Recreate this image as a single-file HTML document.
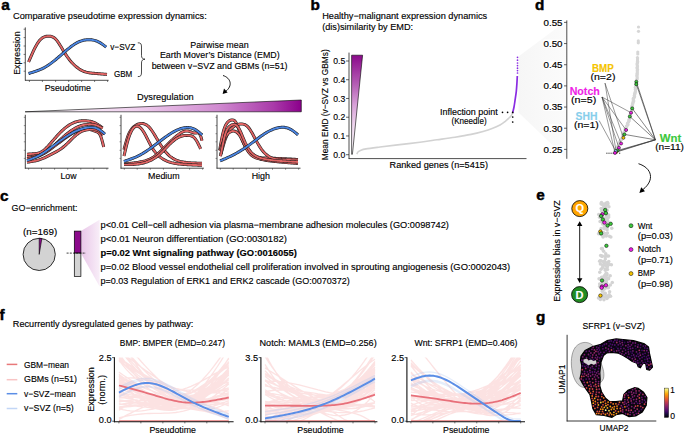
<!DOCTYPE html>
<html><head><meta charset="utf-8"><style>
html,body{margin:0;padding:0;background:#fff;}
svg{display:block;}
text{font-family:"Liberation Sans",sans-serif;font-size:9px;stroke:#000;stroke-width:0.14px;}
</style></head><body>
<svg width="685" height="433" viewBox="0 0 685 433">
<text x="1.2" y="9.8" style="font-size:15.3px;font-weight:bold;stroke:#000;stroke-width:0.45px">a</text>
<text x="13.00" y="19.40" textLength="193.70" lengthAdjust="spacingAndGlyphs" >Comparative pseudotime expression dynamics:</text>
<line x1="25.30" y1="27.40" x2="25.30" y2="80.60" stroke="#222" stroke-width="0.8" />
<line x1="25.00" y1="80.30" x2="108.60" y2="80.30" stroke="#222" stroke-width="0.8" />
<line x1="23.60" y1="29.20" x2="25.30" y2="29.20" stroke="#222" stroke-width="0.6" />
<line x1="23.60" y1="37.60" x2="25.30" y2="37.60" stroke="#222" stroke-width="0.6" />
<line x1="23.60" y1="46.00" x2="25.30" y2="46.00" stroke="#222" stroke-width="0.6" />
<line x1="23.60" y1="54.40" x2="25.30" y2="54.40" stroke="#222" stroke-width="0.6" />
<line x1="23.60" y1="62.80" x2="25.30" y2="62.80" stroke="#222" stroke-width="0.6" />
<line x1="23.60" y1="71.20" x2="25.30" y2="71.20" stroke="#222" stroke-width="0.6" />
<line x1="29.40" y1="80.30" x2="29.40" y2="82.00" stroke="#222" stroke-width="0.6" />
<line x1="42.40" y1="80.30" x2="42.40" y2="82.00" stroke="#222" stroke-width="0.6" />
<line x1="55.60" y1="80.30" x2="55.60" y2="82.00" stroke="#222" stroke-width="0.6" />
<line x1="68.70" y1="80.30" x2="68.70" y2="82.00" stroke="#222" stroke-width="0.6" />
<line x1="81.60" y1="80.30" x2="81.60" y2="82.00" stroke="#222" stroke-width="0.6" />
<line x1="94.60" y1="80.30" x2="94.60" y2="82.00" stroke="#222" stroke-width="0.6" />
<line x1="107.60" y1="80.30" x2="107.60" y2="82.00" stroke="#222" stroke-width="0.6" />
<text x="0" y="0" text-anchor="middle" textLength="43.40" lengthAdjust="spacingAndGlyphs" transform="translate(20.10,53.10) rotate(-90)">Expression</text>
<text x="44.70" y="90.80" textLength="46.30" lengthAdjust="spacingAndGlyphs" >Pseudotime</text>
<path d="M28.60,62.00 L29.59,59.69 L30.58,57.39 L31.58,55.12 L32.57,52.90 L33.56,50.74 L34.55,48.67 L35.55,46.72 L36.54,44.92 L37.53,43.28 L38.52,41.83 L39.52,40.56 L40.51,39.46 L41.50,38.55 L42.49,37.80 L43.49,37.23 L44.48,36.81 L45.47,36.52 L46.46,36.34 L47.46,36.23 L48.45,36.19 L49.44,36.20 L50.43,36.29 L51.43,36.48 L52.42,36.81 L53.41,37.29 L54.40,37.94 L55.39,38.80 L56.39,39.86 L57.38,41.12 L58.37,42.54 L59.36,44.07 L60.36,45.69 L61.35,47.35 L62.34,49.03 L63.33,50.69 L64.33,52.30 L65.32,53.87 L66.31,55.39 L67.30,56.84 L68.30,58.22 L69.29,59.54 L70.28,60.77 L71.27,61.94 L72.27,63.03 L73.26,64.06 L74.25,65.03 L75.24,65.94 L76.24,66.78 L77.23,67.57 L78.22,68.30 L79.21,68.97 L80.21,69.58 L81.20,70.13 L82.19,70.63 L83.18,71.08 L84.17,71.47 L85.17,71.81 L86.16,72.10 L87.15,72.36 L88.14,72.58 L89.14,72.76 L90.13,72.92 L91.12,73.05 L92.11,73.17 L93.11,73.26 L94.10,73.35 L95.09,73.43 L96.08,73.51 L97.08,73.58 L98.07,73.66 L99.06,73.74 L100.05,73.82 L101.05,73.90 L102.04,73.99 L103.03,74.07 L104.02,74.15 L105.02,74.23 L106.01,74.32 L107.00,74.40" fill="none" stroke="#1a1a1a" stroke-width="3.0" stroke-linecap="butt"/>
<path d="M28.60,62.00 L29.59,59.69 L30.58,57.39 L31.58,55.12 L32.57,52.90 L33.56,50.74 L34.55,48.67 L35.55,46.72 L36.54,44.92 L37.53,43.28 L38.52,41.83 L39.52,40.56 L40.51,39.46 L41.50,38.55 L42.49,37.80 L43.49,37.23 L44.48,36.81 L45.47,36.52 L46.46,36.34 L47.46,36.23 L48.45,36.19 L49.44,36.20 L50.43,36.29 L51.43,36.48 L52.42,36.81 L53.41,37.29 L54.40,37.94 L55.39,38.80 L56.39,39.86 L57.38,41.12 L58.37,42.54 L59.36,44.07 L60.36,45.69 L61.35,47.35 L62.34,49.03 L63.33,50.69 L64.33,52.30 L65.32,53.87 L66.31,55.39 L67.30,56.84 L68.30,58.22 L69.29,59.54 L70.28,60.77 L71.27,61.94 L72.27,63.03 L73.26,64.06 L74.25,65.03 L75.24,65.94 L76.24,66.78 L77.23,67.57 L78.22,68.30 L79.21,68.97 L80.21,69.58 L81.20,70.13 L82.19,70.63 L83.18,71.08 L84.17,71.47 L85.17,71.81 L86.16,72.10 L87.15,72.36 L88.14,72.58 L89.14,72.76 L90.13,72.92 L91.12,73.05 L92.11,73.17 L93.11,73.26 L94.10,73.35 L95.09,73.43 L96.08,73.51 L97.08,73.58 L98.07,73.66 L99.06,73.74 L100.05,73.82 L101.05,73.90 L102.04,73.99 L103.03,74.07 L104.02,74.15 L105.02,74.23 L106.01,74.32 L107.00,74.40" fill="none" stroke="#e06464" stroke-width="1.9" stroke-linecap="butt"/>
<path d="M28.60,73.50 L29.58,73.21 L30.56,72.91 L31.55,72.61 L32.53,72.31 L33.51,72.00 L34.49,71.68 L35.48,71.35 L36.46,71.00 L37.44,70.64 L38.42,70.27 L39.41,69.87 L40.39,69.46 L41.37,69.02 L42.35,68.56 L43.33,68.08 L44.32,67.57 L45.30,67.02 L46.28,66.45 L47.26,65.85 L48.25,65.21 L49.23,64.55 L50.21,63.85 L51.19,63.14 L52.17,62.40 L53.16,61.64 L54.14,60.86 L55.12,60.07 L56.10,59.26 L57.09,58.43 L58.07,57.60 L59.05,56.76 L60.03,55.91 L61.02,55.06 L62.00,54.20 L62.98,53.34 L63.96,52.49 L64.94,51.64 L65.93,50.79 L66.91,49.96 L67.89,49.14 L68.87,48.34 L69.86,47.56 L70.84,46.80 L71.82,46.07 L72.80,45.36 L73.78,44.69 L74.77,44.06 L75.75,43.46 L76.73,42.90 L77.71,42.39 L78.70,41.93 L79.68,41.51 L80.66,41.14 L81.64,40.81 L82.63,40.53 L83.61,40.29 L84.59,40.09 L85.57,39.93 L86.55,39.81 L87.54,39.74 L88.52,39.70 L89.50,39.70 L90.48,39.74 L91.47,39.83 L92.45,39.96 L93.43,40.13 L94.41,40.36 L95.39,40.63 L96.38,40.96 L97.36,41.35 L98.34,41.79 L99.32,42.29 L100.31,42.86 L101.29,43.48 L102.27,44.14 L103.25,44.85 L104.24,45.58 L105.22,46.34 L106.20,47.10" fill="none" stroke="#1a1a1a" stroke-width="3.0" stroke-linecap="butt"/>
<path d="M28.60,73.50 L29.58,73.21 L30.56,72.91 L31.55,72.61 L32.53,72.31 L33.51,72.00 L34.49,71.68 L35.48,71.35 L36.46,71.00 L37.44,70.64 L38.42,70.27 L39.41,69.87 L40.39,69.46 L41.37,69.02 L42.35,68.56 L43.33,68.08 L44.32,67.57 L45.30,67.02 L46.28,66.45 L47.26,65.85 L48.25,65.21 L49.23,64.55 L50.21,63.85 L51.19,63.14 L52.17,62.40 L53.16,61.64 L54.14,60.86 L55.12,60.07 L56.10,59.26 L57.09,58.43 L58.07,57.60 L59.05,56.76 L60.03,55.91 L61.02,55.06 L62.00,54.20 L62.98,53.34 L63.96,52.49 L64.94,51.64 L65.93,50.79 L66.91,49.96 L67.89,49.14 L68.87,48.34 L69.86,47.56 L70.84,46.80 L71.82,46.07 L72.80,45.36 L73.78,44.69 L74.77,44.06 L75.75,43.46 L76.73,42.90 L77.71,42.39 L78.70,41.93 L79.68,41.51 L80.66,41.14 L81.64,40.81 L82.63,40.53 L83.61,40.29 L84.59,40.09 L85.57,39.93 L86.55,39.81 L87.54,39.74 L88.52,39.70 L89.50,39.70 L90.48,39.74 L91.47,39.83 L92.45,39.96 L93.43,40.13 L94.41,40.36 L95.39,40.63 L96.38,40.96 L97.36,41.35 L98.34,41.79 L99.32,42.29 L100.31,42.86 L101.29,43.48 L102.27,44.14 L103.25,44.85 L104.24,45.58 L105.22,46.34 L106.20,47.10" fill="none" stroke="#4a84e0" stroke-width="1.9" stroke-linecap="butt"/>
<text x="110.20" y="49.60" textLength="25.00" lengthAdjust="spacingAndGlyphs" >v−SVZ</text>
<text x="113.90" y="77.20" textLength="18.40" lengthAdjust="spacingAndGlyphs" >GBM</text>
<path d="M137.8,42.8 C141,42.8 141.5,44 141.5,47 L141.5,55.5 C141.5,58 142.5,59 145,59.2 C142.5,59.4 141.5,60.4 141.5,63 L141.5,72 C141.5,75.5 141,76.6 137.8,76.6" fill="none" stroke="#000" stroke-width="0.7"/>
<text x="219.40" y="47.50" text-anchor="middle" textLength="58.40" lengthAdjust="spacingAndGlyphs" >Pairwise mean</text>
<text x="219.80" y="57.60" text-anchor="middle" textLength="119.80" lengthAdjust="spacingAndGlyphs" >Earth Mover’s Distance (EMD)</text>
<text x="219.60" y="68.50" text-anchor="middle" textLength="135.90" lengthAdjust="spacingAndGlyphs" >between v−SVZ and GBMs (n=51)</text>
<path d="M223,75.5 C231,78 233,86 225.5,91.5" fill="none" stroke="#000" stroke-width="0.9"/>
<path d="M222.6,94 L224,88.6 L227.6,92.4 Z" fill="#000"/>
<text x="137.00" y="99.60" textLength="56.70" lengthAdjust="spacingAndGlyphs" >Dysregulation</text>
<defs><linearGradient id="gw" x1="0" x2="1" y1="0" y2="0"><stop offset="0" stop-color="#ffffff"/><stop offset="0.4" stop-color="#efd0ee"/><stop offset="0.7" stop-color="#d08ad0"/><stop offset="0.9" stop-color="#a93aa9"/><stop offset="1" stop-color="#8b008b"/></linearGradient><linearGradient id="gb" x1="0" x2="0" y1="0" y2="1"><stop offset="0" stop-color="#8b0a8b"/><stop offset="0.3" stop-color="#b55fb5"/><stop offset="0.5" stop-color="#d7a0d7"/><stop offset="0.72" stop-color="#f0d9f0"/><stop offset="1" stop-color="#ffffff"/></linearGradient><linearGradient id="gcone" x1="0" x2="1" y1="0" y2="0"><stop offset="0" stop-color="#f6f6f6"/><stop offset="1" stop-color="#fbfbfb"/></linearGradient><linearGradient id="gpink" x1="0" x2="1" y1="0" y2="0"><stop offset="0" stop-color="#e9c6e8"/><stop offset="1" stop-color="#f8eef8"/></linearGradient></defs>
<path d="M25.1,111.8 L301.3,100 L301.3,111.8 Z" fill="url(#gw)" stroke="#000" stroke-width="0.6"/>
<line x1="25.30" y1="114.80" x2="25.30" y2="168.60" stroke="#333" stroke-width="0.9" />
<line x1="24.90" y1="168.20" x2="108.50" y2="168.20" stroke="#333" stroke-width="0.9" />
<line x1="23.80" y1="117.30" x2="25.30" y2="117.30" stroke="#333" stroke-width="0.5" />
<line x1="23.80" y1="125.60" x2="25.30" y2="125.60" stroke="#333" stroke-width="0.5" />
<line x1="23.80" y1="133.70" x2="25.30" y2="133.70" stroke="#333" stroke-width="0.5" />
<line x1="23.80" y1="141.80" x2="25.30" y2="141.80" stroke="#333" stroke-width="0.5" />
<line x1="23.80" y1="150.30" x2="25.30" y2="150.30" stroke="#333" stroke-width="0.5" />
<line x1="23.80" y1="158.40" x2="25.30" y2="158.40" stroke="#333" stroke-width="0.5" />
<line x1="28.60" y1="168.20" x2="28.60" y2="169.70" stroke="#333" stroke-width="0.6" />
<line x1="41.50" y1="168.20" x2="41.50" y2="169.70" stroke="#333" stroke-width="0.6" />
<line x1="54.60" y1="168.20" x2="54.60" y2="169.70" stroke="#333" stroke-width="0.6" />
<line x1="67.70" y1="168.20" x2="67.70" y2="169.70" stroke="#333" stroke-width="0.6" />
<line x1="80.80" y1="168.20" x2="80.80" y2="169.70" stroke="#333" stroke-width="0.6" />
<line x1="93.90" y1="168.20" x2="93.90" y2="169.70" stroke="#333" stroke-width="0.6" />
<line x1="106.90" y1="168.20" x2="106.90" y2="169.70" stroke="#333" stroke-width="0.6" />
<line x1="121.00" y1="114.80" x2="121.00" y2="168.60" stroke="#333" stroke-width="0.9" />
<line x1="120.60" y1="168.20" x2="203.90" y2="168.20" stroke="#333" stroke-width="0.9" />
<line x1="119.50" y1="117.30" x2="121.00" y2="117.30" stroke="#333" stroke-width="0.5" />
<line x1="119.50" y1="125.60" x2="121.00" y2="125.60" stroke="#333" stroke-width="0.5" />
<line x1="119.50" y1="133.70" x2="121.00" y2="133.70" stroke="#333" stroke-width="0.5" />
<line x1="119.50" y1="141.80" x2="121.00" y2="141.80" stroke="#333" stroke-width="0.5" />
<line x1="119.50" y1="150.30" x2="121.00" y2="150.30" stroke="#333" stroke-width="0.5" />
<line x1="119.50" y1="158.40" x2="121.00" y2="158.40" stroke="#333" stroke-width="0.5" />
<line x1="124.30" y1="168.20" x2="124.30" y2="169.70" stroke="#333" stroke-width="0.6" />
<line x1="137.20" y1="168.20" x2="137.20" y2="169.70" stroke="#333" stroke-width="0.6" />
<line x1="150.30" y1="168.20" x2="150.30" y2="169.70" stroke="#333" stroke-width="0.6" />
<line x1="163.40" y1="168.20" x2="163.40" y2="169.70" stroke="#333" stroke-width="0.6" />
<line x1="176.50" y1="168.20" x2="176.50" y2="169.70" stroke="#333" stroke-width="0.6" />
<line x1="189.60" y1="168.20" x2="189.60" y2="169.70" stroke="#333" stroke-width="0.6" />
<line x1="202.60" y1="168.20" x2="202.60" y2="169.70" stroke="#333" stroke-width="0.6" />
<line x1="217.00" y1="114.80" x2="217.00" y2="168.60" stroke="#333" stroke-width="0.9" />
<line x1="216.60" y1="168.20" x2="300.50" y2="168.20" stroke="#333" stroke-width="0.9" />
<line x1="215.50" y1="117.30" x2="217.00" y2="117.30" stroke="#333" stroke-width="0.5" />
<line x1="215.50" y1="125.60" x2="217.00" y2="125.60" stroke="#333" stroke-width="0.5" />
<line x1="215.50" y1="133.70" x2="217.00" y2="133.70" stroke="#333" stroke-width="0.5" />
<line x1="215.50" y1="141.80" x2="217.00" y2="141.80" stroke="#333" stroke-width="0.5" />
<line x1="215.50" y1="150.30" x2="217.00" y2="150.30" stroke="#333" stroke-width="0.5" />
<line x1="215.50" y1="158.40" x2="217.00" y2="158.40" stroke="#333" stroke-width="0.5" />
<line x1="220.30" y1="168.20" x2="220.30" y2="169.70" stroke="#333" stroke-width="0.6" />
<line x1="233.20" y1="168.20" x2="233.20" y2="169.70" stroke="#333" stroke-width="0.6" />
<line x1="246.30" y1="168.20" x2="246.30" y2="169.70" stroke="#333" stroke-width="0.6" />
<line x1="259.40" y1="168.20" x2="259.40" y2="169.70" stroke="#333" stroke-width="0.6" />
<line x1="272.50" y1="168.20" x2="272.50" y2="169.70" stroke="#333" stroke-width="0.6" />
<line x1="285.60" y1="168.20" x2="285.60" y2="169.70" stroke="#333" stroke-width="0.6" />
<line x1="298.60" y1="168.20" x2="298.60" y2="169.70" stroke="#333" stroke-width="0.6" />
<path d="M27.00,154.20 L27.96,154.15 L28.91,154.10 L29.87,154.04 L30.83,153.98 L31.78,153.91 L32.74,153.83 L33.70,153.74 L34.66,153.64 L35.61,153.52 L36.57,153.38 L37.53,153.20 L38.48,152.97 L39.44,152.68 L40.40,152.32 L41.35,151.86 L42.31,151.31 L43.27,150.65 L44.23,149.89 L45.18,149.06 L46.14,148.15 L47.10,147.18 L48.05,146.17 L49.01,145.12 L49.97,144.04 L50.92,142.94 L51.88,141.84 L52.84,140.74 L53.79,139.63 L54.75,138.53 L55.71,137.44 L56.67,136.37 L57.62,135.32 L58.58,134.28 L59.54,133.28 L60.49,132.30 L61.45,131.35 L62.41,130.44 L63.36,129.56 L64.32,128.72 L65.28,127.92 L66.24,127.17 L67.19,126.45 L68.15,125.77 L69.11,125.14 L70.06,124.56 L71.02,124.01 L71.98,123.51 L72.93,123.06 L73.89,122.65 L74.85,122.28 L75.81,121.95 L76.76,121.67 L77.72,121.42 L78.68,121.22 L79.63,121.05 L80.59,120.92 L81.55,120.83 L82.50,120.77 L83.46,120.74 L84.42,120.74 L85.37,120.77 L86.33,120.82 L87.29,120.90 L88.25,121.00 L89.20,121.14 L90.16,121.31 L91.12,121.53 L92.07,121.80 L93.03,122.12 L93.99,122.49 L94.94,122.93 L95.90,123.42 L96.86,123.96 L97.82,124.53 L98.77,125.15 L99.73,125.79 L100.69,126.45 L101.64,127.12 L102.60,127.80" fill="none" stroke="#1a1a1a" stroke-width="3.0" stroke-linecap="butt"/>
<path d="M27.00,154.20 L27.96,154.15 L28.91,154.10 L29.87,154.04 L30.83,153.98 L31.78,153.91 L32.74,153.83 L33.70,153.74 L34.66,153.64 L35.61,153.52 L36.57,153.38 L37.53,153.20 L38.48,152.97 L39.44,152.68 L40.40,152.32 L41.35,151.86 L42.31,151.31 L43.27,150.65 L44.23,149.89 L45.18,149.06 L46.14,148.15 L47.10,147.18 L48.05,146.17 L49.01,145.12 L49.97,144.04 L50.92,142.94 L51.88,141.84 L52.84,140.74 L53.79,139.63 L54.75,138.53 L55.71,137.44 L56.67,136.37 L57.62,135.32 L58.58,134.28 L59.54,133.28 L60.49,132.30 L61.45,131.35 L62.41,130.44 L63.36,129.56 L64.32,128.72 L65.28,127.92 L66.24,127.17 L67.19,126.45 L68.15,125.77 L69.11,125.14 L70.06,124.56 L71.02,124.01 L71.98,123.51 L72.93,123.06 L73.89,122.65 L74.85,122.28 L75.81,121.95 L76.76,121.67 L77.72,121.42 L78.68,121.22 L79.63,121.05 L80.59,120.92 L81.55,120.83 L82.50,120.77 L83.46,120.74 L84.42,120.74 L85.37,120.77 L86.33,120.82 L87.29,120.90 L88.25,121.00 L89.20,121.14 L90.16,121.31 L91.12,121.53 L92.07,121.80 L93.03,122.12 L93.99,122.49 L94.94,122.93 L95.90,123.42 L96.86,123.96 L97.82,124.53 L98.77,125.15 L99.73,125.79 L100.69,126.45 L101.64,127.12 L102.60,127.80" fill="none" stroke="#e06464" stroke-width="1.9" stroke-linecap="butt"/>
<path d="M27.00,156.80 L27.96,156.78 L28.91,156.75 L29.87,156.72 L30.83,156.67 L31.78,156.61 L32.74,156.53 L33.70,156.44 L34.66,156.31 L35.61,156.16 L36.57,155.98 L37.53,155.76 L38.48,155.50 L39.44,155.20 L40.40,154.85 L41.35,154.45 L42.31,154.01 L43.27,153.53 L44.23,153.00 L45.18,152.43 L46.14,151.82 L47.10,151.17 L48.05,150.49 L49.01,149.78 L49.97,149.03 L50.92,148.25 L51.88,147.44 L52.84,146.61 L53.79,145.76 L54.75,144.89 L55.71,144.01 L56.67,143.12 L57.62,142.22 L58.58,141.33 L59.54,140.43 L60.49,139.54 L61.45,138.66 L62.41,137.79 L63.36,136.93 L64.32,136.08 L65.28,135.26 L66.24,134.45 L67.19,133.66 L68.15,132.90 L69.11,132.16 L70.06,131.45 L71.02,130.78 L71.98,130.13 L72.93,129.51 L73.89,128.93 L74.85,128.38 L75.81,127.86 L76.76,127.38 L77.72,126.93 L78.68,126.51 L79.63,126.14 L80.59,125.79 L81.55,125.49 L82.50,125.22 L83.46,124.99 L84.42,124.79 L85.37,124.62 L86.33,124.49 L87.29,124.40 L88.25,124.33 L89.20,124.30 L90.16,124.30 L91.12,124.34 L92.07,124.40 L93.03,124.51 L93.99,124.67 L94.94,124.87 L95.90,125.13 L96.86,125.45 L97.82,125.82 L98.77,126.26 L99.73,126.73 L100.69,127.23 L101.64,127.76 L102.60,128.30" fill="none" stroke="#1a1a1a" stroke-width="3.0" stroke-linecap="butt"/>
<path d="M27.00,156.80 L27.96,156.78 L28.91,156.75 L29.87,156.72 L30.83,156.67 L31.78,156.61 L32.74,156.53 L33.70,156.44 L34.66,156.31 L35.61,156.16 L36.57,155.98 L37.53,155.76 L38.48,155.50 L39.44,155.20 L40.40,154.85 L41.35,154.45 L42.31,154.01 L43.27,153.53 L44.23,153.00 L45.18,152.43 L46.14,151.82 L47.10,151.17 L48.05,150.49 L49.01,149.78 L49.97,149.03 L50.92,148.25 L51.88,147.44 L52.84,146.61 L53.79,145.76 L54.75,144.89 L55.71,144.01 L56.67,143.12 L57.62,142.22 L58.58,141.33 L59.54,140.43 L60.49,139.54 L61.45,138.66 L62.41,137.79 L63.36,136.93 L64.32,136.08 L65.28,135.26 L66.24,134.45 L67.19,133.66 L68.15,132.90 L69.11,132.16 L70.06,131.45 L71.02,130.78 L71.98,130.13 L72.93,129.51 L73.89,128.93 L74.85,128.38 L75.81,127.86 L76.76,127.38 L77.72,126.93 L78.68,126.51 L79.63,126.14 L80.59,125.79 L81.55,125.49 L82.50,125.22 L83.46,124.99 L84.42,124.79 L85.37,124.62 L86.33,124.49 L87.29,124.40 L88.25,124.33 L89.20,124.30 L90.16,124.30 L91.12,124.34 L92.07,124.40 L93.03,124.51 L93.99,124.67 L94.94,124.87 L95.90,125.13 L96.86,125.45 L97.82,125.82 L98.77,126.26 L99.73,126.73 L100.69,127.23 L101.64,127.76 L102.60,128.30" fill="none" stroke="#e06464" stroke-width="1.9" stroke-linecap="butt"/>
<path d="M27.00,158.60 L27.97,158.46 L28.94,158.32 L29.91,158.17 L30.88,158.02 L31.85,157.85 L32.83,157.66 L33.80,157.46 L34.77,157.23 L35.74,156.98 L36.71,156.70 L37.68,156.39 L38.65,156.04 L39.62,155.66 L40.59,155.24 L41.56,154.77 L42.53,154.27 L43.51,153.73 L44.48,153.16 L45.45,152.56 L46.42,151.94 L47.39,151.29 L48.36,150.63 L49.33,149.94 L50.30,149.25 L51.27,148.54 L52.24,147.82 L53.21,147.10 L54.18,146.37 L55.16,145.64 L56.13,144.90 L57.10,144.17 L58.07,143.43 L59.04,142.70 L60.01,141.97 L60.98,141.24 L61.95,140.51 L62.92,139.79 L63.89,139.08 L64.86,138.37 L65.84,137.67 L66.81,136.99 L67.78,136.32 L68.75,135.66 L69.72,135.03 L70.69,134.41 L71.66,133.82 L72.63,133.26 L73.60,132.72 L74.57,132.21 L75.54,131.74 L76.52,131.30 L77.49,130.90 L78.46,130.53 L79.43,130.20 L80.40,129.91 L81.37,129.66 L82.34,129.45 L83.31,129.29 L84.28,129.17 L85.25,129.09 L86.22,129.07 L87.19,129.10 L88.17,129.18 L89.14,129.32 L90.11,129.53 L91.08,129.79 L92.05,130.11 L93.02,130.45 L93.99,130.80 L94.96,131.15 L95.93,131.48 L96.90,131.79 L97.87,132.25 L98.85,133.04 L99.82,134.37 L100.79,136.43 L101.76,139.37 L102.73,143.01 L103.70,147.00" fill="none" stroke="#1a1a1a" stroke-width="3.0" stroke-linecap="butt"/>
<path d="M27.00,158.60 L27.97,158.46 L28.94,158.32 L29.91,158.17 L30.88,158.02 L31.85,157.85 L32.83,157.66 L33.80,157.46 L34.77,157.23 L35.74,156.98 L36.71,156.70 L37.68,156.39 L38.65,156.04 L39.62,155.66 L40.59,155.24 L41.56,154.77 L42.53,154.27 L43.51,153.73 L44.48,153.16 L45.45,152.56 L46.42,151.94 L47.39,151.29 L48.36,150.63 L49.33,149.94 L50.30,149.25 L51.27,148.54 L52.24,147.82 L53.21,147.10 L54.18,146.37 L55.16,145.64 L56.13,144.90 L57.10,144.17 L58.07,143.43 L59.04,142.70 L60.01,141.97 L60.98,141.24 L61.95,140.51 L62.92,139.79 L63.89,139.08 L64.86,138.37 L65.84,137.67 L66.81,136.99 L67.78,136.32 L68.75,135.66 L69.72,135.03 L70.69,134.41 L71.66,133.82 L72.63,133.26 L73.60,132.72 L74.57,132.21 L75.54,131.74 L76.52,131.30 L77.49,130.90 L78.46,130.53 L79.43,130.20 L80.40,129.91 L81.37,129.66 L82.34,129.45 L83.31,129.29 L84.28,129.17 L85.25,129.09 L86.22,129.07 L87.19,129.10 L88.17,129.18 L89.14,129.32 L90.11,129.53 L91.08,129.79 L92.05,130.11 L93.02,130.45 L93.99,130.80 L94.96,131.15 L95.93,131.48 L96.90,131.79 L97.87,132.25 L98.85,133.04 L99.82,134.37 L100.79,136.43 L101.76,139.37 L102.73,143.01 L103.70,147.00" fill="none" stroke="#e06464" stroke-width="1.9" stroke-linecap="butt"/>
<path d="M27.00,162.20 L27.97,162.06 L28.93,161.92 L29.90,161.78 L30.86,161.63 L31.83,161.47 L32.79,161.30 L33.76,161.11 L34.73,160.92 L35.69,160.71 L36.66,160.47 L37.62,160.22 L38.59,159.95 L39.56,159.65 L40.52,159.32 L41.49,158.97 L42.45,158.59 L43.42,158.19 L44.38,157.77 L45.35,157.33 L46.32,156.88 L47.28,156.41 L48.25,155.93 L49.21,155.44 L50.18,154.95 L51.15,154.45 L52.11,153.94 L53.08,153.44 L54.04,152.93 L55.01,152.41 L55.97,151.88 L56.94,151.33 L57.91,150.76 L58.87,150.18 L59.84,149.56 L60.80,148.91 L61.77,148.24 L62.74,147.52 L63.70,146.76 L64.67,145.96 L65.63,145.11 L66.60,144.22 L67.56,143.29 L68.53,142.33 L69.50,141.36 L70.46,140.38 L71.43,139.41 L72.39,138.45 L73.36,137.51 L74.33,136.61 L75.29,135.75 L76.26,134.93 L77.22,134.17 L78.19,133.47 L79.15,132.82 L80.12,132.23 L81.09,131.69 L82.05,131.22 L83.02,130.82 L83.98,130.47 L84.95,130.20 L85.92,129.98 L86.88,129.81 L87.85,129.69 L88.81,129.60 L89.78,129.55 L90.74,129.52 L91.71,129.50 L92.68,129.50 L93.64,129.52 L94.61,129.58 L95.57,129.70 L96.54,129.92 L97.51,130.24 L98.47,130.69 L99.44,131.29 L100.40,132.04 L101.37,132.90 L102.33,133.83 L103.30,134.80" fill="none" stroke="#1a1a1a" stroke-width="3.0" stroke-linecap="butt"/>
<path d="M27.00,162.20 L27.97,162.06 L28.93,161.92 L29.90,161.78 L30.86,161.63 L31.83,161.47 L32.79,161.30 L33.76,161.11 L34.73,160.92 L35.69,160.71 L36.66,160.47 L37.62,160.22 L38.59,159.95 L39.56,159.65 L40.52,159.32 L41.49,158.97 L42.45,158.59 L43.42,158.19 L44.38,157.77 L45.35,157.33 L46.32,156.88 L47.28,156.41 L48.25,155.93 L49.21,155.44 L50.18,154.95 L51.15,154.45 L52.11,153.94 L53.08,153.44 L54.04,152.93 L55.01,152.41 L55.97,151.88 L56.94,151.33 L57.91,150.76 L58.87,150.18 L59.84,149.56 L60.80,148.91 L61.77,148.24 L62.74,147.52 L63.70,146.76 L64.67,145.96 L65.63,145.11 L66.60,144.22 L67.56,143.29 L68.53,142.33 L69.50,141.36 L70.46,140.38 L71.43,139.41 L72.39,138.45 L73.36,137.51 L74.33,136.61 L75.29,135.75 L76.26,134.93 L77.22,134.17 L78.19,133.47 L79.15,132.82 L80.12,132.23 L81.09,131.69 L82.05,131.22 L83.02,130.82 L83.98,130.47 L84.95,130.20 L85.92,129.98 L86.88,129.81 L87.85,129.69 L88.81,129.60 L89.78,129.55 L90.74,129.52 L91.71,129.50 L92.68,129.50 L93.64,129.52 L94.61,129.58 L95.57,129.70 L96.54,129.92 L97.51,130.24 L98.47,130.69 L99.44,131.29 L100.40,132.04 L101.37,132.90 L102.33,133.83 L103.30,134.80" fill="none" stroke="#e06464" stroke-width="1.9" stroke-linecap="butt"/>
<path d="M27.00,160.50 L27.99,160.15 L28.97,159.79 L29.96,159.43 L30.95,159.07 L31.94,158.69 L32.92,158.31 L33.91,157.91 L34.90,157.49 L35.89,157.06 L36.87,156.60 L37.86,156.12 L38.85,155.62 L39.84,155.09 L40.82,154.53 L41.81,153.94 L42.80,153.33 L43.78,152.70 L44.77,152.04 L45.76,151.37 L46.75,150.68 L47.73,149.97 L48.72,149.26 L49.71,148.54 L50.70,147.81 L51.68,147.09 L52.67,146.36 L53.66,145.63 L54.65,144.90 L55.63,144.18 L56.62,143.45 L57.61,142.73 L58.59,142.01 L59.58,141.30 L60.57,140.59 L61.56,139.89 L62.54,139.19 L63.53,138.50 L64.52,137.83 L65.51,137.16 L66.49,136.51 L67.48,135.87 L68.47,135.25 L69.46,134.65 L70.44,134.06 L71.43,133.50 L72.42,132.95 L73.41,132.43 L74.39,131.93 L75.38,131.45 L76.37,130.99 L77.35,130.55 L78.34,130.14 L79.33,129.75 L80.32,129.39 L81.30,129.05 L82.29,128.73 L83.28,128.45 L84.27,128.19 L85.25,127.97 L86.24,127.78 L87.23,127.62 L88.22,127.49 L89.20,127.41 L90.19,127.36 L91.18,127.35 L92.16,127.40 L93.15,127.50 L94.14,127.66 L95.13,127.89 L96.11,128.19 L97.10,128.58 L98.09,129.05 L99.08,129.60 L100.06,130.23 L101.05,130.93 L102.04,131.68 L103.03,132.46 L104.01,133.28 L105.00,134.10" fill="none" stroke="#1a1a1a" stroke-width="3.0" stroke-linecap="butt"/>
<path d="M27.00,160.50 L27.99,160.15 L28.97,159.79 L29.96,159.43 L30.95,159.07 L31.94,158.69 L32.92,158.31 L33.91,157.91 L34.90,157.49 L35.89,157.06 L36.87,156.60 L37.86,156.12 L38.85,155.62 L39.84,155.09 L40.82,154.53 L41.81,153.94 L42.80,153.33 L43.78,152.70 L44.77,152.04 L45.76,151.37 L46.75,150.68 L47.73,149.97 L48.72,149.26 L49.71,148.54 L50.70,147.81 L51.68,147.09 L52.67,146.36 L53.66,145.63 L54.65,144.90 L55.63,144.18 L56.62,143.45 L57.61,142.73 L58.59,142.01 L59.58,141.30 L60.57,140.59 L61.56,139.89 L62.54,139.19 L63.53,138.50 L64.52,137.83 L65.51,137.16 L66.49,136.51 L67.48,135.87 L68.47,135.25 L69.46,134.65 L70.44,134.06 L71.43,133.50 L72.42,132.95 L73.41,132.43 L74.39,131.93 L75.38,131.45 L76.37,130.99 L77.35,130.55 L78.34,130.14 L79.33,129.75 L80.32,129.39 L81.30,129.05 L82.29,128.73 L83.28,128.45 L84.27,128.19 L85.25,127.97 L86.24,127.78 L87.23,127.62 L88.22,127.49 L89.20,127.41 L90.19,127.36 L91.18,127.35 L92.16,127.40 L93.15,127.50 L94.14,127.66 L95.13,127.89 L96.11,128.19 L97.10,128.58 L98.09,129.05 L99.08,129.60 L100.06,130.23 L101.05,130.93 L102.04,131.68 L103.03,132.46 L104.01,133.28 L105.00,134.10" fill="none" stroke="#4a84e0" stroke-width="1.9" stroke-linecap="butt"/>
<path d="M124.00,149.60 L124.99,145.92 L125.97,142.37 L126.96,139.06 L127.95,136.14 L128.94,133.69 L129.92,131.68 L130.91,130.05 L131.90,128.72 L132.89,127.62 L133.87,126.68 L134.86,125.89 L135.85,125.23 L136.84,124.70 L137.82,124.27 L138.81,123.93 L139.80,123.70 L140.78,123.57 L141.77,123.54 L142.76,123.61 L143.75,123.80 L144.73,124.10 L145.72,124.53 L146.71,125.10 L147.70,125.81 L148.68,126.68 L149.67,127.73 L150.66,128.93 L151.65,130.26 L152.63,131.71 L153.62,133.25 L154.61,134.85 L155.59,136.50 L156.58,138.17 L157.57,139.85 L158.56,141.52 L159.54,143.16 L160.53,144.76 L161.52,146.30 L162.51,147.77 L163.49,149.16 L164.48,150.48 L165.47,151.72 L166.46,152.87 L167.44,153.94 L168.43,154.92 L169.42,155.81 L170.41,156.61 L171.39,157.34 L172.38,158.00 L173.37,158.59 L174.35,159.13 L175.34,159.60 L176.33,160.03 L177.32,160.42 L178.30,160.77 L179.29,161.08 L180.28,161.36 L181.27,161.60 L182.25,161.82 L183.24,162.01 L184.23,162.18 L185.22,162.32 L186.20,162.45 L187.19,162.56 L188.18,162.65 L189.16,162.74 L190.15,162.81 L191.14,162.88 L192.13,162.94 L193.11,162.99 L194.10,163.04 L195.09,163.08 L196.08,163.12 L197.06,163.16 L198.05,163.19 L199.04,163.22 L200.03,163.25 L201.01,163.27 L202.00,163.30" fill="none" stroke="#1a1a1a" stroke-width="3.0" stroke-linecap="butt"/>
<path d="M124.00,149.60 L124.99,145.92 L125.97,142.37 L126.96,139.06 L127.95,136.14 L128.94,133.69 L129.92,131.68 L130.91,130.05 L131.90,128.72 L132.89,127.62 L133.87,126.68 L134.86,125.89 L135.85,125.23 L136.84,124.70 L137.82,124.27 L138.81,123.93 L139.80,123.70 L140.78,123.57 L141.77,123.54 L142.76,123.61 L143.75,123.80 L144.73,124.10 L145.72,124.53 L146.71,125.10 L147.70,125.81 L148.68,126.68 L149.67,127.73 L150.66,128.93 L151.65,130.26 L152.63,131.71 L153.62,133.25 L154.61,134.85 L155.59,136.50 L156.58,138.17 L157.57,139.85 L158.56,141.52 L159.54,143.16 L160.53,144.76 L161.52,146.30 L162.51,147.77 L163.49,149.16 L164.48,150.48 L165.47,151.72 L166.46,152.87 L167.44,153.94 L168.43,154.92 L169.42,155.81 L170.41,156.61 L171.39,157.34 L172.38,158.00 L173.37,158.59 L174.35,159.13 L175.34,159.60 L176.33,160.03 L177.32,160.42 L178.30,160.77 L179.29,161.08 L180.28,161.36 L181.27,161.60 L182.25,161.82 L183.24,162.01 L184.23,162.18 L185.22,162.32 L186.20,162.45 L187.19,162.56 L188.18,162.65 L189.16,162.74 L190.15,162.81 L191.14,162.88 L192.13,162.94 L193.11,162.99 L194.10,163.04 L195.09,163.08 L196.08,163.12 L197.06,163.16 L198.05,163.19 L199.04,163.22 L200.03,163.25 L201.01,163.27 L202.00,163.30" fill="none" stroke="#e06464" stroke-width="1.9" stroke-linecap="butt"/>
<path d="M124.00,156.00 L124.99,151.76 L125.97,147.64 L126.96,143.74 L127.95,140.17 L128.94,137.03 L129.92,134.33 L130.91,132.05 L131.90,130.17 L132.89,128.68 L133.87,127.55 L134.86,126.76 L135.85,126.30 L136.84,126.14 L137.82,126.25 L138.81,126.62 L139.80,127.25 L140.78,128.11 L141.77,129.21 L142.76,130.54 L143.75,132.06 L144.73,133.74 L145.72,135.54 L146.71,137.43 L147.70,139.37 L148.68,141.32 L149.67,143.25 L150.66,145.12 L151.65,146.89 L152.63,148.54 L153.62,150.04 L154.61,151.41 L155.59,152.66 L156.58,153.79 L157.57,154.83 L158.56,155.77 L159.54,156.63 L160.53,157.41 L161.52,158.13 L162.51,158.79 L163.49,159.38 L164.48,159.93 L165.47,160.42 L166.46,160.87 L167.44,161.28 L168.43,161.66 L169.42,162.00 L170.41,162.31 L171.39,162.60 L172.38,162.85 L173.37,163.08 L174.35,163.29 L175.34,163.47 L176.33,163.64 L177.32,163.79 L178.30,163.92 L179.29,164.03 L180.28,164.13 L181.27,164.23 L182.25,164.31 L183.24,164.38 L184.23,164.45 L185.22,164.51 L186.20,164.57 L187.19,164.63 L188.18,164.69 L189.16,164.74 L190.15,164.79 L191.14,164.84 L192.13,164.89 L193.11,164.94 L194.10,164.98 L195.09,165.02 L196.08,165.06 L197.06,165.11 L198.05,165.15 L199.04,165.18 L200.03,165.22 L201.01,165.26 L202.00,165.30" fill="none" stroke="#1a1a1a" stroke-width="3.0" stroke-linecap="butt"/>
<path d="M124.00,156.00 L124.99,151.76 L125.97,147.64 L126.96,143.74 L127.95,140.17 L128.94,137.03 L129.92,134.33 L130.91,132.05 L131.90,130.17 L132.89,128.68 L133.87,127.55 L134.86,126.76 L135.85,126.30 L136.84,126.14 L137.82,126.25 L138.81,126.62 L139.80,127.25 L140.78,128.11 L141.77,129.21 L142.76,130.54 L143.75,132.06 L144.73,133.74 L145.72,135.54 L146.71,137.43 L147.70,139.37 L148.68,141.32 L149.67,143.25 L150.66,145.12 L151.65,146.89 L152.63,148.54 L153.62,150.04 L154.61,151.41 L155.59,152.66 L156.58,153.79 L157.57,154.83 L158.56,155.77 L159.54,156.63 L160.53,157.41 L161.52,158.13 L162.51,158.79 L163.49,159.38 L164.48,159.93 L165.47,160.42 L166.46,160.87 L167.44,161.28 L168.43,161.66 L169.42,162.00 L170.41,162.31 L171.39,162.60 L172.38,162.85 L173.37,163.08 L174.35,163.29 L175.34,163.47 L176.33,163.64 L177.32,163.79 L178.30,163.92 L179.29,164.03 L180.28,164.13 L181.27,164.23 L182.25,164.31 L183.24,164.38 L184.23,164.45 L185.22,164.51 L186.20,164.57 L187.19,164.63 L188.18,164.69 L189.16,164.74 L190.15,164.79 L191.14,164.84 L192.13,164.89 L193.11,164.94 L194.10,164.98 L195.09,165.02 L196.08,165.06 L197.06,165.11 L198.05,165.15 L199.04,165.18 L200.03,165.22 L201.01,165.26 L202.00,165.30" fill="none" stroke="#e06464" stroke-width="1.9" stroke-linecap="butt"/>
<path d="M124.00,164.00 L124.99,163.91 L125.97,163.82 L126.96,163.73 L127.95,163.64 L128.94,163.54 L129.92,163.44 L130.91,163.33 L131.90,163.22 L132.89,163.11 L133.87,162.98 L134.86,162.85 L135.85,162.71 L136.84,162.56 L137.82,162.40 L138.81,162.22 L139.80,162.04 L140.78,161.84 L141.77,161.63 L142.76,161.40 L143.75,161.15 L144.73,160.88 L145.72,160.58 L146.71,160.25 L147.70,159.89 L148.68,159.50 L149.67,159.07 L150.66,158.60 L151.65,158.09 L152.63,157.53 L153.62,156.93 L154.61,156.27 L155.59,155.57 L156.58,154.81 L157.57,154.01 L158.56,153.16 L159.54,152.28 L160.53,151.37 L161.52,150.44 L162.51,149.48 L163.49,148.51 L164.48,147.52 L165.47,146.53 L166.46,145.54 L167.44,144.56 L168.43,143.57 L169.42,142.60 L170.41,141.64 L171.39,140.69 L172.38,139.75 L173.37,138.84 L174.35,137.94 L175.34,137.07 L176.33,136.22 L177.32,135.40 L178.30,134.63 L179.29,133.90 L180.28,133.23 L181.27,132.62 L182.25,132.10 L183.24,131.66 L184.23,131.31 L185.22,131.07 L186.20,130.95 L187.19,130.95 L188.18,131.08 L189.16,131.33 L190.15,131.65 L191.14,132.02 L192.13,132.38 L193.11,132.70 L194.10,132.93 L195.09,133.04 L196.08,132.99 L197.06,132.81 L198.05,132.79 L199.04,133.26 L200.03,134.57 L201.01,137.04 L202.00,140.70" fill="none" stroke="#1a1a1a" stroke-width="3.0" stroke-linecap="butt"/>
<path d="M124.00,164.00 L124.99,163.91 L125.97,163.82 L126.96,163.73 L127.95,163.64 L128.94,163.54 L129.92,163.44 L130.91,163.33 L131.90,163.22 L132.89,163.11 L133.87,162.98 L134.86,162.85 L135.85,162.71 L136.84,162.56 L137.82,162.40 L138.81,162.22 L139.80,162.04 L140.78,161.84 L141.77,161.63 L142.76,161.40 L143.75,161.15 L144.73,160.88 L145.72,160.58 L146.71,160.25 L147.70,159.89 L148.68,159.50 L149.67,159.07 L150.66,158.60 L151.65,158.09 L152.63,157.53 L153.62,156.93 L154.61,156.27 L155.59,155.57 L156.58,154.81 L157.57,154.01 L158.56,153.16 L159.54,152.28 L160.53,151.37 L161.52,150.44 L162.51,149.48 L163.49,148.51 L164.48,147.52 L165.47,146.53 L166.46,145.54 L167.44,144.56 L168.43,143.57 L169.42,142.60 L170.41,141.64 L171.39,140.69 L172.38,139.75 L173.37,138.84 L174.35,137.94 L175.34,137.07 L176.33,136.22 L177.32,135.40 L178.30,134.63 L179.29,133.90 L180.28,133.23 L181.27,132.62 L182.25,132.10 L183.24,131.66 L184.23,131.31 L185.22,131.07 L186.20,130.95 L187.19,130.95 L188.18,131.08 L189.16,131.33 L190.15,131.65 L191.14,132.02 L192.13,132.38 L193.11,132.70 L194.10,132.93 L195.09,133.04 L196.08,132.99 L197.06,132.81 L198.05,132.79 L199.04,133.26 L200.03,134.57 L201.01,137.04 L202.00,140.70" fill="none" stroke="#e06464" stroke-width="1.9" stroke-linecap="butt"/>
<path d="M124.00,164.60 L124.97,164.60 L125.94,164.59 L126.91,164.59 L127.88,164.58 L128.85,164.57 L129.82,164.55 L130.79,164.52 L131.76,164.48 L132.73,164.44 L133.70,164.38 L134.67,164.31 L135.64,164.23 L136.61,164.13 L137.57,164.02 L138.54,163.89 L139.51,163.74 L140.48,163.57 L141.45,163.38 L142.42,163.17 L143.39,162.94 L144.36,162.68 L145.33,162.40 L146.30,162.09 L147.27,161.75 L148.24,161.38 L149.21,160.98 L150.18,160.55 L151.15,160.09 L152.12,159.58 L153.09,159.04 L154.06,158.47 L155.03,157.85 L156.00,157.19 L156.97,156.49 L157.94,155.74 L158.91,154.95 L159.88,154.11 L160.85,153.22 L161.82,152.29 L162.78,151.33 L163.75,150.34 L164.72,149.33 L165.69,148.32 L166.66,147.30 L167.63,146.28 L168.60,145.28 L169.57,144.30 L170.54,143.35 L171.51,142.44 L172.48,141.58 L173.45,140.76 L174.42,140.00 L175.39,139.29 L176.36,138.63 L177.33,138.03 L178.30,137.49 L179.27,137.01 L180.24,136.60 L181.21,136.24 L182.18,135.95 L183.15,135.73 L184.12,135.56 L185.09,135.46 L186.06,135.40 L187.03,135.39 L187.99,135.43 L188.96,135.50 L189.93,135.61 L190.90,135.80 L191.87,136.11 L192.84,136.59 L193.81,137.29 L194.78,138.24 L195.75,139.50 L196.72,141.03 L197.69,142.78 L198.66,144.70 L199.63,146.72 L200.60,148.80" fill="none" stroke="#1a1a1a" stroke-width="3.0" stroke-linecap="butt"/>
<path d="M124.00,164.60 L124.97,164.60 L125.94,164.59 L126.91,164.59 L127.88,164.58 L128.85,164.57 L129.82,164.55 L130.79,164.52 L131.76,164.48 L132.73,164.44 L133.70,164.38 L134.67,164.31 L135.64,164.23 L136.61,164.13 L137.57,164.02 L138.54,163.89 L139.51,163.74 L140.48,163.57 L141.45,163.38 L142.42,163.17 L143.39,162.94 L144.36,162.68 L145.33,162.40 L146.30,162.09 L147.27,161.75 L148.24,161.38 L149.21,160.98 L150.18,160.55 L151.15,160.09 L152.12,159.58 L153.09,159.04 L154.06,158.47 L155.03,157.85 L156.00,157.19 L156.97,156.49 L157.94,155.74 L158.91,154.95 L159.88,154.11 L160.85,153.22 L161.82,152.29 L162.78,151.33 L163.75,150.34 L164.72,149.33 L165.69,148.32 L166.66,147.30 L167.63,146.28 L168.60,145.28 L169.57,144.30 L170.54,143.35 L171.51,142.44 L172.48,141.58 L173.45,140.76 L174.42,140.00 L175.39,139.29 L176.36,138.63 L177.33,138.03 L178.30,137.49 L179.27,137.01 L180.24,136.60 L181.21,136.24 L182.18,135.95 L183.15,135.73 L184.12,135.56 L185.09,135.46 L186.06,135.40 L187.03,135.39 L187.99,135.43 L188.96,135.50 L189.93,135.61 L190.90,135.80 L191.87,136.11 L192.84,136.59 L193.81,137.29 L194.78,138.24 L195.75,139.50 L196.72,141.03 L197.69,142.78 L198.66,144.70 L199.63,146.72 L200.60,148.80" fill="none" stroke="#e06464" stroke-width="1.9" stroke-linecap="butt"/>
<path d="M123.90,161.40 L124.89,161.07 L125.88,160.74 L126.87,160.41 L127.86,160.07 L128.86,159.73 L129.85,159.37 L130.84,159.01 L131.83,158.64 L132.82,158.26 L133.81,157.87 L134.80,157.45 L135.79,157.03 L136.78,156.58 L137.78,156.12 L138.77,155.63 L139.76,155.13 L140.75,154.60 L141.74,154.04 L142.73,153.47 L143.72,152.87 L144.71,152.25 L145.71,151.62 L146.70,150.97 L147.69,150.30 L148.68,149.62 L149.67,148.92 L150.66,148.21 L151.65,147.49 L152.64,146.77 L153.63,146.03 L154.63,145.28 L155.62,144.53 L156.61,143.78 L157.60,143.02 L158.59,142.26 L159.58,141.50 L160.57,140.74 L161.56,139.99 L162.55,139.24 L163.55,138.50 L164.54,137.77 L165.53,137.06 L166.52,136.35 L167.51,135.66 L168.50,134.98 L169.49,134.33 L170.48,133.69 L171.47,133.08 L172.47,132.49 L173.46,131.92 L174.45,131.38 L175.44,130.87 L176.43,130.39 L177.42,129.94 L178.41,129.52 L179.40,129.14 L180.39,128.80 L181.39,128.49 L182.38,128.23 L183.37,128.00 L184.36,127.82 L185.35,127.69 L186.34,127.60 L187.33,127.56 L188.32,127.59 L189.32,127.67 L190.31,127.81 L191.30,128.03 L192.29,128.32 L193.28,128.68 L194.27,129.12 L195.26,129.65 L196.25,130.26 L197.24,130.94 L198.24,131.68 L199.23,132.47 L200.22,133.29 L201.21,134.14 L202.20,135.00" fill="none" stroke="#1a1a1a" stroke-width="3.0" stroke-linecap="butt"/>
<path d="M123.90,161.40 L124.89,161.07 L125.88,160.74 L126.87,160.41 L127.86,160.07 L128.86,159.73 L129.85,159.37 L130.84,159.01 L131.83,158.64 L132.82,158.26 L133.81,157.87 L134.80,157.45 L135.79,157.03 L136.78,156.58 L137.78,156.12 L138.77,155.63 L139.76,155.13 L140.75,154.60 L141.74,154.04 L142.73,153.47 L143.72,152.87 L144.71,152.25 L145.71,151.62 L146.70,150.97 L147.69,150.30 L148.68,149.62 L149.67,148.92 L150.66,148.21 L151.65,147.49 L152.64,146.77 L153.63,146.03 L154.63,145.28 L155.62,144.53 L156.61,143.78 L157.60,143.02 L158.59,142.26 L159.58,141.50 L160.57,140.74 L161.56,139.99 L162.55,139.24 L163.55,138.50 L164.54,137.77 L165.53,137.06 L166.52,136.35 L167.51,135.66 L168.50,134.98 L169.49,134.33 L170.48,133.69 L171.47,133.08 L172.47,132.49 L173.46,131.92 L174.45,131.38 L175.44,130.87 L176.43,130.39 L177.42,129.94 L178.41,129.52 L179.40,129.14 L180.39,128.80 L181.39,128.49 L182.38,128.23 L183.37,128.00 L184.36,127.82 L185.35,127.69 L186.34,127.60 L187.33,127.56 L188.32,127.59 L189.32,127.67 L190.31,127.81 L191.30,128.03 L192.29,128.32 L193.28,128.68 L194.27,129.12 L195.26,129.65 L196.25,130.26 L197.24,130.94 L198.24,131.68 L199.23,132.47 L200.22,133.29 L201.21,134.14 L202.20,135.00" fill="none" stroke="#4a84e0" stroke-width="1.9" stroke-linecap="butt"/>
<path d="M219.70,150.20 L220.69,144.53 L221.68,139.16 L222.67,134.39 L223.66,130.49 L224.66,127.48 L225.65,125.20 L226.64,123.51 L227.63,122.24 L228.62,121.31 L229.61,120.66 L230.60,120.25 L231.59,120.02 L232.58,119.94 L233.58,120.12 L234.57,120.69 L235.56,121.80 L236.55,123.57 L237.54,125.96 L238.53,128.79 L239.52,131.86 L240.51,134.99 L241.51,137.97 L242.50,140.63 L243.49,142.94 L244.48,144.94 L245.47,146.69 L246.46,148.23 L247.45,149.62 L248.44,150.88 L249.43,152.02 L250.43,153.04 L251.42,153.94 L252.41,154.73 L253.40,155.41 L254.39,155.98 L255.38,156.46 L256.37,156.85 L257.36,157.17 L258.35,157.42 L259.35,157.60 L260.34,157.74 L261.33,157.84 L262.32,157.91 L263.31,157.95 L264.30,157.98 L265.29,158.01 L266.28,158.03 L267.27,158.06 L268.27,158.09 L269.26,158.12 L270.25,158.16 L271.24,158.19 L272.23,158.23 L273.22,158.27 L274.21,158.31 L275.20,158.35 L276.19,158.39 L277.19,158.43 L278.18,158.47 L279.17,158.52 L280.16,158.56 L281.15,158.61 L282.14,158.66 L283.13,158.71 L284.12,158.76 L285.12,158.81 L286.11,158.86 L287.10,158.91 L288.09,158.96 L289.08,159.01 L290.07,159.07 L291.06,159.12 L292.05,159.17 L293.04,159.23 L294.04,159.28 L295.03,159.34 L296.02,159.39 L297.01,159.45 L298.00,159.50" fill="none" stroke="#1a1a1a" stroke-width="3.0" stroke-linecap="butt"/>
<path d="M219.70,150.20 L220.69,144.53 L221.68,139.16 L222.67,134.39 L223.66,130.49 L224.66,127.48 L225.65,125.20 L226.64,123.51 L227.63,122.24 L228.62,121.31 L229.61,120.66 L230.60,120.25 L231.59,120.02 L232.58,119.94 L233.58,120.12 L234.57,120.69 L235.56,121.80 L236.55,123.57 L237.54,125.96 L238.53,128.79 L239.52,131.86 L240.51,134.99 L241.51,137.97 L242.50,140.63 L243.49,142.94 L244.48,144.94 L245.47,146.69 L246.46,148.23 L247.45,149.62 L248.44,150.88 L249.43,152.02 L250.43,153.04 L251.42,153.94 L252.41,154.73 L253.40,155.41 L254.39,155.98 L255.38,156.46 L256.37,156.85 L257.36,157.17 L258.35,157.42 L259.35,157.60 L260.34,157.74 L261.33,157.84 L262.32,157.91 L263.31,157.95 L264.30,157.98 L265.29,158.01 L266.28,158.03 L267.27,158.06 L268.27,158.09 L269.26,158.12 L270.25,158.16 L271.24,158.19 L272.23,158.23 L273.22,158.27 L274.21,158.31 L275.20,158.35 L276.19,158.39 L277.19,158.43 L278.18,158.47 L279.17,158.52 L280.16,158.56 L281.15,158.61 L282.14,158.66 L283.13,158.71 L284.12,158.76 L285.12,158.81 L286.11,158.86 L287.10,158.91 L288.09,158.96 L289.08,159.01 L290.07,159.07 L291.06,159.12 L292.05,159.17 L293.04,159.23 L294.04,159.28 L295.03,159.34 L296.02,159.39 L297.01,159.45 L298.00,159.50" fill="none" stroke="#e06464" stroke-width="1.9" stroke-linecap="butt"/>
<path d="M220.40,156.20 L221.38,152.43 L222.36,148.75 L223.35,145.25 L224.33,142.01 L225.31,139.13 L226.29,136.64 L227.28,134.52 L228.26,132.71 L229.24,131.18 L230.22,129.88 L231.21,128.78 L232.19,127.83 L233.17,127.00 L234.15,126.28 L235.13,125.67 L236.12,125.16 L237.10,124.76 L238.08,124.44 L239.06,124.21 L240.05,124.07 L241.03,124.00 L242.01,124.01 L242.99,124.12 L243.97,124.35 L244.96,124.71 L245.94,125.25 L246.92,125.97 L247.90,126.90 L248.89,128.05 L249.87,129.42 L250.85,130.95 L251.83,132.61 L252.82,134.36 L253.80,136.18 L254.78,138.02 L255.76,139.84 L256.74,141.63 L257.73,143.37 L258.71,145.04 L259.69,146.63 L260.67,148.14 L261.66,149.54 L262.64,150.82 L263.62,151.98 L264.60,153.03 L265.58,153.97 L266.57,154.81 L267.55,155.56 L268.53,156.22 L269.51,156.80 L270.50,157.30 L271.48,157.73 L272.46,158.10 L273.44,158.41 L274.43,158.67 L275.41,158.89 L276.39,159.07 L277.37,159.21 L278.35,159.33 L279.34,159.44 L280.32,159.53 L281.30,159.61 L282.28,159.69 L283.27,159.75 L284.25,159.81 L285.23,159.87 L286.21,159.92 L287.19,159.96 L288.18,160.00 L289.16,160.03 L290.14,160.06 L291.12,160.08 L292.11,160.11 L293.09,160.13 L294.07,160.14 L295.05,160.16 L296.04,160.17 L297.02,160.19 L298.00,160.20" fill="none" stroke="#1a1a1a" stroke-width="3.0" stroke-linecap="butt"/>
<path d="M220.40,156.20 L221.38,152.43 L222.36,148.75 L223.35,145.25 L224.33,142.01 L225.31,139.13 L226.29,136.64 L227.28,134.52 L228.26,132.71 L229.24,131.18 L230.22,129.88 L231.21,128.78 L232.19,127.83 L233.17,127.00 L234.15,126.28 L235.13,125.67 L236.12,125.16 L237.10,124.76 L238.08,124.44 L239.06,124.21 L240.05,124.07 L241.03,124.00 L242.01,124.01 L242.99,124.12 L243.97,124.35 L244.96,124.71 L245.94,125.25 L246.92,125.97 L247.90,126.90 L248.89,128.05 L249.87,129.42 L250.85,130.95 L251.83,132.61 L252.82,134.36 L253.80,136.18 L254.78,138.02 L255.76,139.84 L256.74,141.63 L257.73,143.37 L258.71,145.04 L259.69,146.63 L260.67,148.14 L261.66,149.54 L262.64,150.82 L263.62,151.98 L264.60,153.03 L265.58,153.97 L266.57,154.81 L267.55,155.56 L268.53,156.22 L269.51,156.80 L270.50,157.30 L271.48,157.73 L272.46,158.10 L273.44,158.41 L274.43,158.67 L275.41,158.89 L276.39,159.07 L277.37,159.21 L278.35,159.33 L279.34,159.44 L280.32,159.53 L281.30,159.61 L282.28,159.69 L283.27,159.75 L284.25,159.81 L285.23,159.87 L286.21,159.92 L287.19,159.96 L288.18,160.00 L289.16,160.03 L290.14,160.06 L291.12,160.08 L292.11,160.11 L293.09,160.13 L294.07,160.14 L295.05,160.16 L296.04,160.17 L297.02,160.19 L298.00,160.20" fill="none" stroke="#e06464" stroke-width="1.9" stroke-linecap="butt"/>
<path d="M220.00,150.80 L220.99,147.99 L221.97,145.24 L222.96,142.64 L223.95,140.24 L224.94,138.12 L225.92,136.34 L226.91,134.88 L227.90,133.71 L228.89,132.78 L229.87,132.08 L230.86,131.56 L231.85,131.22 L232.84,131.06 L233.82,131.09 L234.81,131.30 L235.80,131.70 L236.78,132.31 L237.77,133.14 L238.76,134.23 L239.75,135.60 L240.73,137.26 L241.72,139.16 L242.71,141.21 L243.70,143.31 L244.68,145.37 L245.67,147.29 L246.66,149.05 L247.65,150.64 L248.63,152.05 L249.62,153.29 L250.61,154.36 L251.59,155.26 L252.58,156.03 L253.57,156.66 L254.56,157.20 L255.54,157.64 L256.53,158.02 L257.52,158.35 L258.51,158.65 L259.49,158.93 L260.48,159.19 L261.47,159.43 L262.46,159.66 L263.44,159.87 L264.43,160.06 L265.42,160.24 L266.41,160.41 L267.39,160.56 L268.38,160.71 L269.37,160.85 L270.35,160.98 L271.34,161.10 L272.33,161.21 L273.32,161.32 L274.30,161.43 L275.29,161.53 L276.28,161.63 L277.27,161.73 L278.25,161.83 L279.24,161.92 L280.23,162.01 L281.22,162.11 L282.20,162.20 L283.19,162.29 L284.18,162.37 L285.16,162.46 L286.15,162.54 L287.14,162.63 L288.13,162.71 L289.11,162.79 L290.10,162.87 L291.09,162.95 L292.08,163.03 L293.06,163.11 L294.05,163.19 L295.04,163.27 L296.03,163.34 L297.01,163.42 L298.00,163.50" fill="none" stroke="#1a1a1a" stroke-width="3.0" stroke-linecap="butt"/>
<path d="M220.00,150.80 L220.99,147.99 L221.97,145.24 L222.96,142.64 L223.95,140.24 L224.94,138.12 L225.92,136.34 L226.91,134.88 L227.90,133.71 L228.89,132.78 L229.87,132.08 L230.86,131.56 L231.85,131.22 L232.84,131.06 L233.82,131.09 L234.81,131.30 L235.80,131.70 L236.78,132.31 L237.77,133.14 L238.76,134.23 L239.75,135.60 L240.73,137.26 L241.72,139.16 L242.71,141.21 L243.70,143.31 L244.68,145.37 L245.67,147.29 L246.66,149.05 L247.65,150.64 L248.63,152.05 L249.62,153.29 L250.61,154.36 L251.59,155.26 L252.58,156.03 L253.57,156.66 L254.56,157.20 L255.54,157.64 L256.53,158.02 L257.52,158.35 L258.51,158.65 L259.49,158.93 L260.48,159.19 L261.47,159.43 L262.46,159.66 L263.44,159.87 L264.43,160.06 L265.42,160.24 L266.41,160.41 L267.39,160.56 L268.38,160.71 L269.37,160.85 L270.35,160.98 L271.34,161.10 L272.33,161.21 L273.32,161.32 L274.30,161.43 L275.29,161.53 L276.28,161.63 L277.27,161.73 L278.25,161.83 L279.24,161.92 L280.23,162.01 L281.22,162.11 L282.20,162.20 L283.19,162.29 L284.18,162.37 L285.16,162.46 L286.15,162.54 L287.14,162.63 L288.13,162.71 L289.11,162.79 L290.10,162.87 L291.09,162.95 L292.08,163.03 L293.06,163.11 L294.05,163.19 L295.04,163.27 L296.03,163.34 L297.01,163.42 L298.00,163.50" fill="none" stroke="#e06464" stroke-width="1.9" stroke-linecap="butt"/>
<path d="M221.00,154.00 L221.97,148.80 L222.95,143.81 L223.92,139.26 L224.90,135.36 L225.87,132.28 L226.85,129.97 L227.82,128.27 L228.80,127.06 L229.77,126.17 L230.75,125.49 L231.72,124.98 L232.70,124.65 L233.67,124.50 L234.65,124.56 L235.62,124.87 L236.59,125.48 L237.57,126.44 L238.54,127.82 L239.52,129.59 L240.49,131.64 L241.47,133.90 L242.44,136.26 L243.42,138.62 L244.39,140.90 L245.37,143.04 L246.34,145.02 L247.32,146.84 L248.29,148.50 L249.27,149.99 L250.24,151.31 L251.22,152.45 L252.19,153.43 L253.16,154.27 L254.14,154.99 L255.11,155.61 L256.09,156.14 L257.06,156.60 L258.04,157.02 L259.01,157.39 L259.99,157.74 L260.96,158.06 L261.94,158.36 L262.91,158.63 L263.89,158.87 L264.86,159.09 L265.84,159.29 L266.81,159.48 L267.78,159.64 L268.76,159.79 L269.73,159.93 L270.71,160.05 L271.68,160.17 L272.66,160.27 L273.63,160.37 L274.61,160.46 L275.58,160.55 L276.56,160.64 L277.53,160.72 L278.51,160.80 L279.48,160.88 L280.46,160.95 L281.43,161.02 L282.41,161.09 L283.38,161.16 L284.35,161.22 L285.33,161.29 L286.30,161.35 L287.28,161.41 L288.25,161.47 L289.23,161.52 L290.20,161.58 L291.18,161.64 L292.15,161.69 L293.13,161.74 L294.10,161.79 L295.08,161.85 L296.05,161.90 L297.03,161.95 L298.00,162.00" fill="none" stroke="#1a1a1a" stroke-width="3.0" stroke-linecap="butt"/>
<path d="M221.00,154.00 L221.97,148.80 L222.95,143.81 L223.92,139.26 L224.90,135.36 L225.87,132.28 L226.85,129.97 L227.82,128.27 L228.80,127.06 L229.77,126.17 L230.75,125.49 L231.72,124.98 L232.70,124.65 L233.67,124.50 L234.65,124.56 L235.62,124.87 L236.59,125.48 L237.57,126.44 L238.54,127.82 L239.52,129.59 L240.49,131.64 L241.47,133.90 L242.44,136.26 L243.42,138.62 L244.39,140.90 L245.37,143.04 L246.34,145.02 L247.32,146.84 L248.29,148.50 L249.27,149.99 L250.24,151.31 L251.22,152.45 L252.19,153.43 L253.16,154.27 L254.14,154.99 L255.11,155.61 L256.09,156.14 L257.06,156.60 L258.04,157.02 L259.01,157.39 L259.99,157.74 L260.96,158.06 L261.94,158.36 L262.91,158.63 L263.89,158.87 L264.86,159.09 L265.84,159.29 L266.81,159.48 L267.78,159.64 L268.76,159.79 L269.73,159.93 L270.71,160.05 L271.68,160.17 L272.66,160.27 L273.63,160.37 L274.61,160.46 L275.58,160.55 L276.56,160.64 L277.53,160.72 L278.51,160.80 L279.48,160.88 L280.46,160.95 L281.43,161.02 L282.41,161.09 L283.38,161.16 L284.35,161.22 L285.33,161.29 L286.30,161.35 L287.28,161.41 L288.25,161.47 L289.23,161.52 L290.20,161.58 L291.18,161.64 L292.15,161.69 L293.13,161.74 L294.10,161.79 L295.08,161.85 L296.05,161.90 L297.03,161.95 L298.00,162.00" fill="none" stroke="#e06464" stroke-width="1.9" stroke-linecap="butt"/>
<path d="M220.10,160.90 L221.09,160.48 L222.07,160.06 L223.06,159.63 L224.04,159.20 L225.03,158.77 L226.02,158.34 L227.00,157.90 L227.99,157.45 L228.97,157.00 L229.96,156.53 L230.95,156.06 L231.93,155.58 L232.92,155.08 L233.91,154.58 L234.89,154.06 L235.88,153.53 L236.86,152.98 L237.85,152.42 L238.84,151.84 L239.82,151.26 L240.81,150.65 L241.79,150.04 L242.78,149.41 L243.77,148.77 L244.75,148.11 L245.74,147.44 L246.72,146.76 L247.71,146.07 L248.70,145.36 L249.68,144.64 L250.67,143.91 L251.65,143.17 L252.64,142.42 L253.63,141.68 L254.61,140.93 L255.60,140.18 L256.58,139.43 L257.57,138.69 L258.56,137.96 L259.54,137.24 L260.53,136.53 L261.52,135.84 L262.50,135.16 L263.49,134.50 L264.47,133.86 L265.46,133.24 L266.45,132.64 L267.43,132.07 L268.42,131.52 L269.40,131.00 L270.39,130.51 L271.38,130.05 L272.36,129.62 L273.35,129.22 L274.33,128.85 L275.32,128.52 L276.31,128.23 L277.29,127.97 L278.28,127.75 L279.26,127.57 L280.25,127.44 L281.24,127.34 L282.22,127.30 L283.21,127.30 L284.19,127.36 L285.18,127.47 L286.17,127.65 L287.15,127.89 L288.14,128.21 L289.13,128.59 L290.11,129.06 L291.10,129.60 L292.08,130.21 L293.07,130.88 L294.06,131.61 L295.04,132.37 L296.03,133.16 L297.01,133.98 L298.00,134.80" fill="none" stroke="#1a1a1a" stroke-width="3.0" stroke-linecap="butt"/>
<path d="M220.10,160.90 L221.09,160.48 L222.07,160.06 L223.06,159.63 L224.04,159.20 L225.03,158.77 L226.02,158.34 L227.00,157.90 L227.99,157.45 L228.97,157.00 L229.96,156.53 L230.95,156.06 L231.93,155.58 L232.92,155.08 L233.91,154.58 L234.89,154.06 L235.88,153.53 L236.86,152.98 L237.85,152.42 L238.84,151.84 L239.82,151.26 L240.81,150.65 L241.79,150.04 L242.78,149.41 L243.77,148.77 L244.75,148.11 L245.74,147.44 L246.72,146.76 L247.71,146.07 L248.70,145.36 L249.68,144.64 L250.67,143.91 L251.65,143.17 L252.64,142.42 L253.63,141.68 L254.61,140.93 L255.60,140.18 L256.58,139.43 L257.57,138.69 L258.56,137.96 L259.54,137.24 L260.53,136.53 L261.52,135.84 L262.50,135.16 L263.49,134.50 L264.47,133.86 L265.46,133.24 L266.45,132.64 L267.43,132.07 L268.42,131.52 L269.40,131.00 L270.39,130.51 L271.38,130.05 L272.36,129.62 L273.35,129.22 L274.33,128.85 L275.32,128.52 L276.31,128.23 L277.29,127.97 L278.28,127.75 L279.26,127.57 L280.25,127.44 L281.24,127.34 L282.22,127.30 L283.21,127.30 L284.19,127.36 L285.18,127.47 L286.17,127.65 L287.15,127.89 L288.14,128.21 L289.13,128.59 L290.11,129.06 L291.10,129.60 L292.08,130.21 L293.07,130.88 L294.06,131.61 L295.04,132.37 L296.03,133.16 L297.01,133.98 L298.00,134.80" fill="none" stroke="#4a84e0" stroke-width="1.9" stroke-linecap="butt"/>
<text x="60.40" y="179.10" textLength="16.10" lengthAdjust="spacingAndGlyphs" >Low</text>
<text x="148.10" y="178.70" textLength="31.50" lengthAdjust="spacingAndGlyphs" >Medium</text>
<text x="251.70" y="178.70" textLength="18.30" lengthAdjust="spacingAndGlyphs" >High</text>
<path d="M518.5,56.6 L566.8,20.4 L566.8,158.8 L518.5,112.4 Z" fill="url(#gcone)"/>
<text x="310.4" y="10.2" style="font-size:15.3px;font-weight:bold;stroke:#000;stroke-width:0.45px">b</text>
<text x="322.20" y="19.40" textLength="165.00" lengthAdjust="spacingAndGlyphs" >Healthy−malignant expression dynamics</text>
<text x="322.20" y="29.50" textLength="90.90" lengthAdjust="spacingAndGlyphs" >(dis)similarity by EMD:</text>
<line x1="349.00" y1="52.60" x2="349.00" y2="158.90" stroke="#222" stroke-width="0.8" />
<line x1="348.70" y1="158.60" x2="526.50" y2="158.60" stroke="#222" stroke-width="0.8" />
<line x1="346.00" y1="154.70" x2="349.00" y2="154.70" stroke="#222" stroke-width="0.7" />
<text x="345.20" y="157.90" text-anchor="end" textLength="12.00" lengthAdjust="spacingAndGlyphs" >0.0</text>
<line x1="346.00" y1="135.96" x2="349.00" y2="135.96" stroke="#222" stroke-width="0.7" />
<text x="345.20" y="139.16" text-anchor="end" textLength="12.00" lengthAdjust="spacingAndGlyphs" >0.1</text>
<line x1="346.00" y1="117.22" x2="349.00" y2="117.22" stroke="#222" stroke-width="0.7" />
<text x="345.20" y="120.42" text-anchor="end" textLength="12.00" lengthAdjust="spacingAndGlyphs" >0.2</text>
<line x1="346.00" y1="98.48" x2="349.00" y2="98.48" stroke="#222" stroke-width="0.7" />
<text x="345.20" y="101.68" text-anchor="end" textLength="12.00" lengthAdjust="spacingAndGlyphs" >0.3</text>
<line x1="346.00" y1="79.74" x2="349.00" y2="79.74" stroke="#222" stroke-width="0.7" />
<text x="345.20" y="82.94" text-anchor="end" textLength="12.00" lengthAdjust="spacingAndGlyphs" >0.4</text>
<line x1="346.00" y1="61.00" x2="349.00" y2="61.00" stroke="#222" stroke-width="0.7" />
<text x="345.20" y="64.20" text-anchor="end" textLength="12.00" lengthAdjust="spacingAndGlyphs" >0.5</text>
<text x="0" y="0" text-anchor="middle" textLength="111.00" lengthAdjust="spacingAndGlyphs" transform="translate(327.80,104.80) rotate(-90)">Mean EMD (v−SVZ vs GBMs)</text>
<path d="M351.6,55.2 L362.6,55.2 L352.4,154.3 L351.6,154.3 Z" fill="url(#gb)" stroke="#000" stroke-width="0.6"/>
<path d="M356.80,154.10 C357.03,153.72 357.58,152.42 358.20,151.80 C358.82,151.18 359.20,150.88 360.50,150.40 C361.80,149.92 362.75,149.47 366.00,148.90 C369.25,148.33 374.75,147.67 380.00,147.00 C385.25,146.33 390.83,145.70 397.50,144.90 C404.17,144.10 413.42,143.05 420.00,142.20 C426.58,141.35 431.17,140.63 437.00,139.80 C442.83,138.97 449.32,138.10 455.00,137.20 C460.68,136.30 466.43,135.35 471.10,134.40 C475.77,133.45 479.50,132.47 483.00,131.50 C486.50,130.53 489.27,129.68 492.10,128.60 C494.93,127.52 497.80,126.22 500.00,125.00 C502.20,123.78 503.80,122.47 505.30,121.30 C506.80,120.13 508.05,118.88 509.00,118.00 C509.95,117.12 510.40,116.83 511.00,116.00 C511.60,115.17 512.33,113.50 512.60,113.00" fill="none" stroke="#d2d2d2" stroke-width="1.6"/>
<path d="M512.60,113.00 C512.83,112.00 513.60,109.07 514.00,107.00 C514.40,104.93 514.62,103.22 515.00,100.60 C515.38,97.98 515.97,94.40 516.30,91.30 C516.63,88.20 516.83,84.55 517.00,82.00 C517.17,79.45 517.25,77.00 517.30,76.00" fill="none" stroke="#8a2be2" stroke-width="1.7"/>
<circle cx="517.5" cy="57.3" r="0.85" fill="#8a2be2"/>
<circle cx="517.5" cy="60.2" r="0.85" fill="#8a2be2"/>
<circle cx="517.5" cy="63.0" r="0.85" fill="#8a2be2"/>
<circle cx="517.5" cy="65.6" r="0.85" fill="#8a2be2"/>
<circle cx="517.5" cy="68.2" r="0.85" fill="#8a2be2"/>
<circle cx="517.5" cy="70.6" r="0.85" fill="#8a2be2"/>
<circle cx="517.5" cy="73.0" r="0.85" fill="#8a2be2"/>
<circle cx="502.5" cy="112.3" r="0.85" fill="#000"/>
<circle cx="507.6" cy="112.3" r="0.85" fill="#000"/>
<circle cx="512.7" cy="112.4" r="0.85" fill="#000"/>
<circle cx="512.7" cy="117.0" r="0.85" fill="#000"/>
<circle cx="512.7" cy="122.0" r="0.85" fill="#000"/>
<text x="440.00" y="115.00" textLength="57.70" lengthAdjust="spacingAndGlyphs" >Inflection point</text>
<text x="451.50" y="124.00" textLength="35.10" lengthAdjust="spacingAndGlyphs" >(Kneedle)</text>
<text x="389.60" y="167.60" textLength="98.40" lengthAdjust="spacingAndGlyphs" >Ranked genes (n=5415)</text>
<text x="535.1" y="10.2" style="font-size:15.3px;font-weight:bold;stroke:#000;stroke-width:0.45px">d</text>
<line x1="566.80" y1="20.40" x2="566.80" y2="158.80" stroke="#222" stroke-width="0.8" />
<line x1="564.00" y1="149.40" x2="566.80" y2="149.40" stroke="#222" stroke-width="0.7" />
<rect x="543.5" y="145.40" width="20" height="8" fill="#fff"/>
<text x="562.50" y="152.70" text-anchor="end" style="stroke:#000;stroke-width:0.18px" textLength="19.00" lengthAdjust="spacingAndGlyphs" >0.25</text>
<line x1="564.00" y1="128.23" x2="566.80" y2="128.23" stroke="#222" stroke-width="0.7" />
<rect x="543.5" y="124.23" width="20" height="8" fill="#fff"/>
<text x="562.50" y="131.53" text-anchor="end" style="stroke:#000;stroke-width:0.18px" textLength="19.00" lengthAdjust="spacingAndGlyphs" >0.30</text>
<line x1="564.00" y1="107.06" x2="566.80" y2="107.06" stroke="#222" stroke-width="0.7" />
<rect x="543.5" y="103.06" width="20" height="8" fill="#fff"/>
<text x="562.50" y="110.36" text-anchor="end" style="stroke:#000;stroke-width:0.18px" textLength="19.00" lengthAdjust="spacingAndGlyphs" >0.35</text>
<line x1="564.00" y1="85.89" x2="566.80" y2="85.89" stroke="#222" stroke-width="0.7" />
<rect x="543.5" y="81.89" width="20" height="8" fill="#fff"/>
<text x="562.50" y="89.19" text-anchor="end" style="stroke:#000;stroke-width:0.18px" textLength="19.00" lengthAdjust="spacingAndGlyphs" >0.40</text>
<line x1="564.00" y1="64.72" x2="566.80" y2="64.72" stroke="#222" stroke-width="0.7" />
<rect x="543.5" y="60.72" width="20" height="8" fill="#fff"/>
<text x="562.50" y="68.02" text-anchor="end" style="stroke:#000;stroke-width:0.18px" textLength="19.00" lengthAdjust="spacingAndGlyphs" >0.45</text>
<line x1="564.00" y1="43.55" x2="566.80" y2="43.55" stroke="#222" stroke-width="0.7" />
<rect x="543.5" y="39.55" width="20" height="8" fill="#fff"/>
<text x="562.50" y="46.85" text-anchor="end" style="stroke:#000;stroke-width:0.18px" textLength="19.00" lengthAdjust="spacingAndGlyphs" >0.50</text>
<line x1="564.00" y1="22.38" x2="566.80" y2="22.38" stroke="#222" stroke-width="0.7" />
<rect x="543.5" y="18.38" width="20" height="8" fill="#fff"/>
<text x="562.50" y="25.68" text-anchor="end" style="stroke:#000;stroke-width:0.18px" textLength="19.00" lengthAdjust="spacingAndGlyphs" >0.55</text>
<circle cx="638.50" cy="27.00" r="1.6" fill="#d6d6d6"/>
<circle cx="638.50" cy="31.30" r="1.6" fill="#d6d6d6"/>
<circle cx="638.30" cy="40.90" r="1.6" fill="#d6d6d6"/>
<circle cx="638.30" cy="42.80" r="1.6" fill="#d6d6d6"/>
<circle cx="637.80" cy="52.00" r="1.6" fill="#d6d6d6"/>
<circle cx="637.80" cy="53.90" r="1.6" fill="#d6d6d6"/>
<circle cx="637.44" cy="57.60" r="1.6" fill="#d6d6d6"/>
<circle cx="637.59" cy="58.80" r="1.6" fill="#d6d6d6"/>
<circle cx="637.45" cy="60.00" r="1.6" fill="#d6d6d6"/>
<circle cx="637.55" cy="61.20" r="1.6" fill="#d6d6d6"/>
<circle cx="637.53" cy="62.40" r="1.6" fill="#d6d6d6"/>
<circle cx="637.16" cy="63.60" r="1.6" fill="#d6d6d6"/>
<circle cx="637.09" cy="64.80" r="1.6" fill="#d6d6d6"/>
<circle cx="637.55" cy="66.00" r="1.6" fill="#d6d6d6"/>
<circle cx="637.17" cy="67.20" r="1.6" fill="#d6d6d6"/>
<circle cx="637.12" cy="68.40" r="1.6" fill="#d6d6d6"/>
<circle cx="637.54" cy="69.60" r="1.6" fill="#d6d6d6"/>
<circle cx="637.19" cy="70.80" r="1.6" fill="#d6d6d6"/>
<circle cx="637.37" cy="72.00" r="1.6" fill="#d6d6d6"/>
<circle cx="637.12" cy="73.20" r="1.6" fill="#d6d6d6"/>
<circle cx="637.18" cy="74.40" r="1.6" fill="#d6d6d6"/>
<circle cx="636.85" cy="75.60" r="1.6" fill="#d6d6d6"/>
<circle cx="637.10" cy="76.80" r="1.6" fill="#d6d6d6"/>
<circle cx="637.21" cy="78.00" r="1.6" fill="#d6d6d6"/>
<circle cx="636.97" cy="79.20" r="1.6" fill="#d6d6d6"/>
<circle cx="636.74" cy="82.00" r="1.6" fill="#d6d6d6"/>
<circle cx="636.54" cy="82.90" r="1.6" fill="#d6d6d6"/>
<circle cx="635.79" cy="83.80" r="1.6" fill="#d6d6d6"/>
<circle cx="636.35" cy="84.70" r="1.6" fill="#d6d6d6"/>
<circle cx="636.05" cy="85.60" r="1.6" fill="#d6d6d6"/>
<circle cx="635.63" cy="86.50" r="1.6" fill="#d6d6d6"/>
<circle cx="635.22" cy="87.40" r="1.6" fill="#d6d6d6"/>
<circle cx="635.92" cy="88.30" r="1.6" fill="#d6d6d6"/>
<circle cx="635.39" cy="89.20" r="1.6" fill="#d6d6d6"/>
<circle cx="635.50" cy="90.10" r="1.6" fill="#d6d6d6"/>
<circle cx="635.50" cy="91.00" r="1.6" fill="#d6d6d6"/>
<circle cx="635.17" cy="91.90" r="1.6" fill="#d6d6d6"/>
<circle cx="635.22" cy="92.80" r="1.6" fill="#d6d6d6"/>
<circle cx="634.53" cy="93.70" r="1.6" fill="#d6d6d6"/>
<circle cx="634.77" cy="94.60" r="1.6" fill="#d6d6d6"/>
<circle cx="634.25" cy="95.50" r="1.6" fill="#d6d6d6"/>
<circle cx="634.58" cy="96.40" r="1.6" fill="#d6d6d6"/>
<circle cx="634.36" cy="97.30" r="1.6" fill="#d6d6d6"/>
<circle cx="633.42" cy="98.20" r="1.6" fill="#d6d6d6"/>
<circle cx="633.30" cy="99.10" r="1.6" fill="#d6d6d6"/>
<circle cx="633.22" cy="100.00" r="1.6" fill="#d6d6d6"/>
<circle cx="633.78" cy="100.90" r="1.6" fill="#d6d6d6"/>
<circle cx="633.06" cy="101.80" r="1.6" fill="#d6d6d6"/>
<circle cx="633.06" cy="102.70" r="1.6" fill="#d6d6d6"/>
<circle cx="632.55" cy="103.60" r="1.6" fill="#d6d6d6"/>
<circle cx="632.57" cy="104.50" r="1.6" fill="#d6d6d6"/>
<circle cx="632.26" cy="105.40" r="1.6" fill="#d6d6d6"/>
<circle cx="632.04" cy="106.30" r="1.6" fill="#d6d6d6"/>
<circle cx="632.09" cy="107.20" r="1.6" fill="#d6d6d6"/>
<circle cx="631.90" cy="108.10" r="1.6" fill="#d6d6d6"/>
<circle cx="632.03" cy="109.00" r="1.6" fill="#d6d6d6"/>
<circle cx="631.62" cy="109.90" r="1.6" fill="#d6d6d6"/>
<circle cx="631.68" cy="110.80" r="1.6" fill="#d6d6d6"/>
<circle cx="631.42" cy="111.70" r="1.6" fill="#d6d6d6"/>
<circle cx="631.34" cy="112.60" r="1.6" fill="#d6d6d6"/>
<circle cx="630.80" cy="113.50" r="1.6" fill="#d6d6d6"/>
<circle cx="630.06" cy="114.40" r="1.6" fill="#d6d6d6"/>
<circle cx="630.54" cy="115.30" r="1.6" fill="#d6d6d6"/>
<circle cx="630.41" cy="116.20" r="1.6" fill="#d6d6d6"/>
<circle cx="630.13" cy="117.10" r="1.6" fill="#d6d6d6"/>
<circle cx="629.57" cy="118.00" r="1.6" fill="#d6d6d6"/>
<circle cx="629.49" cy="118.90" r="1.6" fill="#d6d6d6"/>
<circle cx="628.76" cy="119.80" r="1.6" fill="#d6d6d6"/>
<circle cx="629.16" cy="120.70" r="1.6" fill="#d6d6d6"/>
<circle cx="628.67" cy="121.60" r="1.6" fill="#d6d6d6"/>
<circle cx="628.07" cy="122.50" r="1.6" fill="#d6d6d6"/>
<circle cx="627.46" cy="123.40" r="1.6" fill="#d6d6d6"/>
<circle cx="627.87" cy="124.30" r="1.6" fill="#d6d6d6"/>
<circle cx="627.62" cy="125.20" r="1.6" fill="#d6d6d6"/>
<circle cx="626.33" cy="126.10" r="1.6" fill="#d6d6d6"/>
<circle cx="626.66" cy="127.00" r="1.6" fill="#d6d6d6"/>
<circle cx="625.88" cy="127.90" r="1.6" fill="#d6d6d6"/>
<circle cx="625.25" cy="128.80" r="1.6" fill="#d6d6d6"/>
<circle cx="625.05" cy="129.70" r="1.6" fill="#d6d6d6"/>
<circle cx="625.17" cy="130.60" r="1.6" fill="#d6d6d6"/>
<circle cx="624.92" cy="131.50" r="1.6" fill="#d6d6d6"/>
<circle cx="623.74" cy="132.40" r="1.6" fill="#d6d6d6"/>
<circle cx="623.96" cy="133.30" r="1.6" fill="#d6d6d6"/>
<circle cx="623.03" cy="134.20" r="1.6" fill="#d6d6d6"/>
<circle cx="623.35" cy="135.10" r="1.6" fill="#d6d6d6"/>
<circle cx="622.61" cy="136.00" r="1.6" fill="#d6d6d6"/>
<circle cx="622.81" cy="136.90" r="1.6" fill="#d6d6d6"/>
<circle cx="622.56" cy="137.80" r="1.6" fill="#d6d6d6"/>
<circle cx="621.66" cy="138.70" r="1.6" fill="#d6d6d6"/>
<circle cx="621.70" cy="139.60" r="1.6" fill="#d6d6d6"/>
<circle cx="620.56" cy="140.50" r="1.6" fill="#d6d6d6"/>
<circle cx="619.88" cy="141.40" r="1.6" fill="#d6d6d6"/>
<circle cx="619.95" cy="142.30" r="1.6" fill="#d6d6d6"/>
<circle cx="618.93" cy="143.20" r="1.6" fill="#d6d6d6"/>
<circle cx="618.65" cy="144.10" r="1.6" fill="#d6d6d6"/>
<circle cx="618.41" cy="145.00" r="1.6" fill="#d6d6d6"/>
<circle cx="618.16" cy="145.90" r="1.6" fill="#d6d6d6"/>
<circle cx="617.29" cy="146.80" r="1.6" fill="#d6d6d6"/>
<circle cx="616.77" cy="147.70" r="1.6" fill="#d6d6d6"/>
<circle cx="617.18" cy="148.60" r="1.6" fill="#d6d6d6"/>
<circle cx="616.22" cy="149.50" r="1.6" fill="#d6d6d6"/>
<circle cx="616.45" cy="150.40" r="1.6" fill="#d6d6d6"/>
<circle cx="615.98" cy="151.30" r="1.6" fill="#d6d6d6"/>
<rect x="606.40" y="152.70" width="1" height="1" fill="#000"/>
<rect x="608.50" y="152.70" width="1" height="1" fill="#000"/>
<rect x="610.60" y="152.70" width="1" height="1" fill="#000"/>
<rect x="612.70" y="152.70" width="1" height="1" fill="#000"/>
<rect x="619.20" y="152.70" width="1" height="1" fill="#000"/>
<line x1="655.40" y1="139.80" x2="636.30" y2="81.70" stroke="#333" stroke-width="0.6" />
<line x1="655.40" y1="139.80" x2="636.30" y2="84.20" stroke="#333" stroke-width="0.6" />
<line x1="655.40" y1="139.80" x2="632.20" y2="108.40" stroke="#333" stroke-width="0.6" />
<line x1="655.40" y1="139.80" x2="629.80" y2="116.50" stroke="#333" stroke-width="0.6" />
<line x1="655.40" y1="139.80" x2="624.40" y2="134.40" stroke="#333" stroke-width="0.6" />
<line x1="655.40" y1="139.80" x2="617.50" y2="150.50" stroke="#333" stroke-width="0.6" />
<line x1="655.40" y1="139.80" x2="616.50" y2="151.50" stroke="#333" stroke-width="0.6" />
<line x1="655.40" y1="139.80" x2="615.80" y2="152.30" stroke="#333" stroke-width="0.6" />
<line x1="602.00" y1="97.00" x2="631.00" y2="112.70" stroke="#333" stroke-width="0.5" />
<line x1="602.00" y1="97.00" x2="626.10" y2="130.00" stroke="#333" stroke-width="0.5" />
<line x1="602.00" y1="97.00" x2="621.10" y2="143.50" stroke="#333" stroke-width="0.5" />
<line x1="602.00" y1="97.00" x2="618.90" y2="147.70" stroke="#333" stroke-width="0.5" />
<line x1="602.00" y1="97.00" x2="615.00" y2="152.90" stroke="#333" stroke-width="0.5" />
<line x1="605.00" y1="83.10" x2="623.40" y2="137.80" stroke="#333" stroke-width="0.5" />
<line x1="605.00" y1="83.10" x2="616.20" y2="152.00" stroke="#333" stroke-width="0.5" />
<line x1="599.20" y1="120.60" x2="615.70" y2="151.10" stroke="#333" stroke-width="0.5" />
<circle cx="636.30" cy="81.70" r="1.55" fill="#3cc83c" stroke="#000" stroke-width="0.5"/>
<circle cx="636.30" cy="84.20" r="1.55" fill="#3cc83c" stroke="#000" stroke-width="0.5"/>
<circle cx="632.20" cy="108.40" r="1.55" fill="#3cc83c" stroke="#000" stroke-width="0.5"/>
<circle cx="629.80" cy="116.50" r="1.55" fill="#3cc83c" stroke="#000" stroke-width="0.5"/>
<circle cx="624.40" cy="134.40" r="1.55" fill="#3cc83c" stroke="#000" stroke-width="0.5"/>
<circle cx="623.40" cy="137.80" r="1.55" fill="#f5c400" stroke="#000" stroke-width="0.5"/>
<circle cx="631.00" cy="112.70" r="1.55" fill="#ee1ee6" stroke="#000" stroke-width="0.5"/>
<circle cx="626.10" cy="130.00" r="1.55" fill="#ee1ee6" stroke="#000" stroke-width="0.5"/>
<circle cx="621.10" cy="143.50" r="1.55" fill="#ee1ee6" stroke="#000" stroke-width="0.5"/>
<circle cx="618.90" cy="147.70" r="1.55" fill="#ee1ee6" stroke="#000" stroke-width="0.5"/>
<circle cx="617.50" cy="150.50" r="1.55" fill="#3cc83c" stroke="#000" stroke-width="0.5"/>
<circle cx="616.20" cy="152.00" r="1.55" fill="#f5c400" stroke="#000" stroke-width="0.5"/>
<circle cx="615.70" cy="151.10" r="1.55" fill="#87ceeb" stroke="#000" stroke-width="0.5"/>
<circle cx="615.00" cy="152.90" r="1.55" fill="#ee1ee6" stroke="#000" stroke-width="0.5"/>
<text x="591.90" y="72.30" style="font-size:10.2px;font-weight:bold;fill:#f5c400;stroke:#f5c400;" textLength="21.80" lengthAdjust="spacingAndGlyphs" >BMP</text>
<text x="590.50" y="80.30" textLength="24.90" lengthAdjust="spacingAndGlyphs" >(n=2)</text>
<text x="569.70" y="94.80" style="font-size:10.2px;font-weight:bold;fill:#ee1ee6;stroke:#ee1ee6;" textLength="30.10" lengthAdjust="spacingAndGlyphs" >Notch</text>
<text x="571.00" y="102.80" textLength="25.40" lengthAdjust="spacingAndGlyphs" >(n=5)</text>
<text x="575.60" y="120.10" style="font-size:10.2px;font-weight:bold;fill:#87ceeb;stroke:#87ceeb;" textLength="21.80" lengthAdjust="spacingAndGlyphs" >SHH</text>
<text x="573.90" y="128.40" textLength="24.90" lengthAdjust="spacingAndGlyphs" >(n=1)</text>
<text x="659.70" y="141.60" style="font-size:10.2px;font-weight:bold;fill:#3cc83c;stroke:#3cc83c;" textLength="21.50" lengthAdjust="spacingAndGlyphs" >Wnt</text>
<text x="655.20" y="150.20" textLength="28.80" lengthAdjust="spacingAndGlyphs" >(n=11)</text>
<path d="M638.5,163.7 C652,168 655,180 643,189.5" fill="none" stroke="#000" stroke-width="0.9"/>
<path d="M639.4,193 L641.2,187.2 L645,191.2 Z" fill="#000"/>
<text x="0.1" y="200.6" style="font-size:15.3px;font-weight:bold;stroke:#000;stroke-width:0.45px">c</text>
<text x="11.60" y="210.60" textLength="65.80" lengthAdjust="spacingAndGlyphs" >GO−enrichment:</text>
<text x="23.10" y="234.70" textLength="34.20" lengthAdjust="spacingAndGlyphs" >(n=169)</text>
<circle cx="39.2" cy="254.4" r="16.1" fill="#d3d3d3" stroke="#000" stroke-width="0.8"/>
<path d="M39.2,254.4 L39.2,238.3 A16.1,16.1 0 0 1 41.86,238.52 Z" fill="#8b0a8b" stroke="#000" stroke-width="0.6"/>
<path d="M80.9,231.1 L99.6,219.8 L99.6,286.5 L80.9,253.1 Z" fill="url(#gpink)"/>
<rect x="74.3" y="231.1" width="6.6" height="22" fill="#8b0a8b" stroke="#000" stroke-width="0.7"/>
<rect x="74.3" y="253.1" width="6.6" height="23.3" fill="#d3d3d3" stroke="#000" stroke-width="0.7"/>
<line x1="66.60" y1="253.10" x2="86.00" y2="253.10" stroke="#111" stroke-width="0.8" stroke-dasharray="2,1.2"/>
<text x="100.50" y="228.00" textLength="348.40" lengthAdjust="spacingAndGlyphs" >p&lt;0.01 Cell−cell adhesion via plasma−membrane adhesion molecules (GO:0098742)</text>
<text x="100.50" y="242.10" textLength="186.40" lengthAdjust="spacingAndGlyphs" >p&lt;0.01 Neuron differentiation (GO:0030182)</text>
<text x="100.50" y="256.00" style="font-weight:bold;" textLength="196.30" lengthAdjust="spacingAndGlyphs" >p=0.02 Wnt signaling pathway (GO:0016055)</text>
<text x="100.50" y="270.10" textLength="409.70" lengthAdjust="spacingAndGlyphs" >p=0.02 Blood vessel endothelial cell proliferation involved in sprouting angiogenesis (GO:0002043)</text>
<text x="100.50" y="283.90" textLength="249.30" lengthAdjust="spacingAndGlyphs" >p=0.03 Regulation of ERK1 and ERK2 cascade (GO:0070372)</text>
<text x="536.3" y="200.3" style="font-size:15.3px;font-weight:bold;stroke:#000;stroke-width:0.45px">e</text>
<text x="0" y="0" text-anchor="middle" textLength="101.50" lengthAdjust="spacingAndGlyphs" transform="translate(560.30,251.00) rotate(-90)">Expression bias in v−SVZ</text>
<circle cx="579.8" cy="208.6" r="8.0" fill="#ffa500" stroke="#000" stroke-width="0.8"/>
<circle cx="579.6" cy="294.6" r="8.0" fill="#228b22" stroke="#000" stroke-width="0.8"/>
<text x="579.80" y="212.30" text-anchor="middle" style="font-size:11px;font-weight:bold;fill:#fff;stroke:#fff;" >Q</text>
<text x="579.60" y="298.60" text-anchor="middle" style="font-size:11px;font-weight:bold;fill:#fff;stroke:#fff;" >D</text>
<line x1="579.70" y1="224.00" x2="579.70" y2="280.00" stroke="#000" stroke-width="0.9" />
<path d="M579.7,221.2 L577,226 L582.4,226 Z" fill="#000"/>
<path d="M579.7,283 L577,278.2 L582.4,278.2 Z" fill="#000"/>
<circle cx="599.58" cy="217.29" r="1.75" fill="#d3d3d3"/>
<circle cx="603.17" cy="217.76" r="1.75" fill="#d3d3d3"/>
<circle cx="603.97" cy="219.28" r="1.75" fill="#d3d3d3"/>
<circle cx="604.57" cy="219.43" r="1.75" fill="#d3d3d3"/>
<circle cx="605.83" cy="223.68" r="1.75" fill="#d3d3d3"/>
<circle cx="604.30" cy="211.92" r="1.75" fill="#d3d3d3"/>
<circle cx="607.08" cy="204.26" r="1.75" fill="#d3d3d3"/>
<circle cx="601.49" cy="202.51" r="1.75" fill="#d3d3d3"/>
<circle cx="609.48" cy="236.36" r="1.75" fill="#d3d3d3"/>
<circle cx="604.60" cy="223.16" r="1.75" fill="#d3d3d3"/>
<circle cx="608.92" cy="206.67" r="1.75" fill="#d3d3d3"/>
<circle cx="605.82" cy="203.14" r="1.75" fill="#d3d3d3"/>
<circle cx="605.54" cy="207.85" r="1.75" fill="#d3d3d3"/>
<circle cx="606.19" cy="217.70" r="1.75" fill="#d3d3d3"/>
<circle cx="607.36" cy="216.86" r="1.75" fill="#d3d3d3"/>
<circle cx="602.67" cy="224.05" r="1.75" fill="#d3d3d3"/>
<circle cx="603.88" cy="218.99" r="1.75" fill="#d3d3d3"/>
<circle cx="602.86" cy="211.01" r="1.75" fill="#d3d3d3"/>
<circle cx="610.86" cy="236.92" r="1.75" fill="#d3d3d3"/>
<circle cx="605.35" cy="226.48" r="1.75" fill="#d3d3d3"/>
<circle cx="605.79" cy="212.35" r="1.75" fill="#d3d3d3"/>
<circle cx="607.79" cy="203.53" r="1.75" fill="#d3d3d3"/>
<circle cx="601.11" cy="228.59" r="1.75" fill="#d3d3d3"/>
<circle cx="608.68" cy="214.91" r="1.75" fill="#d3d3d3"/>
<circle cx="605.55" cy="235.49" r="1.75" fill="#d3d3d3"/>
<circle cx="605.42" cy="208.55" r="1.75" fill="#d3d3d3"/>
<circle cx="598.50" cy="233.77" r="1.75" fill="#d3d3d3"/>
<circle cx="606.97" cy="215.31" r="1.75" fill="#d3d3d3"/>
<circle cx="602.16" cy="203.63" r="1.75" fill="#d3d3d3"/>
<circle cx="601.97" cy="210.71" r="1.75" fill="#d3d3d3"/>
<circle cx="601.92" cy="204.14" r="1.75" fill="#d3d3d3"/>
<circle cx="611.77" cy="228.29" r="1.75" fill="#d3d3d3"/>
<circle cx="605.53" cy="205.25" r="1.75" fill="#d3d3d3"/>
<circle cx="606.79" cy="203.16" r="1.75" fill="#d3d3d3"/>
<circle cx="607.07" cy="229.69" r="1.75" fill="#d3d3d3"/>
<circle cx="608.72" cy="217.11" r="1.75" fill="#d3d3d3"/>
<circle cx="605.33" cy="207.86" r="1.75" fill="#d3d3d3"/>
<circle cx="604.03" cy="224.17" r="1.75" fill="#d3d3d3"/>
<circle cx="603.80" cy="205.19" r="1.75" fill="#d3d3d3"/>
<circle cx="606.43" cy="210.71" r="1.75" fill="#d3d3d3"/>
<circle cx="606.29" cy="235.95" r="1.75" fill="#d3d3d3"/>
<circle cx="603.25" cy="232.86" r="1.75" fill="#d3d3d3"/>
<circle cx="601.17" cy="208.59" r="1.75" fill="#d3d3d3"/>
<circle cx="608.89" cy="224.11" r="1.75" fill="#d3d3d3"/>
<circle cx="607.43" cy="204.61" r="1.75" fill="#d3d3d3"/>
<circle cx="605.37" cy="210.30" r="1.75" fill="#d3d3d3"/>
<circle cx="604.38" cy="228.82" r="1.75" fill="#d3d3d3"/>
<circle cx="607.56" cy="203.64" r="1.75" fill="#d3d3d3"/>
<circle cx="603.69" cy="204.24" r="1.75" fill="#d3d3d3"/>
<circle cx="604.46" cy="222.65" r="1.75" fill="#d3d3d3"/>
<circle cx="598.72" cy="214.38" r="1.75" fill="#d3d3d3"/>
<circle cx="607.55" cy="218.41" r="1.75" fill="#d3d3d3"/>
<circle cx="606.69" cy="221.68" r="1.75" fill="#d3d3d3"/>
<circle cx="604.18" cy="206.55" r="1.75" fill="#d3d3d3"/>
<circle cx="606.38" cy="233.70" r="1.75" fill="#d3d3d3"/>
<circle cx="603.57" cy="207.83" r="1.75" fill="#d3d3d3"/>
<circle cx="607.22" cy="227.62" r="1.75" fill="#d3d3d3"/>
<circle cx="604.82" cy="235.20" r="1.75" fill="#d3d3d3"/>
<circle cx="603.17" cy="232.76" r="1.75" fill="#d3d3d3"/>
<circle cx="603.73" cy="204.74" r="1.75" fill="#d3d3d3"/>
<circle cx="607.51" cy="202.39" r="1.75" fill="#d3d3d3"/>
<circle cx="605.02" cy="226.36" r="1.75" fill="#d3d3d3"/>
<circle cx="607.19" cy="210.25" r="1.75" fill="#d3d3d3"/>
<circle cx="602.13" cy="211.56" r="1.75" fill="#d3d3d3"/>
<circle cx="605.30" cy="207.32" r="1.75" fill="#d3d3d3"/>
<circle cx="604.46" cy="209.22" r="1.75" fill="#d3d3d3"/>
<circle cx="607.82" cy="221.14" r="1.75" fill="#d3d3d3"/>
<circle cx="602.41" cy="211.09" r="1.75" fill="#d3d3d3"/>
<circle cx="605.65" cy="234.02" r="1.75" fill="#d3d3d3"/>
<circle cx="605.99" cy="210.69" r="1.75" fill="#d3d3d3"/>
<circle cx="607.12" cy="217.05" r="1.75" fill="#d3d3d3"/>
<circle cx="606.15" cy="214.28" r="1.75" fill="#d3d3d3"/>
<circle cx="607.30" cy="221.60" r="1.75" fill="#d3d3d3"/>
<circle cx="607.45" cy="233.07" r="1.75" fill="#d3d3d3"/>
<circle cx="603.13" cy="236.30" r="1.75" fill="#d3d3d3"/>
<circle cx="601.92" cy="222.04" r="1.75" fill="#d3d3d3"/>
<circle cx="606.02" cy="206.05" r="1.75" fill="#d3d3d3"/>
<circle cx="605.62" cy="233.77" r="1.75" fill="#d3d3d3"/>
<circle cx="606.06" cy="226.23" r="1.75" fill="#d3d3d3"/>
<circle cx="605.37" cy="223.90" r="1.75" fill="#d3d3d3"/>
<circle cx="605.20" cy="218.36" r="1.75" fill="#d3d3d3"/>
<circle cx="603.06" cy="236.98" r="1.75" fill="#d3d3d3"/>
<circle cx="601.11" cy="203.71" r="1.75" fill="#d3d3d3"/>
<circle cx="604.19" cy="233.41" r="1.75" fill="#d3d3d3"/>
<circle cx="604.07" cy="227.54" r="1.75" fill="#d3d3d3"/>
<circle cx="600.74" cy="233.94" r="1.75" fill="#d3d3d3"/>
<circle cx="603.11" cy="213.67" r="1.75" fill="#d3d3d3"/>
<circle cx="599.97" cy="232.36" r="1.75" fill="#d3d3d3"/>
<circle cx="606.91" cy="216.02" r="1.75" fill="#d3d3d3"/>
<circle cx="600.09" cy="221.62" r="1.75" fill="#d3d3d3"/>
<circle cx="602.26" cy="248.49" r="1.75" fill="#d3d3d3"/>
<circle cx="602.27" cy="248.96" r="1.75" fill="#d3d3d3"/>
<circle cx="607.13" cy="255.88" r="1.75" fill="#d3d3d3"/>
<circle cx="605.72" cy="253.84" r="1.75" fill="#d3d3d3"/>
<circle cx="603.66" cy="251.23" r="1.75" fill="#d3d3d3"/>
<circle cx="601.54" cy="248.46" r="1.75" fill="#d3d3d3"/>
<circle cx="605.62" cy="275.04" r="1.75" fill="#d3d3d3"/>
<circle cx="604.00" cy="289.13" r="1.75" fill="#d3d3d3"/>
<circle cx="602.42" cy="256.36" r="1.75" fill="#d3d3d3"/>
<circle cx="603.09" cy="265.48" r="1.75" fill="#d3d3d3"/>
<circle cx="601.13" cy="286.77" r="1.75" fill="#d3d3d3"/>
<circle cx="605.07" cy="296.88" r="1.75" fill="#d3d3d3"/>
<circle cx="607.36" cy="266.64" r="1.75" fill="#d3d3d3"/>
<circle cx="605.17" cy="285.86" r="1.75" fill="#d3d3d3"/>
<circle cx="607.94" cy="264.22" r="1.75" fill="#d3d3d3"/>
<circle cx="610.33" cy="285.03" r="1.75" fill="#d3d3d3"/>
<circle cx="606.94" cy="275.11" r="1.75" fill="#d3d3d3"/>
<circle cx="603.43" cy="285.30" r="1.75" fill="#d3d3d3"/>
<circle cx="600.40" cy="264.03" r="1.75" fill="#d3d3d3"/>
<circle cx="607.13" cy="296.60" r="1.75" fill="#d3d3d3"/>
<circle cx="602.23" cy="295.05" r="1.75" fill="#d3d3d3"/>
<circle cx="607.46" cy="269.40" r="1.75" fill="#d3d3d3"/>
<circle cx="599.67" cy="261.20" r="1.75" fill="#d3d3d3"/>
<circle cx="605.12" cy="293.62" r="1.75" fill="#d3d3d3"/>
<circle cx="607.14" cy="287.36" r="1.75" fill="#d3d3d3"/>
<circle cx="604.30" cy="262.70" r="1.75" fill="#d3d3d3"/>
<circle cx="604.69" cy="275.50" r="1.75" fill="#d3d3d3"/>
<circle cx="606.92" cy="273.84" r="1.75" fill="#d3d3d3"/>
<circle cx="602.56" cy="283.47" r="1.75" fill="#d3d3d3"/>
<circle cx="605.09" cy="293.18" r="1.75" fill="#d3d3d3"/>
<circle cx="603.95" cy="299.68" r="1.75" fill="#d3d3d3"/>
<circle cx="605.32" cy="256.43" r="1.75" fill="#d3d3d3"/>
<circle cx="609.25" cy="294.71" r="1.75" fill="#d3d3d3"/>
<circle cx="606.13" cy="280.96" r="1.75" fill="#d3d3d3"/>
<circle cx="605.14" cy="269.06" r="1.75" fill="#d3d3d3"/>
<circle cx="604.47" cy="261.18" r="1.75" fill="#d3d3d3"/>
<circle cx="610.20" cy="275.69" r="1.75" fill="#d3d3d3"/>
<circle cx="605.82" cy="265.80" r="1.75" fill="#d3d3d3"/>
<circle cx="608.77" cy="261.41" r="1.75" fill="#d3d3d3"/>
<circle cx="606.15" cy="275.31" r="1.75" fill="#d3d3d3"/>
<circle cx="602.14" cy="283.66" r="1.75" fill="#d3d3d3"/>
<circle cx="600.80" cy="298.61" r="1.75" fill="#d3d3d3"/>
<circle cx="605.99" cy="286.14" r="1.75" fill="#d3d3d3"/>
<circle cx="608.02" cy="263.13" r="1.75" fill="#d3d3d3"/>
<circle cx="600.64" cy="255.49" r="1.75" fill="#d3d3d3"/>
<circle cx="605.77" cy="263.15" r="1.75" fill="#d3d3d3"/>
<circle cx="602.55" cy="267.39" r="1.75" fill="#d3d3d3"/>
<circle cx="608.57" cy="278.68" r="1.75" fill="#d3d3d3"/>
<circle cx="605.11" cy="282.96" r="1.75" fill="#d3d3d3"/>
<circle cx="602.20" cy="291.03" r="1.75" fill="#d3d3d3"/>
<circle cx="610.55" cy="296.23" r="1.75" fill="#d3d3d3"/>
<circle cx="608.39" cy="287.87" r="1.75" fill="#d3d3d3"/>
<circle cx="601.24" cy="260.91" r="1.75" fill="#d3d3d3"/>
<circle cx="606.13" cy="296.40" r="1.75" fill="#d3d3d3"/>
<circle cx="599.77" cy="272.14" r="1.75" fill="#d3d3d3"/>
<circle cx="602.59" cy="291.25" r="1.75" fill="#d3d3d3"/>
<circle cx="601.04" cy="297.96" r="1.75" fill="#d3d3d3"/>
<circle cx="605.92" cy="264.32" r="1.75" fill="#d3d3d3"/>
<circle cx="606.67" cy="287.85" r="1.75" fill="#d3d3d3"/>
<circle cx="601.35" cy="287.65" r="1.75" fill="#d3d3d3"/>
<circle cx="611.36" cy="264.70" r="1.75" fill="#d3d3d3"/>
<circle cx="600.38" cy="299.47" r="1.75" fill="#d3d3d3"/>
<circle cx="605.62" cy="279.43" r="1.75" fill="#d3d3d3"/>
<circle cx="602.62" cy="296.40" r="1.75" fill="#d3d3d3"/>
<circle cx="604.32" cy="293.94" r="1.75" fill="#d3d3d3"/>
<circle cx="605.95" cy="275.06" r="1.75" fill="#d3d3d3"/>
<circle cx="605.37" cy="280.04" r="1.75" fill="#d3d3d3"/>
<circle cx="601.78" cy="256.29" r="1.75" fill="#d3d3d3"/>
<circle cx="609.62" cy="291.82" r="1.75" fill="#d3d3d3"/>
<circle cx="606.97" cy="262.87" r="1.75" fill="#d3d3d3"/>
<circle cx="605.36" cy="270.24" r="1.75" fill="#d3d3d3"/>
<circle cx="603.50" cy="261.76" r="1.75" fill="#d3d3d3"/>
<circle cx="604.11" cy="278.50" r="1.75" fill="#d3d3d3"/>
<circle cx="599.71" cy="286.37" r="1.75" fill="#d3d3d3"/>
<circle cx="598.50" cy="298.03" r="1.75" fill="#d3d3d3"/>
<circle cx="605.32" cy="258.91" r="1.75" fill="#d3d3d3"/>
<circle cx="602.71" cy="265.07" r="1.75" fill="#d3d3d3"/>
<circle cx="604.61" cy="288.16" r="1.75" fill="#d3d3d3"/>
<circle cx="599.66" cy="284.07" r="1.75" fill="#d3d3d3"/>
<circle cx="604.23" cy="280.48" r="1.75" fill="#d3d3d3"/>
<circle cx="601.03" cy="269.18" r="1.75" fill="#d3d3d3"/>
<circle cx="608.67" cy="295.97" r="1.75" fill="#d3d3d3"/>
<circle cx="609.36" cy="264.47" r="1.75" fill="#d3d3d3"/>
<circle cx="599.07" cy="278.85" r="1.75" fill="#d3d3d3"/>
<circle cx="606.05" cy="281.07" r="1.75" fill="#d3d3d3"/>
<circle cx="608.31" cy="277.89" r="1.75" fill="#d3d3d3"/>
<circle cx="612.28" cy="282.54" r="1.75" fill="#d3d3d3"/>
<circle cx="606.28" cy="278.48" r="1.75" fill="#d3d3d3"/>
<circle cx="606.14" cy="273.23" r="1.75" fill="#d3d3d3"/>
<circle cx="601.58" cy="277.34" r="1.75" fill="#d3d3d3"/>
<circle cx="608.19" cy="286.44" r="1.75" fill="#d3d3d3"/>
<circle cx="606.40" cy="273.83" r="1.75" fill="#d3d3d3"/>
<circle cx="606.97" cy="298.54" r="1.75" fill="#d3d3d3"/>
<circle cx="603.97" cy="276.53" r="1.75" fill="#d3d3d3"/>
<circle cx="600.29" cy="260.78" r="1.75" fill="#d3d3d3"/>
<circle cx="607.08" cy="295.98" r="1.75" fill="#d3d3d3"/>
<circle cx="604.25" cy="276.68" r="1.75" fill="#d3d3d3"/>
<circle cx="606.67" cy="283.11" r="1.75" fill="#d3d3d3"/>
<circle cx="608.34" cy="297.10" r="1.75" fill="#d3d3d3"/>
<circle cx="608.54" cy="256.04" r="1.75" fill="#d3d3d3"/>
<circle cx="605.61" cy="263.83" r="1.75" fill="#d3d3d3"/>
<circle cx="600.40" cy="231.50" r="1.75" fill="#f5c400" stroke="#000" stroke-width="0.5"/>
<circle cx="605.20" cy="210.00" r="1.75" fill="#3cc83c" stroke="#000" stroke-width="0.5"/>
<circle cx="605.90" cy="213.20" r="1.75" fill="#3cc83c" stroke="#000" stroke-width="0.5"/>
<circle cx="602.30" cy="214.30" r="1.75" fill="#ee1ee6" stroke="#000" stroke-width="0.5"/>
<circle cx="601.10" cy="216.00" r="1.75" fill="#3cc83c" stroke="#000" stroke-width="0.5"/>
<circle cx="602.80" cy="219.50" r="1.75" fill="#3cc83c" stroke="#000" stroke-width="0.5"/>
<circle cx="607.60" cy="225.50" r="1.75" fill="#3cc83c" stroke="#000" stroke-width="0.5"/>
<circle cx="610.70" cy="223.80" r="1.75" fill="#3cc83c" stroke="#000" stroke-width="0.5"/>
<circle cx="601.10" cy="233.40" r="1.75" fill="#3cc83c" stroke="#000" stroke-width="0.5"/>
<circle cx="604.40" cy="222.60" r="1.75" fill="#ee1ee6" stroke="#000" stroke-width="0.5"/>
<circle cx="606.40" cy="245.80" r="1.75" fill="#3cc83c" stroke="#000" stroke-width="0.5"/>
<circle cx="602.00" cy="280.50" r="1.75" fill="#3cc83c" stroke="#000" stroke-width="0.5"/>
<circle cx="602.00" cy="286.50" r="1.75" fill="#ee1ee6" stroke="#000" stroke-width="0.5"/>
<circle cx="605.90" cy="285.30" r="1.75" fill="#ee1ee6" stroke="#000" stroke-width="0.5"/>
<circle cx="601.60" cy="287.80" r="1.75" fill="#ee1ee6" stroke="#000" stroke-width="0.5"/>
<circle cx="600.40" cy="295.60" r="1.75" fill="#f5c400" stroke="#000" stroke-width="0.5"/>
<circle cx="631.00" cy="225.70" r="2.0" fill="#3cc83c" stroke="#000" stroke-width="0.5"/>
<circle cx="631.00" cy="249.60" r="2.0" fill="#ee1ee6" stroke="#000" stroke-width="0.5"/>
<circle cx="631.00" cy="273.60" r="2.0" fill="#f5c400" stroke="#000" stroke-width="0.5"/>
<text x="637.80" y="228.60" textLength="14.60" lengthAdjust="spacingAndGlyphs" >Wnt</text>
<text x="637.80" y="239.10" textLength="35.10" lengthAdjust="spacingAndGlyphs" >(p=0.03)</text>
<text x="637.80" y="252.20" textLength="23.10" lengthAdjust="spacingAndGlyphs" >Notch</text>
<text x="637.80" y="262.80" textLength="35.10" lengthAdjust="spacingAndGlyphs" >(p=0.71)</text>
<text x="637.80" y="276.10" textLength="17.10" lengthAdjust="spacingAndGlyphs" >BMP</text>
<text x="637.80" y="286.70" textLength="35.10" lengthAdjust="spacingAndGlyphs" >(p=0.98)</text>
<text x="-0.6" y="319.6" style="font-size:15.3px;font-weight:bold;stroke:#000;stroke-width:0.45px">f</text>
<text x="12.80" y="327.40" textLength="180.50" lengthAdjust="spacingAndGlyphs" >Recurrently dysregulated genes by pathway:</text>
<line x1="6.70" y1="364.40" x2="17.30" y2="364.40" stroke="#e8787a" stroke-width="1.5" />
<line x1="6.70" y1="379.70" x2="17.30" y2="379.70" stroke="#f8c4c4" stroke-width="1.5" />
<line x1="6.70" y1="393.70" x2="17.30" y2="393.70" stroke="#5b8ee6" stroke-width="1.5" />
<line x1="6.70" y1="408.50" x2="17.30" y2="408.50" stroke="#c2d6f6" stroke-width="1.5" />
<text x="24.00" y="367.60" textLength="45.00" lengthAdjust="spacingAndGlyphs" >GBM−mean</text>
<text x="24.00" y="382.20" textLength="53.00" lengthAdjust="spacingAndGlyphs" >GBMs (n=51)</text>
<text x="24.00" y="397.00" textLength="51.70" lengthAdjust="spacingAndGlyphs" >v−SVZ−mean</text>
<text x="24.00" y="411.30" textLength="49.80" lengthAdjust="spacingAndGlyphs" >v−SVZ (n=5)</text>
<clipPath id="clip1"><rect x="118.4" y="357.6" width="110.9" height="64.59999999999997"/></clipPath>
<g clip-path="url(#clip1)">
<path d="M118.9,356.1 L122.7,359.9 L126.5,363.4 L130.3,366.6 L134.1,369.7 L137.8,372.5 L141.6,375.1 L145.4,377.6 L149.2,380.0 L153.0,382.2 L156.8,384.3 L160.6,386.3 L164.4,388.2 L168.2,390.0 L172.0,391.6 L175.7,393.1 L179.5,394.4 L183.3,395.6 L187.1,396.6 L190.9,397.4 L194.7,398.1 L198.5,398.7 L202.3,399.4 L206.1,400.0 L209.9,400.6 L213.6,401.4 L217.4,402.3 L221.2,403.3 L225.0,404.5 L228.8,405.9 M118.9,417.9 L122.7,417.0 L126.5,416.1 L130.3,415.4 L134.1,414.9 L137.8,414.4 L141.6,414.0 L145.4,413.7 L149.2,413.5 L153.0,413.4 L156.8,413.3 L160.6,413.3 L164.4,413.2 L168.2,413.1 L172.0,412.8 L175.7,412.5 L179.5,411.9 L183.3,411.2 L187.1,410.2 L190.9,408.9 L194.7,407.4 L198.5,405.6 L202.3,403.6 L206.1,401.4 L209.9,399.0 L213.6,396.4 L217.4,393.6 L221.2,390.5 L225.0,387.3 L228.8,383.9 M118.9,334.4 L122.7,339.4 L126.5,344.2 L130.3,348.9 L134.1,353.4 L137.8,357.7 L141.6,362.0 L145.4,366.1 L149.2,370.1 L153.0,374.0 L156.8,377.8 L160.6,381.5 L164.4,385.1 L168.2,388.5 L172.0,391.7 L175.7,394.7 L179.5,397.5 L183.3,400.0 L187.1,402.3 L190.9,404.3 L194.7,406.0 L198.5,407.6 L202.3,409.0 L206.1,410.3 L209.9,411.4 L213.6,412.4 L217.4,413.4 L221.2,414.3 L225.0,415.2 L228.8,416.1 M118.9,372.1 L122.7,374.8 L126.5,377.3 L130.3,379.7 L134.1,382.0 L137.8,384.1 L141.6,386.0 L145.4,387.9 L149.2,389.6 L153.0,391.1 L156.8,392.6 L160.6,393.9 L164.4,395.0 L168.2,396.0 L172.0,396.7 L175.7,397.1 L179.5,397.3 L183.3,397.1 L187.1,396.6 L190.9,395.8 L194.7,394.7 L198.5,393.3 L202.3,391.6 L206.1,389.7 L209.9,387.6 L213.6,385.3 L217.4,382.8 L221.2,380.1 L225.0,377.3 L228.8,374.4 M118.9,400.5 L122.7,401.1 L126.5,401.7 L130.3,402.3 L134.1,402.9 L137.8,403.4 L141.6,404.0 L145.4,404.5 L149.2,405.0 L153.0,405.5 L156.8,405.9 L160.6,406.3 L164.4,406.5 L168.2,406.5 L172.0,406.4 L175.7,406.0 L179.5,405.4 L183.3,404.4 L187.1,403.2 L190.9,401.5 L194.7,399.5 L198.5,397.3 L202.3,394.6 L206.1,391.7 L209.9,388.6 L213.6,385.1 L217.4,381.4 L221.2,377.4 L225.0,373.1 L228.8,368.6 M118.9,399.9 L122.7,400.4 L126.5,400.9 L130.3,401.4 L134.1,401.9 L137.8,402.3 L141.6,402.7 L145.4,403.1 L149.2,403.6 L153.0,403.9 L156.8,404.3 L160.6,404.7 L164.4,404.9 L168.2,405.0 L172.0,405.0 L175.7,404.9 L179.5,404.5 L183.3,403.9 L187.1,403.0 L190.9,401.8 L194.7,400.5 L198.5,398.8 L202.3,397.0 L206.1,395.0 L209.9,392.8 L213.6,390.5 L217.4,388.0 L221.2,385.4 L225.0,382.6 L228.8,379.8 M118.9,395.1 L122.7,395.7 L126.5,396.3 L130.3,396.8 L134.1,397.3 L137.8,397.8 L141.6,398.2 L145.4,398.7 L149.2,399.1 L153.0,399.6 L156.8,400.1 L160.6,400.6 L164.4,401.1 L168.2,401.5 L172.0,401.9 L175.7,402.1 L179.5,402.3 L183.3,402.3 L187.1,402.2 L190.9,402.0 L194.7,401.6 L198.5,401.2 L202.3,400.7 L206.1,400.2 L209.9,399.7 L213.6,399.2 L217.4,398.7 L221.2,398.4 L225.0,398.1 L228.8,397.9 M118.9,382.3 L122.7,386.0 L126.5,389.3 L130.3,392.1 L134.1,394.6 L137.8,396.8 L141.6,398.6 L145.4,400.2 L149.2,401.6 L153.0,402.7 L156.8,403.7 L160.6,404.5 L164.4,405.2 L168.2,405.6 L172.0,405.9 L175.7,406.1 L179.5,406.1 L183.3,405.9 L187.1,405.6 L190.9,405.1 L194.7,404.6 L198.5,404.1 L202.3,403.6 L206.1,403.2 L209.9,402.9 L213.6,402.8 L217.4,402.9 L221.2,403.4 L225.0,404.1 L228.8,405.2 M118.9,380.2 L122.7,382.5 L126.5,384.7 L130.3,387.0 L134.1,389.2 L137.8,391.3 L141.6,393.4 L145.4,395.4 L149.2,397.3 L153.0,399.2 L156.8,400.9 L160.6,402.5 L164.4,403.9 L168.2,405.1 L172.0,406.0 L175.7,406.6 L179.5,406.8 L183.3,406.7 L187.1,406.1 L190.9,405.0 L194.7,403.5 L198.5,401.6 L202.3,399.3 L206.1,396.6 L209.9,393.4 L213.6,389.9 L217.4,386.0 L221.2,381.6 L225.0,376.9 L228.8,371.8 M118.9,361.3 L122.7,363.7 L126.5,366.0 L130.3,368.3 L134.1,370.5 L137.8,372.8 L141.6,375.0 L145.4,377.1 L149.2,379.3 L153.0,381.4 L156.8,383.5 L160.6,385.5 L164.4,387.5 L168.2,389.4 L172.0,391.2 L175.7,392.8 L179.5,394.3 L183.3,395.5 L187.1,396.5 L190.9,397.3 L194.7,397.9 L198.5,398.4 L202.3,398.6 L206.1,398.8 L209.9,398.8 L213.6,398.8 L217.4,398.7 L221.2,398.5 L225.0,398.3 L228.8,398.1 M118.9,407.6 L122.7,407.3 L126.5,406.9 L130.3,406.6 L134.1,406.2 L137.8,405.9 L141.6,405.5 L145.4,405.1 L149.2,404.7 L153.0,404.2 L156.8,403.7 L160.6,403.1 L164.4,402.4 L168.2,401.5 L172.0,400.3 L175.7,398.9 L179.5,397.3 L183.3,395.3 L187.1,392.9 L190.9,390.2 L194.7,387.1 L198.5,383.7 L202.3,379.9 L206.1,375.8 L209.9,371.3 L213.6,366.6 L217.4,361.5 L221.2,356.2 L225.0,350.5 L228.8,344.5 M118.9,376.0 L122.7,380.2 L126.5,383.9 L130.3,387.3 L134.1,390.3 L137.8,393.0 L141.6,395.3 L145.4,397.3 L149.2,399.0 L153.0,400.4 L156.8,401.5 L160.6,402.3 L164.4,402.9 L168.2,403.1 L172.0,403.0 L175.7,402.5 L179.5,401.6 L183.3,400.4 L187.1,398.8 L190.9,396.8 L194.7,394.4 L198.5,391.8 L202.3,388.8 L206.1,385.7 L209.9,382.3 L213.6,378.7 L217.4,375.0 L221.2,371.2 L225.0,367.3 L228.8,363.3 M118.9,410.2 L122.7,407.9 L126.5,405.9 L130.3,404.2 L134.1,402.8 L137.8,401.7 L141.6,400.8 L145.4,400.1 L149.2,399.6 L153.0,399.3 L156.8,399.2 L160.6,399.2 L164.4,399.2 L168.2,399.2 L172.0,399.2 L175.7,399.1 L179.5,398.9 L183.3,398.5 L187.1,397.8 L190.9,396.8 L194.7,395.7 L198.5,394.2 L202.3,392.5 L206.1,390.5 L209.9,388.3 L213.6,385.7 L217.4,383.0 L221.2,379.9 L225.0,376.5 L228.8,372.9 M118.9,391.5 L122.7,392.5 L126.5,393.6 L130.3,394.6 L134.1,395.5 L137.8,396.4 L141.6,397.3 L145.4,398.1 L149.2,398.8 L153.0,399.5 L156.8,400.2 L160.6,400.7 L164.4,401.2 L168.2,401.4 L172.0,401.5 L175.7,401.4 L179.5,401.0 L183.3,400.3 L187.1,399.4 L190.9,398.1 L194.7,396.5 L198.5,394.6 L202.3,392.5 L206.1,390.1 L209.9,387.5 L213.6,384.6 L217.4,381.6 L221.2,378.4 L225.0,375.0 L228.8,371.4 M118.9,350.0 L122.7,353.2 L126.5,356.2 L130.3,359.1 L134.1,362.0 L137.8,364.8 L141.6,367.5 L145.4,370.3 L149.2,372.9 L153.0,375.6 L156.8,378.2 L160.6,380.9 L164.4,383.4 L168.2,385.9 L172.0,388.4 L175.7,390.7 L179.5,392.8 L183.3,394.9 L187.1,396.7 L190.9,398.5 L194.7,400.0 L198.5,401.5 L202.3,403.0 L206.1,404.4 L209.9,405.8 L213.6,407.2 L217.4,408.7 L221.2,410.2 L225.0,411.9 L228.8,413.6 M118.9,392.5 L122.7,394.6 L126.5,396.6 L130.3,398.4 L134.1,400.0 L137.8,401.5 L141.6,402.9 L145.4,404.2 L149.2,405.3 L153.0,406.3 L156.8,407.1 L160.6,407.8 L164.4,408.3 L168.2,408.6 L172.0,408.6 L175.7,408.3 L179.5,407.8 L183.3,406.8 L187.1,405.6 L190.9,403.9 L194.7,401.9 L198.5,399.6 L202.3,396.9 L206.1,394.0 L209.9,390.8 L213.6,387.4 L217.4,383.7 L221.2,379.8 L225.0,375.7 L228.8,371.3 M118.9,382.9 L122.7,384.9 L126.5,386.8 L130.3,388.5 L134.1,390.1 L137.8,391.6 L141.6,393.0 L145.4,394.2 L149.2,395.3 L153.0,396.4 L156.8,397.3 L160.6,398.1 L164.4,398.7 L168.2,399.2 L172.0,399.4 L175.7,399.5 L179.5,399.2 L183.3,398.7 L187.1,398.0 L190.9,396.9 L194.7,395.5 L198.5,393.9 L202.3,392.1 L206.1,390.1 L209.9,387.9 L213.6,385.6 L217.4,383.1 L221.2,380.6 L225.0,377.9 L228.8,375.2 M118.9,375.9 L122.7,378.1 L126.5,380.4 L130.3,382.7 L134.1,384.9 L137.8,387.1 L141.6,389.2 L145.4,391.3 L149.2,393.3 L153.0,395.2 L156.8,397.0 L160.6,398.7 L164.4,400.1 L168.2,401.4 L172.0,402.3 L175.7,403.0 L179.5,403.2 L183.3,403.1 L187.1,402.6 L190.9,401.6 L194.7,400.1 L198.5,398.2 L202.3,395.9 L206.1,393.1 L209.9,389.9 L213.6,386.4 L217.4,382.3 L221.2,377.9 L225.0,373.1 L228.8,367.9 M118.9,394.2 L122.7,394.2 L126.5,394.4 L130.3,394.8 L134.1,395.4 L137.8,396.0 L141.6,396.7 L145.4,397.6 L149.2,398.5 L153.0,399.5 L156.8,400.5 L160.6,401.4 L164.4,402.4 L168.2,403.2 L172.0,403.8 L175.7,404.2 L179.5,404.4 L183.3,404.3 L187.1,403.8 L190.9,403.0 L194.7,401.8 L198.5,400.2 L202.3,398.3 L206.1,396.0 L209.9,393.3 L213.6,390.3 L217.4,386.9 L221.2,383.2 L225.0,379.0 L228.8,374.5 M118.9,357.8 L122.7,360.3 L126.5,362.8 L130.3,365.3 L134.1,368.0 L137.8,370.7 L141.6,373.4 L145.4,376.2 L149.2,379.1 L153.0,382.0 L156.8,384.9 L160.6,387.8 L164.4,390.7 L168.2,393.5 L172.0,396.2 L175.7,398.7 L179.5,401.0 L183.3,403.2 L187.1,405.0 L190.9,406.6 L194.7,408.0 L198.5,409.1 L202.3,410.0 L206.1,410.6 L209.9,411.1 L213.6,411.4 L217.4,411.5 L221.2,411.4 L225.0,411.2 L228.8,410.8 M118.9,402.0 L122.7,401.2 L126.5,400.7 L130.3,400.3 L134.1,400.2 L137.8,400.2 L141.6,400.3 L145.4,400.6 L149.2,401.0 L153.0,401.4 L156.8,402.0 L160.6,402.5 L164.4,403.0 L168.2,403.4 L172.0,403.7 L175.7,403.8 L179.5,403.7 L183.3,403.3 L187.1,402.5 L190.9,401.4 L194.7,400.0 L198.5,398.2 L202.3,396.0 L206.1,393.5 L209.9,390.6 L213.6,387.4 L217.4,383.8 L221.2,379.9 L225.0,375.6 L228.8,370.9 M118.9,396.4 L122.7,397.5 L126.5,398.4 L130.3,399.1 L134.1,399.7 L137.8,400.2 L141.6,400.5 L145.4,400.7 L149.2,400.8 L153.0,400.9 L156.8,400.8 L160.6,400.6 L164.4,400.3 L168.2,399.8 L172.0,399.2 L175.7,398.3 L179.5,397.2 L183.3,395.9 L187.1,394.3 L190.9,392.5 L194.7,390.4 L198.5,388.1 L202.3,385.6 L206.1,383.0 L209.9,380.2 L213.6,377.4 L217.4,374.5 L221.2,371.5 L225.0,368.5 L228.8,365.4 M118.9,398.1 L122.7,397.5 L126.5,397.0 L130.3,396.7 L134.1,396.5 L137.8,396.4 L141.6,396.5 L145.4,396.8 L149.2,397.2 L153.0,397.7 L156.8,398.3 L160.6,399.1 L164.4,399.9 L168.2,400.8 L172.0,401.6 L175.7,402.4 L179.5,403.1 L183.3,403.7 L187.1,404.2 L190.9,404.6 L194.7,404.8 L198.5,404.9 L202.3,404.9 L206.1,404.8 L209.9,404.7 L213.6,404.5 L217.4,404.3 L221.2,404.1 L225.0,403.8 L228.8,403.5 M118.9,382.7 L122.7,385.1 L126.5,387.5 L130.3,389.6 L134.1,391.7 L137.8,393.6 L141.6,395.4 L145.4,397.1 L149.2,398.6 L153.0,400.0 L156.8,401.3 L160.6,402.4 L164.4,403.3 L168.2,404.0 L172.0,404.5 L175.7,404.7 L179.5,404.5 L183.3,404.1 L187.1,403.2 L190.9,402.0 L194.7,400.5 L198.5,398.6 L202.3,396.5 L206.1,394.0 L209.9,391.3 L213.6,388.4 L217.4,385.2 L221.2,381.8 L225.0,378.1 L228.8,374.3 M118.9,348.3 L122.7,352.5 L126.5,356.6 L130.3,360.7 L134.1,364.6 L137.8,368.6 L141.6,372.4 L145.4,376.2 L149.2,379.9 L153.0,383.5 L156.8,387.1 L160.6,390.5 L164.4,393.7 L168.2,396.7 L172.0,399.5 L175.7,402.1 L179.5,404.3 L183.3,406.2 L187.1,407.7 L190.9,408.9 L194.7,409.6 L198.5,410.1 L202.3,410.1 L206.1,409.9 L209.9,409.4 L213.6,408.5 L217.4,407.4 L221.2,406.0 L225.0,404.3 L228.8,402.4 M118.9,378.5 L122.7,378.1 L126.5,377.9 L130.3,377.9 L134.1,378.0 L137.8,378.4 L141.6,378.9 L145.4,379.6 L149.2,380.4 L153.0,381.4 L156.8,382.6 L160.6,383.8 L164.4,385.0 L168.2,386.3 L172.0,387.5 L175.7,388.7 L179.5,389.7 L183.3,390.7 L187.1,391.4 L190.9,391.9 L194.7,392.2 L198.5,392.4 L202.3,392.3 L206.1,392.2 L209.9,391.8 L213.6,391.3 L217.4,390.7 L221.2,389.9 L225.0,389.0 L228.8,388.0 M118.9,389.6 L122.7,392.4 L126.5,394.9 L130.3,397.3 L134.1,399.5 L137.8,401.5 L141.6,403.3 L145.4,405.0 L149.2,406.4 L153.0,407.7 L156.8,408.8 L160.6,409.6 L164.4,410.1 L168.2,410.4 L172.0,410.3 L175.7,409.8 L179.5,408.9 L183.3,407.6 L187.1,405.8 L190.9,403.6 L194.7,400.8 L198.5,397.7 L202.3,394.1 L206.1,390.0 L209.9,385.6 L213.6,380.8 L217.4,375.6 L221.2,370.1 L225.0,364.2 L228.8,357.9 M118.9,352.3 L122.7,358.5 L126.5,364.2 L130.3,369.4 L134.1,374.1 L137.8,378.4 L141.6,382.2 L145.4,385.7 L149.2,388.9 L153.0,391.7 L156.8,394.2 L160.6,396.4 L164.4,398.3 L168.2,399.9 L172.0,401.2 L175.7,402.1 L179.5,402.7 L183.3,403.1 L187.1,403.0 L190.9,402.7 L194.7,402.1 L198.5,401.3 L202.3,400.4 L206.1,399.3 L209.9,398.2 L213.6,397.0 L217.4,395.9 L221.2,394.8 L225.0,393.8 L228.8,392.9 M118.9,347.4 L122.7,353.0 L126.5,358.1 L130.3,362.8 L134.1,367.2 L137.8,371.2 L141.6,375.0 L145.4,378.4 L149.2,381.6 L153.0,384.6 L156.8,387.3 L160.6,389.8 L164.4,392.1 L168.2,394.1 L172.0,395.8 L175.7,397.3 L179.5,398.5 L183.3,399.5 L187.1,400.1 L190.9,400.5 L194.7,400.7 L198.5,400.7 L202.3,400.5 L206.1,400.3 L209.9,400.0 L213.6,399.7 L217.4,399.3 L221.2,399.1 L225.0,398.9 L228.8,398.9 M118.9,376.1 L122.7,378.9 L126.5,381.4 L130.3,383.8 L134.1,386.1 L137.8,388.2 L141.6,390.2 L145.4,392.1 L149.2,393.8 L153.0,395.4 L156.8,396.9 L160.6,398.2 L164.4,399.4 L168.2,400.4 L172.0,401.2 L175.7,401.7 L179.5,402.0 L183.3,401.9 L187.1,401.6 L190.9,400.9 L194.7,400.0 L198.5,398.8 L202.3,397.4 L206.1,395.8 L209.9,393.9 L213.6,392.0 L217.4,389.8 L221.2,387.6 L225.0,385.2 L228.8,382.8 M118.9,376.3 L122.7,377.9 L126.5,379.6 L130.3,381.3 L134.1,383.0 L137.8,384.7 L141.6,386.3 L145.4,388.0 L149.2,389.6 L153.0,391.2 L156.8,392.7 L160.6,394.2 L164.4,395.5 L168.2,396.6 L172.0,397.6 L175.7,398.3 L179.5,398.7 L183.3,398.7 L187.1,398.5 L190.9,397.8 L194.7,396.8 L198.5,395.4 L202.3,393.7 L206.1,391.7 L209.9,389.4 L213.6,386.7 L217.4,383.7 L221.2,380.5 L225.0,376.9 L228.8,373.0 M118.9,378.8 L122.7,383.3 L126.5,387.3 L130.3,391.0 L134.1,394.3 L137.8,397.2 L141.6,399.8 L145.4,401.9 L149.2,403.8 L153.0,405.3 L156.8,406.5 L160.6,407.3 L164.4,407.7 L168.2,407.7 L172.0,407.3 L175.7,406.5 L179.5,405.2 L183.3,403.4 L187.1,401.0 L190.9,398.2 L194.7,394.9 L198.5,391.1 L202.3,386.9 L206.1,382.4 L209.9,377.4 L213.6,372.1 L217.4,366.5 L221.2,360.6 L225.0,354.4 L228.8,347.9 M118.9,377.4 L122.7,379.1 L126.5,380.8 L130.3,382.4 L134.1,384.0 L137.8,385.6 L141.6,387.1 L145.4,388.6 L149.2,390.0 L153.0,391.5 L156.8,392.9 L160.6,394.3 L164.4,395.6 L168.2,396.8 L172.0,397.9 L175.7,398.8 L179.5,399.6 L183.3,400.2 L187.1,400.5 L190.9,400.6 L194.7,400.5 L198.5,400.3 L202.3,399.9 L206.1,399.3 L209.9,398.7 L213.6,398.0 L217.4,397.2 L221.2,396.3 L225.0,395.4 L228.8,394.5 M118.9,380.6 L122.7,382.8 L126.5,384.8 L130.3,386.7 L134.1,388.5 L137.8,390.2 L141.6,391.8 L145.4,393.3 L149.2,394.8 L153.0,396.3 L156.8,397.7 L160.6,399.0 L164.4,400.2 L168.2,401.4 L172.0,402.3 L175.7,403.2 L179.5,403.8 L183.3,404.3 L187.1,404.5 L190.9,404.5 L194.7,404.4 L198.5,404.1 L202.3,403.6 L206.1,403.1 L209.9,402.5 L213.6,401.8 L217.4,401.2 L221.2,400.5 L225.0,399.8 L228.8,399.2 M118.9,359.6 L122.7,363.4 L126.5,367.1 L130.3,370.6 L134.1,373.9 L137.8,377.1 L141.6,380.1 L145.4,382.9 L149.2,385.6 L153.0,388.2 L156.8,390.5 L160.6,392.7 L164.4,394.6 L168.2,396.2 L172.0,397.6 L175.7,398.6 L179.5,399.2 L183.3,399.5 L187.1,399.3 L190.9,398.8 L194.7,397.8 L198.5,396.4 L202.3,394.6 L206.1,392.5 L209.9,390.0 L213.6,387.3 L217.4,384.2 L221.2,380.8 L225.0,377.1 L228.8,373.1 M118.9,381.0 L122.7,383.4 L126.5,385.7 L130.3,387.8 L134.1,389.8 L137.8,391.7 L141.6,393.4 L145.4,394.9 L149.2,396.4 L153.0,397.6 L156.8,398.8 L160.6,399.7 L164.4,400.4 L168.2,400.9 L172.0,401.1 L175.7,401.0 L179.5,400.5 L183.3,399.7 L187.1,398.5 L190.9,396.8 L194.7,394.8 L198.5,392.4 L202.3,389.6 L206.1,386.5 L209.9,383.1 L213.6,379.4 L217.4,375.4 L221.2,371.0 L225.0,366.5 L228.8,361.6 M118.9,358.4 L122.7,361.1 L126.5,363.8 L130.3,366.3 L134.1,368.7 L137.8,371.0 L141.6,373.2 L145.4,375.3 L149.2,377.3 L153.0,379.2 L156.8,381.1 L160.6,382.8 L164.4,384.4 L168.2,385.9 L172.0,387.2 L175.7,388.3 L179.5,389.2 L183.3,389.8 L187.1,390.2 L190.9,390.2 L194.7,390.1 L198.5,389.7 L202.3,389.2 L206.1,388.5 L209.9,387.6 L213.6,386.6 L217.4,385.6 L221.2,384.4 L225.0,383.2 L228.8,382.0 M118.9,404.7 L122.7,404.0 L126.5,403.5 L130.3,403.1 L134.1,402.8 L137.8,402.7 L141.6,402.6 L145.4,402.7 L149.2,402.8 L153.0,403.0 L156.8,403.2 L160.6,403.5 L164.4,403.7 L168.2,403.8 L172.0,403.7 L175.7,403.5 L179.5,403.1 L183.3,402.4 L187.1,401.4 L190.9,400.1 L194.7,398.5 L198.5,396.5 L202.3,394.2 L206.1,391.7 L209.9,388.8 L213.6,385.7 L217.4,382.2 L221.2,378.5 L225.0,374.5 L228.8,370.1 M118.9,387.6 L122.7,389.5 L126.5,391.3 L130.3,392.8 L134.1,394.1 L137.8,395.2 L141.6,396.2 L145.4,396.9 L149.2,397.6 L153.0,398.1 L156.8,398.5 L160.6,398.7 L164.4,398.7 L168.2,398.6 L172.0,398.3 L175.7,397.8 L179.5,397.0 L183.3,396.0 L187.1,394.8 L190.9,393.2 L194.7,391.5 L198.5,389.6 L202.3,387.5 L206.1,385.3 L209.9,383.0 L213.6,380.6 L217.4,378.2 L221.2,375.8 L225.0,373.4 L228.8,371.1 M118.9,379.3 L122.7,381.2 L126.5,383.1 L130.3,384.9 L134.1,386.7 L137.8,388.4 L141.6,390.1 L145.4,391.7 L149.2,393.3 L153.0,394.8 L156.8,396.2 L160.6,397.6 L164.4,398.8 L168.2,399.8 L172.0,400.6 L175.7,401.2 L179.5,401.5 L183.3,401.5 L187.1,401.2 L190.9,400.5 L194.7,399.5 L198.5,398.2 L202.3,396.6 L206.1,394.7 L209.9,392.5 L213.6,390.1 L217.4,387.4 L221.2,384.5 L225.0,381.4 L228.8,378.0 M118.9,360.0 L122.7,365.1 L126.5,369.6 L130.3,373.5 L134.1,377.0 L137.8,380.0 L141.6,382.6 L145.4,384.8 L149.2,386.7 L153.0,388.2 L156.8,389.4 L160.6,390.3 L164.4,390.8 L168.2,391.1 L172.0,391.1 L175.7,390.7 L179.5,390.1 L183.3,389.2 L187.1,387.9 L190.9,386.4 L194.7,384.7 L198.5,382.8 L202.3,380.7 L206.1,378.6 L209.9,376.5 L213.6,374.4 L217.4,372.4 L221.2,370.4 L225.0,368.7 L228.8,367.1 M118.9,381.5 L122.7,383.1 L126.5,384.6 L130.3,386.1 L134.1,387.6 L137.8,389.1 L141.6,390.4 L145.4,391.8 L149.2,393.0 L153.0,394.2 L156.8,395.3 L160.6,396.4 L164.4,397.2 L168.2,397.9 L172.0,398.4 L175.7,398.6 L179.5,398.5 L183.3,398.1 L187.1,397.4 L190.9,396.3 L194.7,394.8 L198.5,393.1 L202.3,391.0 L206.1,388.5 L209.9,385.8 L213.6,382.9 L217.4,379.6 L221.2,376.1 L225.0,372.3 L228.8,368.3 M118.9,408.4 L122.7,409.6 L126.5,410.4 L130.3,410.9 L134.1,411.1 L137.8,411.1 L141.6,410.8 L145.4,410.3 L149.2,409.7 L153.0,409.0 L156.8,408.2 L160.6,407.3 L164.4,406.3 L168.2,405.3 L172.0,404.1 L175.7,402.9 L179.5,401.6 L183.3,400.2 L187.1,398.8 L190.9,397.3 L194.7,395.9 L198.5,394.5 L202.3,393.2 L206.1,392.2 L209.9,391.3 L213.6,390.7 L217.4,390.5 L221.2,390.6 L225.0,391.1 L228.8,392.1 M118.9,341.9 L122.7,346.6 L126.5,351.1 L130.3,355.4 L134.1,359.7 L137.8,363.8 L141.6,367.7 L145.4,371.5 L149.2,375.2 L153.0,378.8 L156.8,382.3 L160.6,385.6 L164.4,388.7 L168.2,391.6 L172.0,394.3 L175.7,396.7 L179.5,398.8 L183.3,400.7 L187.1,402.1 L190.9,403.3 L194.7,404.1 L198.5,404.7 L202.3,404.9 L206.1,405.0 L209.9,404.8 L213.6,404.4 L217.4,403.8 L221.2,403.0 L225.0,402.1 L228.8,401.0 M118.9,337.1 L122.7,343.8 L126.5,350.1 L130.3,356.0 L134.1,361.6 L137.8,366.8 L141.6,371.8 L145.4,376.5 L149.2,380.8 L153.0,384.9 L156.8,388.8 L160.6,392.3 L164.4,395.6 L168.2,398.5 L172.0,401.1 L175.7,403.4 L179.5,405.3 L183.3,406.7 L187.1,407.8 L190.9,408.5 L194.7,408.8 L198.5,408.8 L202.3,408.5 L206.1,408.0 L209.9,407.2 L213.6,406.2 L217.4,405.0 L221.2,403.6 L225.0,402.2 L228.8,400.6 M118.9,383.7 L122.7,385.9 L126.5,387.8 L130.3,389.5 L134.1,391.1 L137.8,392.4 L141.6,393.6 L145.4,394.7 L149.2,395.7 L153.0,396.5 L156.8,397.3 L160.6,397.9 L164.4,398.5 L168.2,398.9 L172.0,399.2 L175.7,399.3 L179.5,399.2 L183.3,399.0 L187.1,398.5 L190.9,397.9 L194.7,397.1 L198.5,396.3 L202.3,395.4 L206.1,394.4 L209.9,393.4 L213.6,392.5 L217.4,391.7 L221.2,390.9 L225.0,390.3 L228.8,389.8 M118.9,359.4 L122.7,362.7 L126.5,366.0 L130.3,369.1 L134.1,372.1 L137.8,375.0 L141.6,377.7 L145.4,380.3 L149.2,382.7 L153.0,385.0 L156.8,387.1 L160.6,389.0 L164.4,390.7 L168.2,392.0 L172.0,393.1 L175.7,393.8 L179.5,394.1 L183.3,394.0 L187.1,393.4 L190.9,392.3 L194.7,390.8 L198.5,388.9 L202.3,386.5 L206.1,383.7 L209.9,380.4 L213.6,376.8 L217.4,372.8 L221.2,368.4 L225.0,363.6 L228.8,358.5 M118.9,419.3 L122.7,417.3 L126.5,415.2 L130.3,413.3 L134.1,411.4 L137.8,409.7 L141.6,408.0 L145.4,406.4 L149.2,405.0 L153.0,403.7 L156.8,402.6 L160.6,401.6 L164.4,400.7 L168.2,399.9 L172.0,399.1 L175.7,398.4 L179.5,397.7 L183.3,397.0 L187.1,396.3 L190.9,395.5 L194.7,394.9 L198.5,394.2 L202.3,393.6 L206.1,393.2 L209.9,392.9 L213.6,392.7 L217.4,392.8 L221.2,393.1 L225.0,393.5 L228.8,394.3 M118.9,374.4 L122.7,377.1 L126.5,379.6 L130.3,382.1 L134.1,384.5 L137.8,386.8 L141.6,389.1 L145.4,391.3 L149.2,393.4 L153.0,395.4 L156.8,397.4 L160.6,399.2 L164.4,400.9 L168.2,402.4 L172.0,403.6 L175.7,404.7 L179.5,405.5 L183.3,405.9 L187.1,406.1 L190.9,405.9 L194.7,405.4 L198.5,404.5 L202.3,403.4 L206.1,402.1 L209.9,400.4 L213.6,398.6 L217.4,396.5 L221.2,394.2 L225.0,391.7 L228.8,389.1 M118.9,406.9 L122.7,406.3 L126.5,405.8 L130.3,405.3 L134.1,404.9 L137.8,404.6 L141.6,404.4 L145.4,404.2 L149.2,404.2 L153.0,404.3 L156.8,404.6 L160.6,404.9 L164.4,405.3 L168.2,405.9 L172.0,406.4 L175.7,407.0 L179.5,407.6 L183.3,408.1 L187.1,408.7 L190.9,409.2 L194.7,409.7 L198.5,410.3 L202.3,410.9 L206.1,411.7 L209.9,412.5 L213.6,413.5 L217.4,414.7 L221.2,416.1 L225.0,417.6 L228.8,419.5 M118.9,403.6 L122.7,404.3 L126.5,404.9 L130.3,405.4 L134.1,405.9 L137.8,406.4 L141.6,406.8 L145.4,407.2 L149.2,407.6 L153.0,407.9 L156.8,408.3 L160.6,408.6 L164.4,408.9 L168.2,409.1 L172.0,409.2 L175.7,409.1 L179.5,408.9 L183.3,408.6 L187.1,408.1 L190.9,407.4 L194.7,406.5 L198.5,405.5 L202.3,404.4 L206.1,403.2 L209.9,402.0 L213.6,400.7 L217.4,399.5 L221.2,398.3 L225.0,397.1 L228.8,395.9" fill="none" stroke="#f07878" stroke-opacity="0.21" stroke-width="1.3"/>
<line x1="118.90" y1="420.80" x2="228.80" y2="420.80" stroke="#e87878" stroke-width="1.3" />
<path d="M118.9,392.6 L122.7,390.6 L126.5,388.8 L130.3,387.0 L134.1,385.5 L137.8,384.3 L141.6,383.4 L145.4,383.0 L149.2,383.1 L153.0,383.6 L156.8,384.5 L160.6,385.8 L164.4,387.3 L168.2,389.1 L172.0,391.0 L175.7,393.0 L179.5,395.1 L183.3,397.2 L187.1,399.3 L190.9,401.3 L194.7,403.2 L198.5,405.0 L202.3,406.7 L206.1,408.3 L209.9,409.8 L213.6,411.3 L217.4,412.7 L221.2,414.1 L225.0,415.5 L228.8,416.9 M118.9,389.1 L122.7,387.2 L126.5,385.4 L130.3,383.7 L134.1,382.2 L137.8,381.1 L141.6,380.3 L145.4,379.9 L149.2,380.1 L153.0,380.6 L156.8,381.6 L160.6,382.9 L164.4,384.5 L168.2,386.4 L172.0,388.3 L175.7,390.4 L179.5,392.6 L183.3,394.8 L187.1,396.9 L190.9,398.9 L194.7,400.9 L198.5,402.7 L202.3,404.5 L206.1,406.2 L209.9,407.8 L213.6,409.3 L217.4,410.8 L221.2,412.3 L225.0,413.7 L228.8,415.2 M118.9,397.1 L122.7,395.0 L126.5,393.1 L130.3,391.2 L134.1,389.6 L137.8,388.3 L141.6,387.4 L145.4,386.9 L149.2,386.9 L153.0,387.4 L156.8,388.2 L160.6,389.4 L164.4,390.8 L168.2,392.5 L172.0,394.4 L175.7,396.3 L179.5,398.3 L183.3,400.4 L187.1,402.4 L190.9,404.3 L194.7,406.1 L198.5,407.8 L202.3,409.4 L206.1,411.0 L209.9,412.4 L213.6,413.8 L217.4,415.2 L221.2,416.5 L225.0,417.8 L228.8,419.1 M118.9,396.4 L122.7,394.4 L126.5,392.5 L130.3,390.7 L134.1,389.1 L137.8,387.8 L141.6,386.9 L145.4,386.4 L149.2,386.4 L153.0,386.8 L156.8,387.7 L160.6,388.9 L164.4,390.4 L168.2,392.1 L172.0,393.9 L175.7,395.9 L179.5,397.9 L183.3,399.9 L187.1,402.0 L190.9,403.9 L194.7,405.7 L198.5,407.4 L202.3,409.0 L206.1,410.6 L209.9,412.1 L213.6,413.5 L217.4,414.9 L221.2,416.2 L225.0,417.5 L228.8,418.8 M118.9,387.2 L122.7,385.4 L126.5,383.6 L130.3,381.9 L134.1,380.5 L137.8,379.4 L141.6,378.6 L145.4,378.3 L149.2,378.4 L153.0,379.1 L156.8,380.1 L160.6,381.4 L164.4,383.0 L168.2,384.9 L172.0,386.9 L175.7,389.0 L179.5,391.2 L183.3,393.4 L187.1,395.6 L190.9,397.7 L194.7,399.7 L198.5,401.5 L202.3,403.3 L206.1,405.0 L209.9,406.7 L213.6,408.2 L217.4,409.8 L221.2,411.3 L225.0,412.8 L228.8,414.2" fill="none" stroke="#a8c4f0" stroke-opacity="0.3" stroke-width="1.3"/>
<path d="M118.90,385.50 L120.76,385.99 L122.63,386.47 L124.49,386.96 L126.35,387.45 L128.21,387.94 L130.08,388.43 L131.94,388.93 L133.80,389.43 L135.66,389.93 L137.53,390.43 L139.39,390.94 L141.25,391.46 L143.12,391.98 L144.98,392.50 L146.84,393.03 L148.70,393.57 L150.57,394.11 L152.43,394.67 L154.29,395.22 L156.15,395.79 L158.02,396.35 L159.88,396.90 L161.74,397.45 L163.61,398.00 L165.47,398.52 L167.33,399.03 L169.19,399.52 L171.06,399.99 L172.92,400.43 L174.78,400.84 L176.64,401.22 L178.51,401.56 L180.37,401.86 L182.23,402.12 L184.09,402.33 L185.96,402.49 L187.82,402.60 L189.68,402.67 L191.55,402.69 L193.41,402.66 L195.27,402.60 L197.13,402.50 L199.00,402.37 L200.86,402.21 L202.72,402.01 L204.58,401.79 L206.45,401.55 L208.31,401.29 L210.17,401.00 L212.04,400.70 L213.90,400.39 L215.76,400.06 L217.62,399.71 L219.49,399.36 L221.35,399.00 L223.21,398.63 L225.07,398.26 L226.94,397.88 L228.80,397.50" fill="none" stroke="#e8707a" stroke-width="1.8"/>
<path d="M118.90,392.60 L120.76,391.63 L122.63,390.67 L124.49,389.73 L126.35,388.81 L128.21,387.93 L130.08,387.10 L131.94,386.31 L133.80,385.59 L135.66,384.93 L137.53,384.36 L139.39,383.87 L141.25,383.48 L143.12,383.19 L144.98,383.02 L146.84,382.96 L148.70,383.03 L150.57,383.20 L152.43,383.48 L154.29,383.86 L156.15,384.33 L158.02,384.88 L159.88,385.51 L161.74,386.21 L163.61,386.97 L165.47,387.79 L167.33,388.66 L169.19,389.57 L171.06,390.52 L172.92,391.50 L174.78,392.50 L176.64,393.52 L178.51,394.55 L180.37,395.58 L182.23,396.62 L184.09,397.65 L185.96,398.67 L187.82,399.68 L189.68,400.66 L191.55,401.62 L193.41,402.55 L195.27,403.46 L197.13,404.34 L199.00,405.20 L200.86,406.03 L202.72,406.85 L204.58,407.65 L206.45,408.43 L208.31,409.19 L210.17,409.94 L212.04,410.67 L213.90,411.40 L215.76,412.11 L217.62,412.81 L219.49,413.50 L221.35,414.19 L223.21,414.87 L225.07,415.55 L226.94,416.23 L228.80,416.90" fill="none" stroke="#5b8ee6" stroke-width="2.0"/>
</g>
<line x1="114.40" y1="357.30" x2="114.40" y2="422.30" stroke="#111" stroke-width="1.1" />
<line x1="113.90" y1="421.80" x2="233.60" y2="421.80" stroke="#111" stroke-width="1.1" />
<line x1="112.10" y1="357.60" x2="114.40" y2="357.60" stroke="#222" stroke-width="0.7" />
<line x1="112.10" y1="421.20" x2="114.40" y2="421.20" stroke="#222" stroke-width="0.7" />
<line x1="118.90" y1="421.80" x2="118.90" y2="423.40" stroke="#222" stroke-width="0.6" />
<line x1="140.88" y1="421.80" x2="140.88" y2="423.40" stroke="#222" stroke-width="0.6" />
<line x1="162.86" y1="421.80" x2="162.86" y2="423.40" stroke="#222" stroke-width="0.6" />
<line x1="184.84" y1="421.80" x2="184.84" y2="423.40" stroke="#222" stroke-width="0.6" />
<line x1="206.82" y1="421.80" x2="206.82" y2="423.40" stroke="#222" stroke-width="0.6" />
<line x1="228.80" y1="421.80" x2="228.80" y2="423.40" stroke="#222" stroke-width="0.6" />
<text x="111.60" y="360.90" text-anchor="end" textLength="12.80" lengthAdjust="spacingAndGlyphs" >2.5</text>
<text x="111.60" y="423.20" text-anchor="end" textLength="12.80" lengthAdjust="spacingAndGlyphs" >0.0</text>
<text x="119.80" y="345.50" textLength="105.20" lengthAdjust="spacingAndGlyphs" >BMP: BMPER (EMD=0.247)</text>
<text x="172.70" y="432.80" text-anchor="middle" textLength="46.40" lengthAdjust="spacingAndGlyphs" >Pseudotime</text>
<clipPath id="clip2"><rect x="264.5" y="357.6" width="111" height="64.59999999999997"/></clipPath>
<g clip-path="url(#clip2)">
<path d="M265.0,421.2 L268.8,421.2 L272.6,421.2 L276.4,421.2 L280.2,421.2 L284.0,419.3 L287.8,416.6 L291.6,414.3 L295.3,412.3 L299.1,410.7 L302.9,409.5 L306.7,408.5 L310.5,407.7 L314.3,407.2 L318.1,406.8 L321.9,406.6 L325.7,406.4 L329.5,406.3 L333.3,406.1 L337.1,405.8 L340.9,405.4 L344.7,404.9 L348.4,404.1 L352.2,403.2 L356.0,402.0 L359.8,400.6 L363.6,398.9 L367.4,397.0 L371.2,394.8 L375.0,392.3 M265.0,421.2 L268.8,419.2 L272.6,417.1 L276.4,415.2 L280.2,413.7 L284.0,412.4 L287.8,411.4 L291.6,410.6 L295.3,410.0 L299.1,409.7 L302.9,409.5 L306.7,409.5 L310.5,409.6 L314.3,409.9 L318.1,410.3 L321.9,410.7 L325.7,411.2 L329.5,411.6 L333.3,412.0 L337.1,412.4 L340.9,412.6 L344.7,412.7 L348.4,412.6 L352.2,412.4 L356.0,412.0 L359.8,411.5 L363.6,410.8 L367.4,409.9 L371.2,408.9 L375.0,407.8 M265.0,421.2 L268.8,421.2 L272.6,421.2 L276.4,421.2 L280.2,421.2 L284.0,421.2 L287.8,420.1 L291.6,418.6 L295.3,416.9 L299.1,415.0 L302.9,413.0 L306.7,410.9 L310.5,408.6 L314.3,406.2 L318.1,403.7 L321.9,401.1 L325.7,398.5 L329.5,395.7 L333.3,392.8 L337.1,389.8 L340.9,386.8 L344.7,383.6 L348.4,380.4 L352.2,377.2 L356.0,374.0 L359.8,370.8 L363.6,367.7 L367.4,364.7 L371.2,361.8 L375.0,359.2 M265.0,393.4 L268.8,395.1 L272.6,396.7 L276.4,398.1 L280.2,399.3 L284.0,400.4 L287.8,401.4 L291.6,402.1 L295.3,402.8 L299.1,403.3 L302.9,403.6 L306.7,403.8 L310.5,403.8 L314.3,403.7 L318.1,403.3 L321.9,402.8 L325.7,402.1 L329.5,401.1 L333.3,399.9 L337.1,398.4 L340.9,396.7 L344.7,394.7 L348.4,392.3 L352.2,389.7 L356.0,386.8 L359.8,383.7 L363.6,380.4 L367.4,376.9 L371.2,373.2 L375.0,369.3 M265.0,413.9 L268.8,413.4 L272.6,412.9 L276.4,412.5 L280.2,412.1 L284.0,411.7 L287.8,411.3 L291.6,410.9 L295.3,410.6 L299.1,410.3 L302.9,410.0 L306.7,409.8 L310.5,409.6 L314.3,409.4 L318.1,409.3 L321.9,409.1 L325.7,409.0 L329.5,408.8 L333.3,408.6 L337.1,408.3 L340.9,407.9 L344.7,407.5 L348.4,406.9 L352.2,406.4 L356.0,405.7 L359.8,405.1 L363.6,404.4 L367.4,403.8 L371.2,403.2 L375.0,402.7 M265.0,416.5 L268.8,416.6 L272.6,416.7 L276.4,416.7 L280.2,416.6 L284.0,416.5 L287.8,416.2 L291.6,415.9 L295.3,415.6 L299.1,415.2 L302.9,414.7 L306.7,414.2 L310.5,413.6 L314.3,412.9 L318.1,412.2 L321.9,411.5 L325.7,410.6 L329.5,409.6 L333.3,408.5 L337.1,407.3 L340.9,405.9 L344.7,404.3 L348.4,402.6 L352.2,400.8 L356.0,398.9 L359.8,396.9 L363.6,394.8 L367.4,392.6 L371.2,390.5 L375.0,388.3 M265.0,421.2 L268.8,421.2 L272.6,421.2 L276.4,420.7 L280.2,418.5 L284.0,416.7 L287.8,415.3 L291.6,414.2 L295.3,413.4 L299.1,412.8 L302.9,412.4 L306.7,412.1 L310.5,411.9 L314.3,411.8 L318.1,411.7 L321.9,411.5 L325.7,411.2 L329.5,410.7 L333.3,409.9 L337.1,408.9 L340.9,407.5 L344.7,405.6 L348.4,403.4 L352.2,400.6 L356.0,397.4 L359.8,393.6 L363.6,389.3 L367.4,384.4 L371.2,378.9 L375.0,372.7 M265.0,402.9 L268.8,401.8 L272.6,400.9 L276.4,400.0 L280.2,399.3 L284.0,398.7 L287.8,398.3 L291.6,397.9 L295.3,397.6 L299.1,397.4 L302.9,397.3 L306.7,397.2 L310.5,397.2 L314.3,397.3 L318.1,397.3 L321.9,397.4 L325.7,397.4 L329.5,397.3 L333.3,397.2 L337.1,397.0 L340.9,396.6 L344.7,396.0 L348.4,395.3 L352.2,394.4 L356.0,393.4 L359.8,392.3 L363.6,391.0 L367.4,389.6 L371.2,388.0 L375.0,386.4 M265.0,420.8 L268.8,418.9 L272.6,417.2 L276.4,415.6 L280.2,414.3 L284.0,413.0 L287.8,411.8 L291.6,410.8 L295.3,409.8 L299.1,408.9 L302.9,408.0 L306.7,407.2 L310.5,406.4 L314.3,405.5 L318.1,404.7 L321.9,403.7 L325.7,402.6 L329.5,401.4 L333.3,400.0 L337.1,398.4 L340.9,396.5 L344.7,394.4 L348.4,392.0 L352.2,389.3 L356.0,386.3 L359.8,383.0 L363.6,379.4 L367.4,375.5 L371.2,371.4 L375.0,366.9 M265.0,393.0 L268.8,393.1 L272.6,393.6 L276.4,394.3 L280.2,395.2 L284.0,396.4 L287.8,397.8 L291.6,399.2 L295.3,400.8 L299.1,402.5 L302.9,404.2 L306.7,406.0 L310.5,407.7 L314.3,409.4 L318.1,411.0 L321.9,412.4 L325.7,413.6 L329.5,414.6 L333.3,415.3 L337.1,415.6 L340.9,415.5 L344.7,415.0 L348.4,414.1 L352.2,412.6 L356.0,410.7 L359.8,408.2 L363.6,405.2 L367.4,401.7 L371.2,397.6 L375.0,392.9 M265.0,394.4 L268.8,396.8 L272.6,398.9 L276.4,400.8 L280.2,402.5 L284.0,404.1 L287.8,405.4 L291.6,406.5 L295.3,407.4 L299.1,408.1 L302.9,408.7 L306.7,409.0 L310.5,409.2 L314.3,409.2 L318.1,409.0 L321.9,408.6 L325.7,408.0 L329.5,407.2 L333.3,406.1 L337.1,404.8 L340.9,403.2 L344.7,401.3 L348.4,399.2 L352.2,396.8 L356.0,394.2 L359.8,391.4 L363.6,388.4 L367.4,385.3 L371.2,382.0 L375.0,378.6 M265.0,401.4 L268.8,402.0 L272.6,402.4 L276.4,402.7 L280.2,402.8 L284.0,402.7 L287.8,402.5 L291.6,402.2 L295.3,401.8 L299.1,401.3 L302.9,400.7 L306.7,400.0 L310.5,399.3 L314.3,398.5 L318.1,397.6 L321.9,396.7 L325.7,395.7 L329.5,394.6 L333.3,393.4 L337.1,392.2 L340.9,390.8 L344.7,389.4 L348.4,387.8 L352.2,386.3 L356.0,384.7 L359.8,383.1 L363.6,381.5 L367.4,380.0 L371.2,378.6 L375.0,377.4 M265.0,405.8 L268.8,405.8 L272.6,405.8 L276.4,405.9 L280.2,406.0 L284.0,406.1 L287.8,406.2 L291.6,406.3 L295.3,406.4 L299.1,406.6 L302.9,406.6 L306.7,406.7 L310.5,406.7 L314.3,406.7 L318.1,406.6 L321.9,406.4 L325.7,406.0 L329.5,405.5 L333.3,404.8 L337.1,404.0 L340.9,402.8 L344.7,401.5 L348.4,399.8 L352.2,398.0 L356.0,395.9 L359.8,393.5 L363.6,390.9 L367.4,388.1 L371.2,385.1 L375.0,382.0 M265.0,380.4 L268.8,384.0 L272.6,387.3 L276.4,390.3 L280.2,393.1 L284.0,395.7 L287.8,398.1 L291.6,400.3 L295.3,402.2 L299.1,403.9 L302.9,405.5 L306.7,406.8 L310.5,407.8 L314.3,408.7 L318.1,409.4 L321.9,409.8 L325.7,409.9 L329.5,409.8 L333.3,409.4 L337.1,408.7 L340.9,407.7 L344.7,406.4 L348.4,404.7 L352.2,402.8 L356.0,400.6 L359.8,398.1 L363.6,395.4 L367.4,392.4 L371.2,389.3 L375.0,386.0 M265.0,421.2 L268.8,421.2 L272.6,420.9 L276.4,419.9 L280.2,418.9 L284.0,417.8 L287.8,416.8 L291.6,415.8 L295.3,414.7 L299.1,413.7 L302.9,412.6 L306.7,411.5 L310.5,410.3 L314.3,409.1 L318.1,407.9 L321.9,406.6 L325.7,405.1 L329.5,403.6 L333.3,401.8 L337.1,399.9 L340.9,397.9 L344.7,395.6 L348.4,393.1 L352.2,390.3 L356.0,387.4 L359.8,384.4 L363.6,381.1 L367.4,377.7 L371.2,374.2 L375.0,370.5 M265.0,374.6 L268.8,377.0 L272.6,379.2 L276.4,381.4 L280.2,383.4 L284.0,385.5 L287.8,387.4 L291.6,389.4 L295.3,391.3 L299.1,393.3 L302.9,395.2 L306.7,397.2 L310.5,399.2 L314.3,401.3 L318.1,403.5 L321.9,405.7 L325.7,407.9 L329.5,410.2 L333.3,412.5 L337.1,414.9 L340.9,417.3 L344.7,419.7 L348.4,421.2 L352.2,421.2 L356.0,421.2 L359.8,421.2 L363.6,421.2 L367.4,421.2 L371.2,421.2 L375.0,421.2 M265.0,404.9 L268.8,404.4 L272.6,404.1 L276.4,403.9 L280.2,403.9 L284.0,404.0 L287.8,404.2 L291.6,404.5 L295.3,404.8 L299.1,405.1 L302.9,405.4 L306.7,405.7 L310.5,405.9 L314.3,406.1 L318.1,406.2 L321.9,406.1 L325.7,405.7 L329.5,405.2 L333.3,404.4 L337.1,403.3 L340.9,401.8 L344.7,399.9 L348.4,397.6 L352.2,394.8 L356.0,391.7 L359.8,388.1 L363.6,384.1 L367.4,379.6 L371.2,374.7 L375.0,369.4 M265.0,391.7 L268.8,391.0 L272.6,390.5 L276.4,390.2 L280.2,390.1 L284.0,390.1 L287.8,390.2 L291.6,390.4 L295.3,390.7 L299.1,391.1 L302.9,391.6 L306.7,392.1 L310.5,392.6 L314.3,393.2 L318.1,393.8 L321.9,394.3 L325.7,394.8 L329.5,395.2 L333.3,395.4 L337.1,395.5 L340.9,395.4 L344.7,395.0 L348.4,394.5 L352.2,393.7 L356.0,392.7 L359.8,391.5 L363.6,390.0 L367.4,388.4 L371.2,386.6 L375.0,384.5 M265.0,411.3 L268.8,410.9 L272.6,410.6 L276.4,410.3 L280.2,410.1 L284.0,409.9 L287.8,409.6 L291.6,409.4 L295.3,409.2 L299.1,408.9 L302.9,408.5 L306.7,408.1 L310.5,407.6 L314.3,407.0 L318.1,406.3 L321.9,405.4 L325.7,404.3 L329.5,403.0 L333.3,401.4 L337.1,399.6 L340.9,397.4 L344.7,394.8 L348.4,391.9 L352.2,388.7 L356.0,385.1 L359.8,381.1 L363.6,376.8 L367.4,372.2 L371.2,367.2 L375.0,361.8 M265.0,418.7 L268.8,417.8 L272.6,417.0 L276.4,416.4 L280.2,415.8 L284.0,415.4 L287.8,415.0 L291.6,414.7 L295.3,414.4 L299.1,414.1 L302.9,413.9 L306.7,413.6 L310.5,413.4 L314.3,413.0 L318.1,412.6 L321.9,412.1 L325.7,411.5 L329.5,410.7 L333.3,409.6 L337.1,408.4 L340.9,406.8 L344.7,405.0 L348.4,402.9 L352.2,400.4 L356.0,397.7 L359.8,394.6 L363.6,391.2 L367.4,387.6 L371.2,383.6 L375.0,379.3 M265.0,364.4 L268.8,370.6 L272.6,376.2 L276.4,381.2 L280.2,385.5 L284.0,389.2 L287.8,392.3 L291.6,395.0 L295.3,397.1 L299.1,398.9 L302.9,400.2 L306.7,401.1 L310.5,401.8 L314.3,402.1 L318.1,402.2 L321.9,402.0 L325.7,401.6 L329.5,401.0 L333.3,400.1 L337.1,399.2 L340.9,398.0 L344.7,396.8 L348.4,395.4 L352.2,394.0 L356.0,392.7 L359.8,391.4 L363.6,390.3 L367.4,389.4 L371.2,388.7 L375.0,388.3 M265.0,403.1 L268.8,404.9 L272.6,406.4 L276.4,407.5 L280.2,408.3 L284.0,408.8 L287.8,409.0 L291.6,409.0 L295.3,408.7 L299.1,408.2 L302.9,407.5 L306.7,406.6 L310.5,405.6 L314.3,404.4 L318.1,403.0 L321.9,401.5 L325.7,399.8 L329.5,398.0 L333.3,396.0 L337.1,393.9 L340.9,391.6 L344.7,389.2 L348.4,386.6 L352.2,384.0 L356.0,381.4 L359.8,378.7 L363.6,376.1 L367.4,373.5 L371.2,371.0 L375.0,368.7 M265.0,401.9 L268.8,401.9 L272.6,401.8 L276.4,401.7 L280.2,401.4 L284.0,401.1 L287.8,400.7 L291.6,400.2 L295.3,399.7 L299.1,399.2 L302.9,398.7 L306.7,398.1 L310.5,397.5 L314.3,397.0 L318.1,396.4 L321.9,395.8 L325.7,395.2 L329.5,394.6 L333.3,393.9 L337.1,393.1 L340.9,392.4 L344.7,391.5 L348.4,390.6 L352.2,389.7 L356.0,388.9 L359.8,388.0 L363.6,387.2 L367.4,386.5 L371.2,385.9 L375.0,385.5 M265.0,421.2 L268.8,421.2 L272.6,421.2 L276.4,421.2 L280.2,421.2 L284.0,421.2 L287.8,421.2 L291.6,420.9 L295.3,419.8 L299.1,418.7 L302.9,417.6 L306.7,416.4 L310.5,415.2 L314.3,414.1 L318.1,412.9 L321.9,411.7 L325.7,410.5 L329.5,409.3 L333.3,408.0 L337.1,406.7 L340.9,405.4 L344.7,404.0 L348.4,402.6 L352.2,401.2 L356.0,399.8 L359.8,398.5 L363.6,397.2 L367.4,396.1 L371.2,395.1 L375.0,394.2 M265.0,381.2 L268.8,381.1 L272.6,381.1 L276.4,381.3 L280.2,381.6 L284.0,382.1 L287.8,382.6 L291.6,383.3 L295.3,384.1 L299.1,384.9 L302.9,385.8 L306.7,386.8 L310.5,387.8 L314.3,388.8 L318.1,389.9 L321.9,390.8 L325.7,391.8 L329.5,392.6 L333.3,393.3 L337.1,393.8 L340.9,394.2 L344.7,394.4 L348.4,394.3 L352.2,394.0 L356.0,393.6 L359.8,392.9 L363.6,392.0 L367.4,390.9 L371.2,389.7 L375.0,388.2 M265.0,379.9 L268.8,381.7 L272.6,383.6 L276.4,385.4 L280.2,387.2 L284.0,389.0 L287.8,390.7 L291.6,392.4 L295.3,394.0 L299.1,395.5 L302.9,397.0 L306.7,398.3 L310.5,399.6 L314.3,400.7 L318.1,401.7 L321.9,402.4 L325.7,403.0 L329.5,403.4 L333.3,403.5 L337.1,403.3 L340.9,402.8 L344.7,401.9 L348.4,400.7 L352.2,399.2 L356.0,397.3 L359.8,395.1 L363.6,392.6 L367.4,389.8 L371.2,386.7 L375.0,383.3 M265.0,356.4 L268.8,362.4 L272.6,367.9 L276.4,372.9 L280.2,377.3 L284.0,381.3 L287.8,384.8 L291.6,388.0 L295.3,390.8 L299.1,393.2 L302.9,395.3 L306.7,397.2 L310.5,398.8 L314.3,400.1 L318.1,401.3 L321.9,402.2 L325.7,403.0 L329.5,403.6 L333.3,404.0 L337.1,404.3 L340.9,404.5 L344.7,404.6 L348.4,404.5 L352.2,404.5 L356.0,404.4 L359.8,404.4 L363.6,404.6 L367.4,404.9 L371.2,405.4 L375.0,406.1 M265.0,373.5 L268.8,375.8 L272.6,378.0 L276.4,380.1 L280.2,382.1 L284.0,383.9 L287.8,385.7 L291.6,387.3 L295.3,388.9 L299.1,390.3 L302.9,391.6 L306.7,392.8 L310.5,393.9 L314.3,395.0 L318.1,395.9 L321.9,396.6 L325.7,397.2 L329.5,397.7 L333.3,397.9 L337.1,398.0 L340.9,397.8 L344.7,397.5 L348.4,396.9 L352.2,396.1 L356.0,395.1 L359.8,394.0 L363.6,392.7 L367.4,391.3 L371.2,389.8 L375.0,388.2 M265.0,418.9 L268.8,418.9 L272.6,418.9 L276.4,418.8 L280.2,418.7 L284.0,418.4 L287.8,418.1 L291.6,417.8 L295.3,417.3 L299.1,416.8 L302.9,416.2 L306.7,415.4 L310.5,414.6 L314.3,413.7 L318.1,412.6 L321.9,411.4 L325.7,410.0 L329.5,408.5 L333.3,406.7 L337.1,404.6 L340.9,402.3 L344.7,399.7 L348.4,396.9 L352.2,393.7 L356.0,390.3 L359.8,386.7 L363.6,382.8 L367.4,378.8 L371.2,374.5 L375.0,370.0 M265.0,353.0 L268.8,360.5 L272.6,367.2 L276.4,373.2 L280.2,378.5 L284.0,383.2 L287.8,387.3 L291.6,390.9 L295.3,394.1 L299.1,396.8 L302.9,399.1 L306.7,401.1 L310.5,402.8 L314.3,404.3 L318.1,405.5 L321.9,406.6 L325.7,407.5 L329.5,408.4 L333.3,409.1 L337.1,409.8 L340.9,410.5 L344.7,411.2 L348.4,411.9 L352.2,412.8 L356.0,413.9 L359.8,415.2 L363.6,416.9 L367.4,419.0 L371.2,421.2 L375.0,421.2 M265.0,385.9 L268.8,386.5 L272.6,387.2 L276.4,388.0 L280.2,388.8 L284.0,389.6 L287.8,390.4 L291.6,391.2 L295.3,392.0 L299.1,392.7 L302.9,393.4 L306.7,394.0 L310.5,394.5 L314.3,394.9 L318.1,395.2 L321.9,395.3 L325.7,395.2 L329.5,394.8 L333.3,394.2 L337.1,393.3 L340.9,392.1 L344.7,390.5 L348.4,388.5 L352.2,386.1 L356.0,383.4 L359.8,380.4 L363.6,376.9 L367.4,373.1 L371.2,369.0 L375.0,364.5 M265.0,389.7 L268.8,392.2 L272.6,394.6 L276.4,396.7 L280.2,398.6 L284.0,400.3 L287.8,401.7 L291.6,402.9 L295.3,403.9 L299.1,404.6 L302.9,405.1 L306.7,405.3 L310.5,405.2 L314.3,404.9 L318.1,404.4 L321.9,403.5 L325.7,402.3 L329.5,400.7 L333.3,398.8 L337.1,396.6 L340.9,393.9 L344.7,390.8 L348.4,387.3 L352.2,383.4 L356.0,379.1 L359.8,374.5 L363.6,369.5 L367.4,364.1 L371.2,358.4 L375.0,352.5 M265.0,370.8 L268.8,374.7 L272.6,378.3 L276.4,381.5 L280.2,384.5 L284.0,387.2 L287.8,389.6 L291.6,391.7 L295.3,393.6 L299.1,395.3 L302.9,396.7 L306.7,397.8 L310.5,398.7 L314.3,399.4 L318.1,399.9 L321.9,400.1 L325.7,400.1 L329.5,399.8 L333.3,399.2 L337.1,398.4 L340.9,397.2 L344.7,395.8 L348.4,394.1 L352.2,392.1 L356.0,389.9 L359.8,387.4 L363.6,384.8 L367.4,382.0 L371.2,379.1 L375.0,376.1 M265.0,393.2 L268.8,394.3 L272.6,395.3 L276.4,396.3 L280.2,397.1 L284.0,397.8 L287.8,398.5 L291.6,399.2 L295.3,399.8 L299.1,400.4 L302.9,400.9 L306.7,401.4 L310.5,401.9 L314.3,402.5 L318.1,402.9 L321.9,403.4 L325.7,403.9 L329.5,404.3 L333.3,404.6 L337.1,404.9 L340.9,405.2 L344.7,405.4 L348.4,405.5 L352.2,405.6 L356.0,405.7 L359.8,405.9 L363.6,406.1 L367.4,406.3 L371.2,406.7 L375.0,407.2 M265.0,415.3 L268.8,414.4 L272.6,413.6 L276.4,412.8 L280.2,412.1 L284.0,411.4 L287.8,410.7 L291.6,410.0 L295.3,409.3 L299.1,408.6 L302.9,407.9 L306.7,407.1 L310.5,406.2 L314.3,405.3 L318.1,404.3 L321.9,403.1 L325.7,401.8 L329.5,400.3 L333.3,398.6 L337.1,396.7 L340.9,394.5 L344.7,391.9 L348.4,389.1 L352.2,386.0 L356.0,382.6 L359.8,378.9 L363.6,374.9 L367.4,370.6 L371.2,366.1 L375.0,361.3 M265.0,401.8 L268.8,403.3 L272.6,404.7 L276.4,406.0 L280.2,407.2 L284.0,408.3 L287.8,409.2 L291.6,410.1 L295.3,410.8 L299.1,411.3 L302.9,411.8 L306.7,412.0 L310.5,412.1 L314.3,412.1 L318.1,411.8 L321.9,411.3 L325.7,410.6 L329.5,409.6 L333.3,408.3 L337.1,406.7 L340.9,404.7 L344.7,402.4 L348.4,399.7 L352.2,396.7 L356.0,393.3 L359.8,389.6 L363.6,385.6 L367.4,381.3 L371.2,376.6 L375.0,371.7 M265.0,384.1 L268.8,386.5 L272.6,388.8 L276.4,391.0 L280.2,393.0 L284.0,394.8 L287.8,396.5 L291.6,398.1 L295.3,399.5 L299.1,400.8 L302.9,402.0 L306.7,403.0 L310.5,403.9 L314.3,404.6 L318.1,405.2 L321.9,405.6 L325.7,405.8 L329.5,405.8 L333.3,405.6 L337.1,405.1 L340.9,404.4 L344.7,403.5 L348.4,402.2 L352.2,400.8 L356.0,399.1 L359.8,397.2 L363.6,395.1 L367.4,392.8 L371.2,390.4 L375.0,387.9 M265.0,367.9 L268.8,370.2 L272.6,372.6 L276.4,375.0 L280.2,377.4 L284.0,379.8 L287.8,382.2 L291.6,384.5 L295.3,386.9 L299.1,389.2 L302.9,391.4 L306.7,393.7 L310.5,395.8 L314.3,397.9 L318.1,399.8 L321.9,401.6 L325.7,403.3 L329.5,404.8 L333.3,406.1 L337.1,407.1 L340.9,407.9 L344.7,408.4 L348.4,408.7 L352.2,408.6 L356.0,408.3 L359.8,407.7 L363.6,406.9 L367.4,405.9 L371.2,404.5 L375.0,403.0 M265.0,419.6 L268.8,418.0 L272.6,416.4 L276.4,414.9 L280.2,413.3 L284.0,411.8 L287.8,410.3 L291.6,408.9 L295.3,407.5 L299.1,406.1 L302.9,404.8 L306.7,403.5 L310.5,402.2 L314.3,400.9 L318.1,399.7 L321.9,398.5 L325.7,397.2 L329.5,395.9 L333.3,394.6 L337.1,393.2 L340.9,391.7 L344.7,390.1 L348.4,388.5 L352.2,386.7 L356.0,385.0 L359.8,383.1 L363.6,381.3 L367.4,379.5 L371.2,377.6 L375.0,375.9 M265.0,421.2 L268.8,421.2 L272.6,421.2 L276.4,420.5 L280.2,417.8 L284.0,415.4 L287.8,413.2 L291.6,411.1 L295.3,409.3 L299.1,407.6 L302.9,406.1 L306.7,404.6 L310.5,403.3 L314.3,402.0 L318.1,400.8 L321.9,399.5 L325.7,398.2 L329.5,396.8 L333.3,395.3 L337.1,393.6 L340.9,391.8 L344.7,389.6 L348.4,387.3 L352.2,384.6 L356.0,381.8 L359.8,378.6 L363.6,375.2 L367.4,371.5 L371.2,367.5 L375.0,363.2 M265.0,421.2 L268.8,421.2 L272.6,421.2 L276.4,421.2 L280.2,421.2 L284.0,421.2 L287.8,421.2 L291.6,421.2 L295.3,421.2 L299.1,421.2 L302.9,419.9 L306.7,418.0 L310.5,416.0 L314.3,414.0 L318.1,412.0 L321.9,409.8 L325.7,407.5 L329.5,405.0 L333.3,402.3 L337.1,399.3 L340.9,396.1 L344.7,392.7 L348.4,388.9 L352.2,384.8 L356.0,380.5 L359.8,375.9 L363.6,371.0 L367.4,365.9 L371.2,360.5 L375.0,354.8 M265.0,409.1 L268.8,410.2 L272.6,411.1 L276.4,411.7 L280.2,412.2 L284.0,412.4 L287.8,412.5 L291.6,412.4 L295.3,412.1 L299.1,411.6 L302.9,410.9 L306.7,410.1 L310.5,409.2 L314.3,408.1 L318.1,406.9 L321.9,405.5 L325.7,403.9 L329.5,402.1 L333.3,400.2 L337.1,398.0 L340.9,395.6 L344.7,393.1 L348.4,390.3 L352.2,387.3 L356.0,384.2 L359.8,381.0 L363.6,377.6 L367.4,374.2 L371.2,370.7 L375.0,367.2 M265.0,381.2 L268.8,382.4 L272.6,383.7 L276.4,385.1 L280.2,386.5 L284.0,388.0 L287.8,389.4 L291.6,390.9 L295.3,392.4 L299.1,393.9 L302.9,395.3 L306.7,396.7 L310.5,398.1 L314.3,399.3 L318.1,400.5 L321.9,401.5 L325.7,402.3 L329.5,403.0 L333.3,403.4 L337.1,403.5 L340.9,403.4 L344.7,402.9 L348.4,402.1 L352.2,401.0 L356.0,399.6 L359.8,397.8 L363.6,395.8 L367.4,393.4 L371.2,390.7 L375.0,387.7 M265.0,411.4 L268.8,412.5 L272.6,413.3 L276.4,413.9 L280.2,414.1 L284.0,414.2 L287.8,414.0 L291.6,413.6 L295.3,413.0 L299.1,412.3 L302.9,411.3 L306.7,410.3 L310.5,409.1 L314.3,407.8 L318.1,406.4 L321.9,404.9 L325.7,403.2 L329.5,401.5 L333.3,399.6 L337.1,397.6 L340.9,395.5 L344.7,393.3 L348.4,391.0 L352.2,388.7 L356.0,386.3 L359.8,383.9 L363.6,381.6 L367.4,379.4 L371.2,377.2 L375.0,375.3 M265.0,392.7 L268.8,393.2 L272.6,393.8 L276.4,394.4 L280.2,395.2 L284.0,396.0 L287.8,396.9 L291.6,397.8 L295.3,398.8 L299.1,399.8 L302.9,400.8 L306.7,401.8 L310.5,402.9 L314.3,403.9 L318.1,404.9 L321.9,405.8 L325.7,406.7 L329.5,407.5 L333.3,408.1 L337.1,408.5 L340.9,408.8 L344.7,408.9 L348.4,408.8 L352.2,408.4 L356.0,407.9 L359.8,407.2 L363.6,406.3 L367.4,405.3 L371.2,404.1 L375.0,402.8 M265.0,413.0 L268.8,412.0 L272.6,411.0 L276.4,410.0 L280.2,409.1 L284.0,408.2 L287.8,407.4 L291.6,406.6 L295.3,405.8 L299.1,405.0 L302.9,404.3 L306.7,403.5 L310.5,402.8 L314.3,402.1 L318.1,401.4 L321.9,400.7 L325.7,399.9 L329.5,399.0 L333.3,398.0 L337.1,397.0 L340.9,395.8 L344.7,394.4 L348.4,393.0 L352.2,391.4 L356.0,389.7 L359.8,387.9 L363.6,386.0 L367.4,384.0 L371.2,382.0 L375.0,380.0 M265.0,373.5 L268.8,376.2 L272.6,378.9 L276.4,381.5 L280.2,384.1 L284.0,386.6 L287.8,389.0 L291.6,391.3 L295.3,393.5 L299.1,395.6 L302.9,397.5 L306.7,399.3 L310.5,401.0 L314.3,402.6 L318.1,403.9 L321.9,405.1 L325.7,406.0 L329.5,406.7 L333.3,407.1 L337.1,407.2 L340.9,407.0 L344.7,406.4 L348.4,405.4 L352.2,404.1 L356.0,402.5 L359.8,400.6 L363.6,398.3 L367.4,395.7 L371.2,392.8 L375.0,389.6 M265.0,410.7 L268.8,410.4 L272.6,410.0 L276.4,409.7 L280.2,409.3 L284.0,408.8 L287.8,408.4 L291.6,407.8 L295.3,407.2 L299.1,406.5 L302.9,405.7 L306.7,404.7 L310.5,403.7 L314.3,402.5 L318.1,401.1 L321.9,399.6 L325.7,397.8 L329.5,395.7 L333.3,393.4 L337.1,390.8 L340.9,387.8 L344.7,384.4 L348.4,380.7 L352.2,376.6 L356.0,372.1 L359.8,367.3 L363.6,362.1 L367.4,356.6 L371.2,350.7 L375.0,344.5 M265.0,407.5 L268.8,408.3 L272.6,408.9 L276.4,409.3 L280.2,409.5 L284.0,409.6 L287.8,409.4 L291.6,409.1 L295.3,408.7 L299.1,408.1 L302.9,407.4 L306.7,406.6 L310.5,405.6 L314.3,404.6 L318.1,403.4 L321.9,402.1 L325.7,400.7 L329.5,399.1 L333.3,397.4 L337.1,395.6 L340.9,393.6 L344.7,391.4 L348.4,389.0 L352.2,386.6 L356.0,384.0 L359.8,381.4 L363.6,378.7 L367.4,376.0 L371.2,373.4 L375.0,370.7 M265.0,403.5 L268.8,406.7 L272.6,409.1 L276.4,411.0 L280.2,412.3 L284.0,413.0 L287.8,413.3 L291.6,413.2 L295.3,412.7 L299.1,412.0 L302.9,410.9 L306.7,409.7 L310.5,408.3 L314.3,406.8 L318.1,405.3 L321.9,403.7 L325.7,402.1 L329.5,400.6 L333.3,399.1 L337.1,397.8 L340.9,396.5 L344.7,395.5 L348.4,394.7 L352.2,394.3 L356.0,394.2 L359.8,394.5 L363.6,395.4 L367.4,396.9 L371.2,399.0 L375.0,401.9 M265.0,376.3 L268.8,379.3 L272.6,382.2 L276.4,385.0 L280.2,387.7 L284.0,390.4 L287.8,392.9 L291.6,395.4 L295.3,397.8 L299.1,400.2 L302.9,402.5 L306.7,404.7 L310.5,406.9 L314.3,409.1 L318.1,411.2 L321.9,413.2 L325.7,415.1 L329.5,417.0 L333.3,418.7 L337.1,420.3 L340.9,421.2 L344.7,421.2 L348.4,421.2 L352.2,421.2 L356.0,421.2 L359.8,421.2 L363.6,421.2 L367.4,421.2 L371.2,421.2 L375.0,421.2" fill="none" stroke="#f07878" stroke-opacity="0.21" stroke-width="1.3"/>
<line x1="265.00" y1="420.80" x2="375.00" y2="420.80" stroke="#e87878" stroke-width="1.3" />
<path d="M265.0,421.2 L268.8,421.2 L272.6,421.2 L276.4,420.8 L280.2,420.1 L284.0,419.3 L287.8,418.5 L291.6,417.6 L295.3,416.7 L299.1,415.7 L302.9,414.7 L306.7,413.6 L310.5,412.4 L314.3,411.1 L318.1,409.8 L321.9,408.3 L325.7,406.8 L329.5,405.2 L333.3,403.4 L337.1,401.6 L340.9,399.8 L344.7,397.8 L348.4,395.9 L352.2,393.8 L356.0,391.8 L359.8,389.7 L363.6,387.5 L367.4,385.4 L371.2,383.2 L375.0,381.0 M265.0,411.6 L268.8,411.1 L272.6,410.6 L276.4,410.0 L280.2,409.5 L284.0,408.9 L287.8,408.3 L291.6,407.6 L295.3,406.9 L299.1,406.1 L302.9,405.3 L306.7,404.4 L310.5,403.4 L314.3,402.3 L318.1,401.1 L321.9,399.9 L325.7,398.5 L329.5,397.1 L333.3,395.6 L337.1,394.0 L340.9,392.3 L344.7,390.6 L348.4,388.8 L352.2,387.0 L356.0,385.1 L359.8,383.2 L363.6,381.2 L367.4,379.3 L371.2,377.3 L375.0,375.3 M265.0,420.4 L268.8,419.7 L272.6,419.0 L276.4,418.3 L280.2,417.6 L284.0,416.9 L287.8,416.1 L291.6,415.3 L295.3,414.4 L299.1,413.5 L302.9,412.5 L306.7,411.4 L310.5,410.3 L314.3,409.1 L318.1,407.8 L321.9,406.4 L325.7,404.9 L329.5,403.3 L333.3,401.6 L337.1,399.8 L340.9,398.0 L344.7,396.1 L348.4,394.2 L352.2,392.2 L356.0,390.2 L359.8,388.1 L363.6,386.0 L367.4,383.9 L371.2,381.8 L375.0,379.7 M265.0,414.9 L268.8,414.3 L272.6,413.7 L276.4,413.1 L280.2,412.5 L284.0,411.9 L287.8,411.2 L291.6,410.5 L295.3,409.7 L299.1,408.8 L302.9,408.0 L306.7,407.0 L310.5,406.0 L314.3,404.8 L318.1,403.6 L321.9,402.3 L325.7,400.9 L329.5,399.4 L333.3,397.8 L337.1,396.2 L340.9,394.5 L344.7,392.7 L348.4,390.8 L352.2,388.9 L356.0,387.0 L359.8,385.0 L363.6,383.0 L367.4,381.0 L371.2,379.0 L375.0,377.0 M265.0,421.2 L268.8,421.2 L272.6,421.2 L276.4,421.2 L280.2,421.1 L284.0,420.3 L287.8,419.4 L291.6,418.5 L295.3,417.6 L299.1,416.6 L302.9,415.6 L306.7,414.4 L310.5,413.3 L314.3,412.0 L318.1,410.6 L321.9,409.1 L325.7,407.6 L329.5,405.9 L333.3,404.2 L337.1,402.4 L340.9,400.5 L344.7,398.5 L348.4,396.5 L352.2,394.5 L356.0,392.4 L359.8,390.3 L363.6,388.1 L367.4,385.9 L371.2,383.7 L375.0,381.6" fill="none" stroke="#a8c4f0" stroke-opacity="0.3" stroke-width="1.3"/>
<path d="M265.00,405.60 L266.86,405.61 L268.73,405.62 L270.59,405.63 L272.46,405.64 L274.32,405.65 L276.19,405.66 L278.05,405.67 L279.92,405.68 L281.78,405.69 L283.64,405.70 L285.51,405.70 L287.37,405.71 L289.24,405.72 L291.10,405.73 L292.97,405.74 L294.83,405.75 L296.69,405.75 L298.56,405.76 L300.42,405.77 L302.29,405.78 L304.15,405.78 L306.02,405.79 L307.88,405.80 L309.75,405.80 L311.61,405.81 L313.47,405.81 L315.34,405.81 L317.20,405.79 L319.07,405.77 L320.93,405.74 L322.80,405.70 L324.66,405.64 L326.53,405.56 L328.39,405.47 L330.25,405.35 L332.12,405.21 L333.98,405.05 L335.85,404.85 L337.71,404.63 L339.58,404.38 L341.44,404.09 L343.31,403.77 L345.17,403.42 L347.03,403.03 L348.90,402.61 L350.76,402.16 L352.63,401.69 L354.49,401.19 L356.36,400.67 L358.22,400.13 L360.08,399.58 L361.95,399.00 L363.81,398.41 L365.68,397.81 L367.54,397.20 L369.41,396.58 L371.27,395.96 L373.14,395.33 L375.00,394.70" fill="none" stroke="#e8707a" stroke-width="1.8"/>
<path d="M265.00,418.40 L266.86,418.09 L268.73,417.77 L270.59,417.45 L272.46,417.13 L274.32,416.81 L276.19,416.48 L278.05,416.15 L279.92,415.81 L281.78,415.47 L283.64,415.12 L285.51,414.76 L287.37,414.39 L289.24,414.01 L291.10,413.62 L292.97,413.22 L294.83,412.81 L296.69,412.38 L298.56,411.94 L300.42,411.48 L302.29,411.01 L304.15,410.53 L306.02,410.02 L307.88,409.50 L309.75,408.96 L311.61,408.39 L313.47,407.81 L315.34,407.21 L317.20,406.58 L319.07,405.93 L320.93,405.26 L322.80,404.56 L324.66,403.84 L326.53,403.10 L328.39,402.34 L330.25,401.55 L332.12,400.75 L333.98,399.93 L335.85,399.09 L337.71,398.23 L339.58,397.35 L341.44,396.46 L343.31,395.56 L345.17,394.64 L347.03,393.71 L348.90,392.76 L350.76,391.81 L352.63,390.84 L354.49,389.86 L356.36,388.88 L358.22,387.88 L360.08,386.88 L361.95,385.87 L363.81,384.86 L365.68,383.84 L367.54,382.82 L369.41,381.79 L371.27,380.76 L373.14,379.73 L375.00,378.70" fill="none" stroke="#5b8ee6" stroke-width="2.0"/>
</g>
<line x1="260.90" y1="357.30" x2="260.90" y2="422.30" stroke="#111" stroke-width="1.1" />
<line x1="260.40" y1="421.80" x2="377.40" y2="421.80" stroke="#111" stroke-width="1.1" />
<line x1="258.60" y1="357.60" x2="260.90" y2="357.60" stroke="#222" stroke-width="0.7" />
<line x1="258.60" y1="421.20" x2="260.90" y2="421.20" stroke="#222" stroke-width="0.7" />
<line x1="265.00" y1="421.80" x2="265.00" y2="423.40" stroke="#222" stroke-width="0.6" />
<line x1="287.00" y1="421.80" x2="287.00" y2="423.40" stroke="#222" stroke-width="0.6" />
<line x1="309.00" y1="421.80" x2="309.00" y2="423.40" stroke="#222" stroke-width="0.6" />
<line x1="331.00" y1="421.80" x2="331.00" y2="423.40" stroke="#222" stroke-width="0.6" />
<line x1="353.00" y1="421.80" x2="353.00" y2="423.40" stroke="#222" stroke-width="0.6" />
<line x1="375.00" y1="421.80" x2="375.00" y2="423.40" stroke="#222" stroke-width="0.6" />
<text x="258.10" y="360.90" text-anchor="end" textLength="12.80" lengthAdjust="spacingAndGlyphs" >3.5</text>
<text x="258.10" y="423.20" text-anchor="end" textLength="12.80" lengthAdjust="spacingAndGlyphs" >0.0</text>
<text x="259.50" y="345.50" textLength="117.20" lengthAdjust="spacingAndGlyphs" >Notch: MAML3 (EMD=0.256)</text>
<text x="320.50" y="432.80" text-anchor="middle" textLength="46.40" lengthAdjust="spacingAndGlyphs" >Pseudotime</text>
<clipPath id="clip3"><rect x="410.4" y="357.6" width="110.80000000000007" height="64.59999999999997"/></clipPath>
<g clip-path="url(#clip3)">
<path d="M410.9,365.8 L414.7,370.7 L418.5,375.0 L422.3,378.7 L426.0,381.9 L429.8,384.7 L433.6,387.0 L437.4,389.0 L441.2,390.5 L445.0,391.8 L448.8,392.7 L452.5,393.4 L456.3,393.8 L460.1,393.9 L463.9,393.8 L467.7,393.4 L471.5,392.8 L475.3,392.0 L479.1,391.0 L482.8,389.9 L486.6,388.6 L490.4,387.1 L494.2,385.6 L498.0,384.0 L501.8,382.3 L505.6,380.6 L509.3,379.0 L513.1,377.6 L516.9,376.3 L520.7,375.4 M410.9,365.2 L414.7,370.4 L418.5,375.1 L422.3,379.5 L426.0,383.5 L429.8,387.1 L433.6,390.4 L437.4,393.4 L441.2,396.0 L445.0,398.3 L448.8,400.3 L452.5,402.0 L456.3,403.4 L460.1,404.4 L463.9,405.1 L467.7,405.4 L471.5,405.4 L475.3,405.0 L479.1,404.3 L482.8,403.2 L486.6,401.6 L490.4,399.8 L494.2,397.5 L498.0,394.9 L501.8,391.9 L505.6,388.5 L509.3,384.9 L513.1,381.1 L516.9,377.0 L520.7,372.8 M410.9,407.9 L414.7,408.1 L418.5,408.1 L422.3,408.0 L426.0,407.7 L429.8,407.4 L433.6,406.9 L437.4,406.3 L441.2,405.6 L445.0,404.8 L448.8,403.9 L452.5,402.9 L456.3,401.8 L460.1,400.6 L463.9,399.2 L467.7,397.7 L471.5,396.1 L475.3,394.2 L479.1,392.2 L482.8,389.9 L486.6,387.5 L490.4,384.9 L494.2,382.1 L498.0,379.1 L501.8,375.9 L505.6,372.5 L509.3,369.0 L513.1,365.4 L516.9,361.8 L520.7,358.2 M410.9,411.5 L414.7,409.4 L418.5,407.8 L422.3,406.5 L426.0,405.6 L429.8,405.1 L433.6,404.9 L437.4,405.0 L441.2,405.4 L445.0,406.0 L448.8,406.7 L452.5,407.7 L456.3,408.7 L460.1,409.8 L463.9,410.8 L467.7,411.8 L471.5,412.7 L475.3,413.4 L479.1,413.9 L482.8,414.2 L486.6,414.1 L490.4,413.7 L494.2,412.9 L498.0,411.7 L501.8,410.1 L505.6,408.0 L509.3,405.4 L513.1,402.3 L516.9,398.8 L520.7,394.9 M410.9,389.6 L414.7,390.5 L418.5,391.4 L422.3,392.1 L426.0,392.7 L429.8,393.2 L433.6,393.6 L437.4,394.0 L441.2,394.3 L445.0,394.5 L448.8,394.8 L452.5,395.0 L456.3,395.2 L460.1,395.3 L463.9,395.4 L467.7,395.4 L471.5,395.3 L475.3,395.1 L479.1,394.9 L482.8,394.6 L486.6,394.2 L490.4,393.8 L494.2,393.2 L498.0,392.6 L501.8,391.9 L505.6,391.3 L509.3,390.6 L513.1,390.0 L516.9,389.5 L520.7,389.2 M410.9,405.7 L414.7,404.1 L418.5,402.7 L422.3,401.6 L426.0,400.8 L429.8,400.1 L433.6,399.6 L437.4,399.2 L441.2,399.0 L445.0,399.0 L448.8,399.1 L452.5,399.2 L456.3,399.3 L460.1,399.5 L463.9,399.6 L467.7,399.7 L471.5,399.6 L475.3,399.4 L479.1,398.9 L482.8,398.3 L486.6,397.4 L490.4,396.2 L494.2,394.7 L498.0,392.9 L501.8,390.8 L505.6,388.2 L509.3,385.4 L513.1,382.2 L516.9,378.8 L520.7,375.0 M410.9,421.2 L414.7,421.2 L418.5,420.1 L422.3,418.6 L426.0,417.1 L429.8,415.5 L433.6,413.8 L437.4,412.2 L441.2,410.4 L445.0,408.7 L448.8,407.0 L452.5,405.3 L456.3,403.6 L460.1,401.8 L463.9,400.0 L467.7,398.2 L471.5,396.3 L475.3,394.4 L479.1,392.4 L482.8,390.3 L486.6,388.1 L490.4,385.9 L494.2,383.6 L498.0,381.3 L501.8,378.9 L505.6,376.5 L509.3,374.1 L513.1,371.8 L516.9,369.6 L520.7,367.6 M410.9,379.0 L414.7,383.7 L418.5,388.0 L422.3,391.8 L426.0,395.2 L429.8,398.2 L433.6,400.7 L437.4,403.0 L441.2,404.9 L445.0,406.5 L448.8,407.9 L452.5,409.1 L456.3,410.1 L460.1,410.8 L463.9,411.3 L467.7,411.7 L471.5,411.9 L475.3,411.9 L479.1,411.8 L482.8,411.5 L486.6,411.1 L490.4,410.7 L494.2,410.2 L498.0,409.6 L501.8,409.1 L505.6,408.6 L509.3,408.2 L513.1,407.9 L516.9,408.0 L520.7,408.3 M410.9,397.0 L414.7,400.0 L418.5,402.6 L422.3,404.7 L426.0,406.5 L429.8,408.0 L433.6,409.2 L437.4,410.1 L441.2,410.8 L445.0,411.3 L448.8,411.6 L452.5,411.8 L456.3,411.8 L460.1,411.7 L463.9,411.4 L467.7,411.1 L471.5,410.6 L475.3,410.0 L479.1,409.4 L482.8,408.6 L486.6,407.9 L490.4,407.1 L494.2,406.3 L498.0,405.5 L501.8,404.8 L505.6,404.2 L509.3,403.8 L513.1,403.5 L516.9,403.6 L520.7,404.1 M410.9,360.0 L414.7,364.3 L418.5,368.4 L422.3,372.1 L426.0,375.7 L429.8,379.0 L433.6,382.2 L437.4,385.1 L441.2,387.9 L445.0,390.6 L448.8,393.1 L452.5,395.5 L456.3,397.7 L460.1,399.8 L463.9,401.7 L467.7,403.5 L471.5,405.1 L475.3,406.5 L479.1,407.8 L482.8,408.9 L486.6,409.8 L490.4,410.6 L494.2,411.3 L498.0,411.8 L501.8,412.2 L505.6,412.4 L509.3,412.7 L513.1,412.9 L516.9,413.3 L520.7,413.7 M410.9,396.1 L414.7,396.2 L418.5,396.3 L422.3,396.5 L426.0,396.8 L429.8,397.1 L433.6,397.4 L437.4,397.7 L441.2,398.0 L445.0,398.3 L448.8,398.5 L452.5,398.6 L456.3,398.6 L460.1,398.5 L463.9,398.1 L467.7,397.4 L471.5,396.5 L475.3,395.2 L479.1,393.6 L482.8,391.6 L486.6,389.1 L490.4,386.2 L494.2,382.8 L498.0,378.9 L501.8,374.4 L505.6,369.4 L509.3,363.9 L513.1,357.9 L516.9,351.4 L520.7,344.4 M410.9,421.2 L414.7,421.2 L418.5,421.2 L422.3,421.2 L426.0,421.2 L429.8,421.2 L433.6,421.2 L437.4,419.7 L441.2,417.8 L445.0,416.1 L448.8,414.5 L452.5,413.2 L456.3,411.9 L460.1,410.7 L463.9,409.6 L467.7,408.5 L471.5,407.4 L475.3,406.2 L479.1,405.0 L482.8,403.7 L486.6,402.2 L490.4,400.6 L494.2,398.8 L498.0,396.8 L501.8,394.7 L505.6,392.3 L509.3,389.7 L513.1,387.0 L516.9,384.2 L520.7,381.2 M410.9,420.8 L414.7,417.7 L418.5,415.0 L422.3,412.5 L426.0,410.4 L429.8,408.5 L433.6,406.9 L437.4,405.4 L441.2,404.2 L445.0,403.0 L448.8,402.0 L452.5,401.1 L456.3,400.1 L460.1,399.2 L463.9,398.1 L467.7,396.9 L471.5,395.5 L475.3,393.8 L479.1,391.9 L482.8,389.6 L486.6,386.9 L490.4,383.8 L494.2,380.3 L498.0,376.2 L501.8,371.7 L505.6,366.6 L509.3,360.9 L513.1,354.7 L516.9,348.0 L520.7,340.8 M410.9,397.5 L414.7,397.7 L418.5,398.0 L422.3,398.4 L426.0,398.8 L429.8,399.2 L433.6,399.7 L437.4,400.3 L441.2,400.8 L445.0,401.5 L448.8,402.1 L452.5,402.8 L456.3,403.5 L460.1,404.1 L463.9,404.6 L467.7,405.1 L471.5,405.5 L475.3,405.7 L479.1,405.8 L482.8,405.7 L486.6,405.4 L490.4,405.0 L494.2,404.3 L498.0,403.4 L501.8,402.3 L505.6,400.9 L509.3,399.4 L513.1,397.7 L516.9,395.9 L520.7,394.1 M410.9,421.2 L414.7,421.2 L418.5,421.2 L422.3,421.2 L426.0,420.6 L429.8,418.3 L433.6,416.2 L437.4,414.1 L441.2,412.2 L445.0,410.3 L448.8,408.5 L452.5,406.8 L456.3,405.0 L460.1,403.3 L463.9,401.4 L467.7,399.5 L471.5,397.4 L475.3,395.1 L479.1,392.6 L482.8,389.9 L486.6,386.9 L490.4,383.6 L494.2,380.0 L498.0,376.1 L501.8,371.8 L505.6,367.2 L509.3,362.3 L513.1,357.0 L516.9,351.4 L520.7,345.6 M410.9,382.7 L414.7,385.5 L418.5,388.1 L422.3,390.4 L426.0,392.4 L429.8,394.3 L433.6,395.9 L437.4,397.3 L441.2,398.5 L445.0,399.4 L448.8,400.2 L452.5,400.6 L456.3,400.9 L460.1,400.8 L463.9,400.5 L467.7,399.8 L471.5,398.9 L475.3,397.5 L479.1,395.8 L482.8,393.8 L486.6,391.3 L490.4,388.5 L494.2,385.2 L498.0,381.5 L501.8,377.5 L505.6,373.0 L509.3,368.2 L513.1,363.1 L516.9,357.7 L520.7,352.0 M410.9,415.4 L414.7,412.4 L418.5,409.8 L422.3,407.6 L426.0,405.7 L429.8,404.1 L433.6,402.8 L437.4,401.8 L441.2,401.0 L445.0,400.4 L448.8,400.0 L452.5,399.8 L456.3,399.7 L460.1,399.6 L463.9,399.6 L467.7,399.5 L471.5,399.4 L475.3,399.2 L479.1,398.8 L482.8,398.2 L486.6,397.3 L490.4,396.3 L494.2,394.9 L498.0,393.2 L501.8,391.1 L505.6,388.7 L509.3,386.0 L513.1,382.9 L516.9,379.4 L520.7,375.7 M410.9,377.1 L414.7,379.7 L418.5,382.3 L422.3,384.8 L426.0,387.3 L429.8,389.6 L433.6,391.9 L437.4,394.1 L441.2,396.1 L445.0,398.1 L448.8,399.9 L452.5,401.5 L456.3,402.9 L460.1,404.1 L463.9,405.1 L467.7,405.7 L471.5,406.0 L475.3,406.0 L479.1,405.5 L482.8,404.6 L486.6,403.3 L490.4,401.6 L494.2,399.3 L498.0,396.6 L501.8,393.4 L505.6,389.6 L509.3,385.3 L513.1,380.6 L516.9,375.5 L520.7,369.9 M410.9,395.0 L414.7,397.3 L418.5,399.3 L422.3,400.9 L426.0,402.2 L429.8,403.3 L433.6,404.1 L437.4,404.6 L441.2,404.9 L445.0,405.0 L448.8,404.9 L452.5,404.6 L456.3,404.1 L460.1,403.4 L463.9,402.5 L467.7,401.3 L471.5,400.0 L475.3,398.4 L479.1,396.6 L482.8,394.5 L486.6,392.3 L490.4,389.8 L494.2,387.1 L498.0,384.2 L501.8,381.1 L505.6,377.9 L509.3,374.6 L513.1,371.2 L516.9,367.9 L520.7,364.5 M410.9,421.2 L414.7,421.2 L418.5,421.2 L422.3,421.0 L426.0,419.1 L429.8,417.3 L433.6,415.5 L437.4,413.8 L441.2,412.2 L445.0,410.7 L448.8,409.2 L452.5,407.9 L456.3,406.6 L460.1,405.3 L463.9,404.0 L467.7,402.8 L471.5,401.5 L475.3,400.3 L479.1,398.9 L482.8,397.6 L486.6,396.2 L490.4,394.7 L494.2,393.2 L498.0,391.6 L501.8,389.9 L505.6,388.2 L509.3,386.6 L513.1,384.9 L516.9,383.3 L520.7,381.9 M410.9,406.2 L414.7,406.4 L418.5,406.6 L422.3,406.7 L426.0,406.9 L429.8,407.0 L433.6,407.1 L437.4,407.2 L441.2,407.4 L445.0,407.5 L448.8,407.6 L452.5,407.8 L456.3,407.9 L460.1,407.9 L463.9,407.9 L467.7,407.8 L471.5,407.6 L475.3,407.3 L479.1,406.9 L482.8,406.3 L486.6,405.6 L490.4,404.7 L494.2,403.6 L498.0,402.4 L501.8,401.0 L505.6,399.4 L509.3,397.7 L513.1,396.0 L516.9,394.2 L520.7,392.4 M410.9,419.5 L414.7,417.8 L418.5,416.0 L422.3,414.3 L426.0,412.6 L429.8,411.0 L433.6,409.5 L437.4,408.0 L441.2,406.5 L445.0,405.2 L448.8,403.9 L452.5,402.6 L456.3,401.4 L460.1,400.3 L463.9,399.1 L467.7,397.9 L471.5,396.7 L475.3,395.4 L479.1,394.1 L482.8,392.7 L486.6,391.2 L490.4,389.7 L494.2,388.0 L498.0,386.3 L501.8,384.4 L505.6,382.5 L509.3,380.6 L513.1,378.6 L516.9,376.7 L520.7,374.9 M410.9,388.8 L414.7,390.8 L418.5,392.6 L422.3,394.3 L426.0,395.8 L429.8,397.2 L433.6,398.5 L437.4,399.7 L441.2,400.7 L445.0,401.6 L448.8,402.4 L452.5,402.9 L456.3,403.4 L460.1,403.6 L463.9,403.5 L467.7,403.3 L471.5,402.7 L475.3,401.9 L479.1,400.7 L482.8,399.2 L486.6,397.4 L490.4,395.2 L494.2,392.6 L498.0,389.7 L501.8,386.4 L505.6,382.7 L509.3,378.7 L513.1,374.4 L516.9,369.8 L520.7,365.0 M410.9,380.3 L414.7,380.8 L418.5,381.4 L422.3,382.2 L426.0,383.2 L429.8,384.2 L433.6,385.5 L437.4,386.8 L441.2,388.2 L445.0,389.7 L448.8,391.3 L452.5,393.0 L456.3,394.6 L460.1,396.3 L463.9,397.9 L467.7,399.4 L471.5,400.7 L475.3,402.0 L479.1,403.0 L482.8,403.9 L486.6,404.5 L490.4,404.8 L494.2,404.9 L498.0,404.7 L501.8,404.2 L505.6,403.3 L509.3,402.2 L513.1,400.9 L516.9,399.2 L520.7,397.4 M410.9,411.8 L414.7,411.0 L418.5,410.3 L422.3,409.7 L426.0,409.1 L429.8,408.6 L433.6,408.1 L437.4,407.7 L441.2,407.4 L445.0,407.0 L448.8,406.7 L452.5,406.4 L456.3,406.1 L460.1,405.7 L463.9,405.2 L467.7,404.6 L471.5,403.8 L475.3,402.9 L479.1,401.8 L482.8,400.4 L486.6,398.9 L490.4,397.0 L494.2,394.9 L498.0,392.5 L501.8,389.8 L505.6,386.8 L509.3,383.5 L513.1,380.0 L516.9,376.3 L520.7,372.4 M410.9,378.9 L414.7,382.5 L418.5,385.7 L422.3,388.5 L426.0,391.0 L429.8,393.2 L433.6,395.1 L437.4,396.7 L441.2,398.0 L445.0,399.1 L448.8,399.9 L452.5,400.5 L456.3,400.8 L460.1,400.9 L463.9,400.7 L467.7,400.3 L471.5,399.5 L475.3,398.5 L479.1,397.3 L482.8,395.7 L486.6,393.9 L490.4,391.8 L494.2,389.4 L498.0,386.8 L501.8,383.9 L505.6,380.9 L509.3,377.6 L513.1,374.3 L516.9,370.9 L520.7,367.5 M410.9,362.8 L414.7,366.5 L418.5,370.1 L422.3,373.7 L426.0,377.1 L429.8,380.5 L433.6,383.7 L437.4,386.9 L441.2,390.0 L445.0,392.9 L448.8,395.8 L452.5,398.5 L456.3,401.0 L460.1,403.4 L463.9,405.5 L467.7,407.4 L471.5,409.1 L475.3,410.4 L479.1,411.5 L482.8,412.2 L486.6,412.6 L490.4,412.6 L494.2,412.3 L498.0,411.6 L501.8,410.4 L505.6,409.0 L509.3,407.1 L513.1,405.0 L516.9,402.5 L520.7,399.8 M410.9,371.8 L414.7,376.2 L418.5,380.3 L422.3,384.1 L426.0,387.6 L429.8,390.9 L433.6,393.8 L437.4,396.5 L441.2,398.9 L445.0,401.1 L448.8,403.1 L452.5,404.8 L456.3,406.3 L460.1,407.5 L463.9,408.4 L467.7,409.1 L471.5,409.4 L475.3,409.5 L479.1,409.2 L482.8,408.6 L486.6,407.7 L490.4,406.5 L494.2,404.9 L498.0,403.0 L501.8,400.9 L505.6,398.4 L509.3,395.7 L513.1,392.8 L516.9,389.8 L520.7,386.6 M410.9,403.1 L414.7,405.0 L418.5,406.6 L422.3,407.9 L426.0,408.9 L429.8,409.7 L433.6,410.1 L437.4,410.3 L441.2,410.2 L445.0,409.9 L448.8,409.3 L452.5,408.5 L456.3,407.4 L460.1,406.1 L463.9,404.5 L467.7,402.6 L471.5,400.4 L475.3,397.8 L479.1,395.0 L482.8,391.8 L486.6,388.4 L490.4,384.5 L494.2,380.4 L498.0,376.0 L501.8,371.2 L505.6,366.1 L509.3,360.8 L513.1,355.3 L516.9,349.7 L520.7,343.9 M410.9,388.0 L414.7,389.4 L418.5,390.7 L422.3,392.0 L426.0,393.2 L429.8,394.5 L433.6,395.7 L437.4,396.8 L441.2,398.0 L445.0,399.0 L448.8,400.1 L452.5,401.0 L456.3,401.9 L460.1,402.6 L463.9,403.2 L467.7,403.6 L471.5,403.8 L475.3,403.8 L479.1,403.5 L482.8,403.0 L486.6,402.2 L490.4,401.1 L494.2,399.7 L498.0,398.0 L501.8,396.0 L505.6,393.7 L509.3,391.1 L513.1,388.2 L516.9,385.1 L520.7,381.8 M410.9,373.4 L414.7,375.7 L418.5,377.9 L422.3,380.2 L426.0,382.5 L429.8,384.7 L433.6,387.0 L437.4,389.3 L441.2,391.5 L445.0,393.8 L448.8,396.0 L452.5,398.2 L456.3,400.4 L460.1,402.4 L463.9,404.4 L467.7,406.3 L471.5,408.1 L475.3,409.6 L479.1,411.1 L482.8,412.3 L486.6,413.3 L490.4,414.1 L494.2,414.7 L498.0,415.0 L501.8,415.1 L505.6,415.0 L509.3,414.7 L513.1,414.3 L516.9,413.7 L520.7,413.1 M410.9,399.4 L414.7,398.1 L418.5,397.0 L422.3,396.1 L426.0,395.5 L429.8,395.0 L433.6,394.7 L437.4,394.5 L441.2,394.4 L445.0,394.5 L448.8,394.6 L452.5,394.7 L456.3,394.9 L460.1,395.0 L463.9,395.0 L467.7,394.8 L471.5,394.5 L475.3,394.0 L479.1,393.3 L482.8,392.2 L486.6,390.9 L490.4,389.2 L494.2,387.1 L498.0,384.6 L501.8,381.7 L505.6,378.3 L509.3,374.5 L513.1,370.3 L516.9,365.8 L520.7,360.8 M410.9,410.1 L414.7,408.1 L418.5,406.4 L422.3,404.9 L426.0,403.6 L429.8,402.5 L433.6,401.6 L437.4,400.9 L441.2,400.3 L445.0,399.9 L448.8,399.6 L452.5,399.4 L456.3,399.2 L460.1,399.0 L463.9,398.8 L467.7,398.4 L471.5,398.0 L475.3,397.5 L479.1,396.7 L482.8,395.7 L486.6,394.5 L490.4,393.0 L494.2,391.1 L498.0,389.0 L501.8,386.5 L505.6,383.6 L509.3,380.4 L513.1,376.9 L516.9,373.1 L520.7,369.0 M410.9,378.7 L414.7,381.0 L418.5,383.0 L422.3,384.9 L426.0,386.6 L429.8,388.1 L433.6,389.5 L437.4,390.7 L441.2,391.8 L445.0,392.8 L448.8,393.8 L452.5,394.6 L456.3,395.3 L460.1,395.8 L463.9,396.3 L467.7,396.6 L471.5,396.9 L475.3,396.9 L479.1,396.9 L482.8,396.7 L486.6,396.3 L490.4,395.9 L494.2,395.3 L498.0,394.6 L501.8,393.7 L505.6,392.9 L509.3,392.0 L513.1,391.1 L516.9,390.3 L520.7,389.6 M410.9,415.6 L414.7,414.5 L418.5,413.4 L422.3,412.4 L426.0,411.4 L429.8,410.5 L433.6,409.6 L437.4,408.8 L441.2,408.1 L445.0,407.3 L448.8,406.7 L452.5,406.0 L456.3,405.4 L460.1,404.8 L463.9,404.1 L467.7,403.4 L471.5,402.5 L475.3,401.6 L479.1,400.6 L482.8,399.4 L486.6,398.1 L490.4,396.7 L494.2,395.1 L498.0,393.3 L501.8,391.3 L505.6,389.2 L509.3,387.0 L513.1,384.6 L516.9,382.2 L520.7,379.8 M410.9,338.9 L414.7,343.6 L418.5,348.4 L422.3,353.2 L426.0,357.9 L429.8,362.7 L433.6,367.5 L437.4,372.2 L441.2,376.9 L445.0,381.4 L448.8,385.9 L452.5,390.2 L456.3,394.3 L460.1,398.2 L463.9,401.8 L467.7,405.0 L471.5,407.9 L475.3,410.5 L479.1,412.5 L482.8,414.1 L486.6,415.2 L490.4,415.7 L494.2,415.7 L498.0,415.1 L501.8,413.8 L505.6,411.9 L509.3,409.4 L513.1,406.3 L516.9,402.7 L520.7,398.4 M410.9,387.7 L414.7,390.7 L418.5,393.4 L422.3,395.8 L426.0,398.0 L429.8,400.0 L433.6,401.7 L437.4,403.2 L441.2,404.6 L445.0,405.7 L448.8,406.6 L452.5,407.4 L456.3,408.0 L460.1,408.3 L463.9,408.5 L467.7,408.4 L471.5,408.1 L475.3,407.6 L479.1,406.8 L482.8,405.8 L486.6,404.5 L490.4,403.0 L494.2,401.3 L498.0,399.3 L501.8,397.1 L505.6,394.7 L509.3,392.2 L513.1,389.6 L516.9,386.9 L520.7,384.1 M410.9,384.3 L414.7,386.0 L418.5,387.7 L422.3,389.4 L426.0,391.0 L429.8,392.6 L433.6,394.2 L437.4,395.8 L441.2,397.4 L445.0,399.0 L448.8,400.5 L452.5,402.0 L456.3,403.5 L460.1,404.9 L463.9,406.1 L467.7,407.3 L471.5,408.4 L475.3,409.3 L479.1,410.0 L482.8,410.5 L486.6,410.9 L490.4,411.0 L494.2,411.0 L498.0,410.7 L501.8,410.2 L505.6,409.5 L509.3,408.6 L513.1,407.6 L516.9,406.5 L520.7,405.4 M410.9,387.3 L414.7,389.4 L418.5,391.4 L422.3,393.4 L426.0,395.3 L429.8,397.2 L433.6,399.0 L437.4,400.7 L441.2,402.3 L445.0,403.8 L448.8,405.2 L452.5,406.4 L456.3,407.5 L460.1,408.3 L463.9,408.9 L467.7,409.3 L471.5,409.3 L475.3,409.0 L479.1,408.4 L482.8,407.3 L486.6,405.9 L490.4,404.0 L494.2,401.7 L498.0,398.9 L501.8,395.6 L505.6,391.9 L509.3,387.7 L513.1,383.2 L516.9,378.2 L520.7,372.8 M410.9,413.5 L414.7,414.1 L418.5,414.5 L422.3,414.8 L426.0,414.8 L429.8,414.7 L433.6,414.5 L437.4,414.1 L441.2,413.6 L445.0,413.0 L448.8,412.2 L452.5,411.4 L456.3,410.4 L460.1,409.3 L463.9,408.1 L467.7,406.7 L471.5,405.1 L475.3,403.4 L479.1,401.5 L482.8,399.4 L486.6,397.2 L490.4,394.7 L494.2,392.1 L498.0,389.3 L501.8,386.4 L505.6,383.3 L509.3,380.1 L513.1,376.9 L516.9,373.6 L520.7,370.4 M410.9,388.1 L414.7,390.9 L418.5,393.4 L422.3,395.7 L426.0,397.8 L429.8,399.6 L433.6,401.3 L437.4,402.8 L441.2,404.0 L445.0,405.2 L448.8,406.1 L452.5,406.9 L456.3,407.5 L460.1,407.9 L463.9,408.1 L467.7,408.1 L471.5,407.9 L475.3,407.5 L479.1,406.8 L482.8,405.9 L486.6,404.7 L490.4,403.3 L494.2,401.7 L498.0,399.8 L501.8,397.7 L505.6,395.4 L509.3,392.9 L513.1,390.3 L516.9,387.7 L520.7,385.0 M410.9,384.9 L414.7,386.6 L418.5,388.2 L422.3,389.6 L426.0,391.0 L429.8,392.2 L433.6,393.3 L437.4,394.3 L441.2,395.2 L445.0,396.1 L448.8,396.9 L452.5,397.6 L456.3,398.3 L460.1,398.8 L463.9,399.2 L467.7,399.5 L471.5,399.7 L475.3,399.7 L479.1,399.6 L482.8,399.3 L486.6,398.8 L490.4,398.1 L494.2,397.3 L498.0,396.4 L501.8,395.2 L505.6,394.0 L509.3,392.6 L513.1,391.2 L516.9,389.8 L520.7,388.4 M410.9,396.6 L414.7,397.0 L418.5,397.3 L422.3,397.5 L426.0,397.6 L429.8,397.5 L433.6,397.3 L437.4,397.1 L441.2,396.8 L445.0,396.4 L448.8,396.0 L452.5,395.5 L456.3,394.9 L460.1,394.2 L463.9,393.4 L467.7,392.5 L471.5,391.5 L475.3,390.4 L479.1,389.1 L482.8,387.7 L486.6,386.1 L490.4,384.4 L494.2,382.5 L498.0,380.5 L501.8,378.4 L505.6,376.2 L509.3,373.9 L513.1,371.6 L516.9,369.3 L520.7,367.1 M410.9,364.2 L414.7,367.7 L418.5,371.0 L422.3,374.1 L426.0,377.1 L429.8,379.8 L433.6,382.4 L437.4,384.9 L441.2,387.2 L445.0,389.4 L448.8,391.4 L452.5,393.3 L456.3,395.0 L460.1,396.5 L463.9,397.9 L467.7,399.0 L471.5,399.9 L475.3,400.6 L479.1,401.0 L482.8,401.2 L486.6,401.1 L490.4,400.8 L494.2,400.2 L498.0,399.3 L501.8,398.2 L505.6,396.8 L509.3,395.2 L513.1,393.5 L516.9,391.6 L520.7,389.7 M410.9,400.7 L414.7,400.4 L418.5,400.2 L422.3,400.2 L426.0,400.3 L429.8,400.5 L433.6,400.8 L437.4,401.2 L441.2,401.6 L445.0,402.0 L448.8,402.4 L452.5,402.8 L456.3,403.0 L460.1,403.1 L463.9,403.1 L467.7,402.8 L471.5,402.3 L475.3,401.4 L479.1,400.2 L482.8,398.6 L486.6,396.5 L490.4,394.0 L494.2,391.0 L498.0,387.5 L501.8,383.5 L505.6,378.9 L509.3,373.7 L513.1,368.0 L516.9,361.8 L520.7,355.1 M410.9,397.5 L414.7,397.8 L418.5,398.2 L422.3,398.7 L426.0,399.2 L429.8,399.7 L433.6,400.3 L437.4,400.9 L441.2,401.5 L445.0,402.1 L448.8,402.7 L452.5,403.2 L456.3,403.7 L460.1,404.0 L463.9,404.1 L467.7,404.1 L471.5,403.8 L475.3,403.3 L479.1,402.5 L482.8,401.3 L486.6,399.8 L490.4,398.0 L494.2,395.7 L498.0,393.1 L501.8,390.0 L505.6,386.5 L509.3,382.6 L513.1,378.3 L516.9,373.6 L520.7,368.6 M410.9,421.2 L414.7,421.2 L418.5,421.2 L422.3,421.2 L426.0,421.2 L429.8,419.8 L433.6,418.4 L437.4,416.9 L441.2,415.5 L445.0,414.0 L448.8,412.6 L452.5,411.1 L456.3,409.5 L460.1,407.9 L463.9,406.1 L467.7,404.3 L471.5,402.2 L475.3,400.0 L479.1,397.6 L482.8,394.9 L486.6,392.1 L490.4,388.9 L494.2,385.6 L498.0,381.9 L501.8,378.0 L505.6,373.8 L509.3,369.3 L513.1,364.7 L516.9,359.9 L520.7,354.9 M410.9,392.2 L414.7,392.5 L418.5,392.9 L422.3,393.5 L426.0,394.2 L429.8,395.0 L433.6,395.9 L437.4,397.0 L441.2,398.2 L445.0,399.4 L448.8,400.7 L452.5,402.1 L456.3,403.5 L460.1,404.8 L463.9,406.1 L467.7,407.3 L471.5,408.4 L475.3,409.3 L479.1,410.1 L482.8,410.6 L486.6,410.9 L490.4,411.0 L494.2,410.8 L498.0,410.2 L501.8,409.4 L505.6,408.3 L509.3,406.9 L513.1,405.3 L516.9,403.4 L520.7,401.3 M410.9,421.2 L414.7,421.2 L418.5,421.2 L422.3,421.2 L426.0,421.2 L429.8,420.1 L433.6,418.1 L437.4,416.4 L441.2,414.8 L445.0,413.4 L448.8,412.1 L452.5,410.8 L456.3,409.6 L460.1,408.3 L463.9,406.9 L467.7,405.4 L471.5,403.7 L475.3,401.8 L479.1,399.6 L482.8,397.1 L486.6,394.2 L490.4,390.8 L494.2,387.1 L498.0,382.9 L501.8,378.1 L505.6,372.8 L509.3,367.0 L513.1,360.7 L516.9,353.9 L520.7,346.6 M410.9,388.3 L414.7,390.0 L418.5,391.8 L422.3,393.6 L426.0,395.4 L429.8,397.1 L433.6,398.9 L437.4,400.6 L441.2,402.4 L445.0,404.0 L448.8,405.6 L452.5,407.1 L456.3,408.5 L460.1,409.7 L463.9,410.8 L467.7,411.6 L471.5,412.1 L475.3,412.4 L479.1,412.4 L482.8,412.0 L486.6,411.3 L490.4,410.2 L494.2,408.7 L498.0,406.7 L501.8,404.4 L505.6,401.6 L509.3,398.4 L513.1,394.8 L516.9,390.8 L520.7,386.5 M410.9,373.1 L414.7,377.0 L418.5,380.8 L422.3,384.2 L426.0,387.5 L429.8,390.4 L433.6,393.1 L437.4,395.5 L441.2,397.7 L445.0,399.6 L448.8,401.2 L452.5,402.5 L456.3,403.5 L460.1,404.2 L463.9,404.5 L467.7,404.3 L471.5,403.8 L475.3,402.8 L479.1,401.3 L482.8,399.4 L486.6,397.0 L490.4,394.0 L494.2,390.5 L498.0,386.5 L501.8,382.0 L505.6,376.9 L509.3,371.3 L513.1,365.3 L516.9,358.8 L520.7,351.9" fill="none" stroke="#f07878" stroke-opacity="0.21" stroke-width="1.3"/>
<line x1="410.90" y1="420.80" x2="520.70" y2="420.80" stroke="#e87878" stroke-width="1.3" />
<path d="M410.9,376.4 L414.7,375.0 L418.5,373.8 L422.3,372.7 L426.0,372.1 L429.8,371.9 L433.6,372.3 L437.4,373.1 L441.2,374.4 L445.0,376.0 L448.8,378.0 L452.5,380.2 L456.3,382.6 L460.1,385.1 L463.9,387.7 L467.7,390.3 L471.5,392.9 L475.3,395.5 L479.1,398.1 L482.8,400.7 L486.6,403.3 L490.4,405.9 L494.2,408.5 L498.0,411.1 L501.8,413.6 L505.6,415.9 L509.3,417.7 L513.1,418.6 L516.9,419.0 L520.7,419.0 M410.9,385.4 L414.7,383.9 L418.5,382.4 L422.3,381.3 L426.0,380.5 L429.8,380.1 L433.6,380.3 L437.4,381.0 L441.2,382.1 L445.0,383.6 L448.8,385.4 L452.5,387.4 L456.3,389.7 L460.1,392.1 L463.9,394.5 L467.7,397.0 L471.5,399.4 L475.3,401.9 L479.1,404.3 L482.8,406.8 L486.6,409.2 L490.4,411.7 L494.2,414.1 L498.0,416.5 L501.8,418.9 L505.6,421.0 L509.3,421.2 L513.1,421.2 L516.9,421.2 L520.7,421.2 M410.9,379.9 L414.7,378.4 L418.5,377.1 L422.3,376.0 L426.0,375.3 L429.8,375.1 L433.6,375.4 L437.4,376.2 L441.2,377.4 L445.0,379.0 L448.8,380.9 L452.5,383.0 L456.3,385.3 L460.1,387.8 L463.9,390.3 L467.7,392.9 L471.5,395.5 L475.3,398.0 L479.1,400.6 L482.8,403.1 L486.6,405.6 L490.4,408.2 L494.2,410.7 L498.0,413.2 L501.8,415.7 L505.6,417.9 L509.3,419.6 L513.1,420.5 L516.9,420.8 L520.7,420.7 M410.9,386.1 L414.7,384.6 L418.5,383.1 L422.3,381.9 L426.0,381.1 L429.8,380.8 L433.6,381.0 L437.4,381.7 L441.2,382.8 L445.0,384.2 L448.8,386.0 L452.5,388.0 L456.3,390.3 L460.1,392.6 L463.9,395.0 L467.7,397.5 L471.5,400.0 L475.3,402.4 L479.1,404.8 L482.8,407.3 L486.6,409.7 L490.4,412.1 L494.2,414.5 L498.0,416.9 L501.8,419.3 L505.6,421.2 L509.3,421.2 L513.1,421.2 L516.9,421.2 L520.7,421.2 M410.9,386.9 L414.7,385.4 L418.5,383.9 L422.3,382.7 L426.0,381.9 L429.8,381.5 L433.6,381.7 L437.4,382.4 L441.2,383.5 L445.0,384.9 L448.8,386.7 L452.5,388.7 L456.3,390.9 L460.1,393.2 L463.9,395.7 L467.7,398.1 L471.5,400.5 L475.3,403.0 L479.1,405.4 L482.8,407.8 L486.6,410.2 L490.4,412.6 L494.2,415.0 L498.0,417.4 L501.8,419.8 L505.6,421.2 L509.3,421.2 L513.1,421.2 L516.9,421.2 L520.7,421.2" fill="none" stroke="#a8c4f0" stroke-opacity="0.3" stroke-width="1.3"/>
<path d="M410.90,395.40 L412.76,395.65 L414.62,395.89 L416.48,396.14 L418.34,396.39 L420.21,396.63 L422.07,396.88 L423.93,397.14 L425.79,397.39 L427.65,397.64 L429.51,397.90 L431.37,398.16 L433.23,398.43 L435.09,398.69 L436.95,398.96 L438.82,399.24 L440.68,399.52 L442.54,399.80 L444.40,400.09 L446.26,400.38 L448.12,400.67 L449.98,400.96 L451.84,401.25 L453.70,401.54 L455.56,401.81 L457.43,402.08 L459.29,402.33 L461.15,402.57 L463.01,402.80 L464.87,403.00 L466.73,403.18 L468.59,403.34 L470.45,403.48 L472.31,403.58 L474.17,403.65 L476.04,403.69 L477.90,403.70 L479.76,403.67 L481.62,403.60 L483.48,403.49 L485.34,403.34 L487.20,403.15 L489.06,402.92 L490.92,402.64 L492.78,402.32 L494.65,401.96 L496.51,401.55 L498.37,401.10 L500.23,400.59 L502.09,400.05 L503.95,399.46 L505.81,398.83 L507.67,398.17 L509.53,397.49 L511.39,396.78 L513.26,396.05 L515.12,395.30 L516.98,394.54 L518.84,393.77 L520.70,393.00" fill="none" stroke="#e8707a" stroke-width="1.8"/>
<path d="M410.90,380.40 L412.76,379.68 L414.62,378.98 L416.48,378.30 L418.34,377.67 L420.21,377.09 L422.07,376.59 L423.93,376.17 L425.79,375.85 L427.65,375.65 L429.51,375.58 L431.37,375.63 L433.23,375.81 L435.09,376.11 L436.95,376.53 L438.82,377.04 L440.68,377.65 L442.54,378.36 L444.40,379.15 L446.26,380.01 L448.12,380.94 L449.98,381.94 L451.84,382.99 L453.70,384.10 L455.56,385.24 L457.43,386.43 L459.29,387.64 L461.15,388.87 L463.01,390.12 L464.87,391.37 L466.73,392.63 L468.59,393.88 L470.45,395.14 L472.31,396.39 L474.17,397.64 L476.04,398.89 L477.90,400.14 L479.76,401.38 L481.62,402.62 L483.48,403.87 L485.34,405.11 L487.20,406.35 L489.06,407.58 L490.92,408.82 L492.78,410.06 L494.65,411.29 L496.51,412.52 L498.37,413.75 L500.23,414.98 L502.09,416.18 L503.95,417.31 L505.81,418.34 L507.67,419.23 L509.53,419.94 L511.39,420.45 L513.26,420.78 L515.12,420.96 L516.98,421.04 L518.84,421.04 L520.70,421.00" fill="none" stroke="#5b8ee6" stroke-width="2.0"/>
</g>
<line x1="406.90" y1="357.30" x2="406.90" y2="422.30" stroke="#111" stroke-width="1.1" />
<line x1="406.40" y1="421.80" x2="525.00" y2="421.80" stroke="#111" stroke-width="1.1" />
<line x1="404.60" y1="357.60" x2="406.90" y2="357.60" stroke="#222" stroke-width="0.7" />
<line x1="404.60" y1="421.20" x2="406.90" y2="421.20" stroke="#222" stroke-width="0.7" />
<line x1="410.90" y1="421.80" x2="410.90" y2="423.40" stroke="#222" stroke-width="0.6" />
<line x1="432.86" y1="421.80" x2="432.86" y2="423.40" stroke="#222" stroke-width="0.6" />
<line x1="454.82" y1="421.80" x2="454.82" y2="423.40" stroke="#222" stroke-width="0.6" />
<line x1="476.78" y1="421.80" x2="476.78" y2="423.40" stroke="#222" stroke-width="0.6" />
<line x1="498.74" y1="421.80" x2="498.74" y2="423.40" stroke="#222" stroke-width="0.6" />
<line x1="520.70" y1="421.80" x2="520.70" y2="423.40" stroke="#222" stroke-width="0.6" />
<text x="404.10" y="360.90" text-anchor="end" textLength="12.80" lengthAdjust="spacingAndGlyphs" >2.5</text>
<text x="404.10" y="423.20" text-anchor="end" textLength="12.80" lengthAdjust="spacingAndGlyphs" >0.0</text>
<text x="414.50" y="345.50" textLength="102.90" lengthAdjust="spacingAndGlyphs" >Wnt: SFRP1 (EMD=0.406)</text>
<text x="466.30" y="432.80" text-anchor="middle" textLength="46.40" lengthAdjust="spacingAndGlyphs" >Pseudotime</text>
<text x="0" y="0" text-anchor="middle" textLength="44.40" lengthAdjust="spacingAndGlyphs" transform="translate(94.30,389.50) rotate(-90)">Expression</text>
<text x="0" y="0" text-anchor="middle" textLength="29.70" lengthAdjust="spacingAndGlyphs" transform="translate(105.40,389.80) rotate(-90)">(norm.)</text>
<text x="536.0" y="322.3" style="font-size:15.3px;font-weight:bold;stroke:#000;stroke-width:0.45px">g</text>
<text x="582.60" y="328.70" textLength="62.20" lengthAdjust="spacingAndGlyphs" >SFRP1 (v−SVZ)</text>
<line x1="567.10" y1="334.80" x2="567.10" y2="421.40" stroke="#222" stroke-width="0.9" />
<line x1="566.70" y1="421.00" x2="656.30" y2="421.00" stroke="#222" stroke-width="0.9" />
<text x="0" y="0" text-anchor="middle" textLength="29.30" lengthAdjust="spacingAndGlyphs" transform="translate(565.30,379.20) rotate(-90)">UMAP1</text>
<text x="599.60" y="430.60" textLength="28.90" lengthAdjust="spacingAndGlyphs" >UMAP2</text>
<path d="M585.2,342.4 C593,342.5 598,350 600,360 C602,366 605,372 603.5,378.5 C601,385 592,388 584,387.5 C578,387 574,380 572.3,372 C570.5,363 571,353 575.5,347 C578.5,343.5 582,342.4 585.2,342.4 Z" fill="#d3d3d3" stroke="#555" stroke-width="0.5"/>
<path d="M581.0,356.0 L585.0,350.5 L592.7,346.5 L600.0,344.7 L606.9,340.7 L616.2,338.9 L623.1,339.5 L633.5,340.7 L643.8,343.5 L648.5,347.0 L649.6,353.9 L651.9,364.3 L652.5,367.2 L649.6,370.1 L646.7,369.5 L645.6,363.2 L642.7,363.7 L640.4,367.8 L638.1,366.6 L636.9,363.2 L632.3,361.5 L627.7,358.2 L623.1,355.5 L618.5,353.2 L611.5,352.3 L606.9,352.8 L603.5,355.5 L601.0,362.0 L599.8,372.6 L600.2,379.2 L599.8,385.8 L601.5,391.7 L605.5,398.2 L609.4,401.5 L616.0,401.5 L622.6,400.9 L623.9,394.3 L627.8,390.4 L634.4,387.7 L638.3,388.4 L643.6,392.3 L646.9,397.6 L646.2,405.5 L642.3,412.0 L635.7,416.0 L629.1,416.6 L622.6,413.4 L616.0,414.7 L612.0,417.3 L604.2,415.3 L596.3,414.7 L592.8,408.4 L591.5,401.5 L590.0,394.6 L585.9,389.0 L582.5,383.5 L580.0,378.7 L581.1,373.8 L581.8,365.5 L580.5,360.0 Z" fill="#0a0510" stroke="#000" stroke-width="1.2" stroke-linejoin="round"/>
<circle cx="616.4" cy="346.8" r="0.9" fill="#1a0b3d"/>
<circle cx="635.8" cy="348.7" r="0.9" fill="#1e0b41"/>
<circle cx="640.1" cy="362.5" r="0.9" fill="#250b49"/>
<circle cx="638.7" cy="365.6" r="0.9" fill="#250b49"/>
<circle cx="624.6" cy="342.5" r="0.9" fill="#2d0a51"/>
<circle cx="650.9" cy="366.3" r="0.9" fill="#2d0a52"/>
<circle cx="630.7" cy="351.6" r="0.9" fill="#310a56"/>
<circle cx="589.9" cy="358.3" r="0.9" fill="#320a56"/>
<circle cx="644.9" cy="359.5" r="0.9" fill="#340a59"/>
<circle cx="621.1" cy="346.4" r="0.9" fill="#340a59"/>
<circle cx="599.4" cy="360.6" r="0.9" fill="#370a5c"/>
<circle cx="582.8" cy="363.4" r="0.9" fill="#370a5c"/>
<circle cx="602.6" cy="346.0" r="0.9" fill="#370a5c"/>
<circle cx="645.4" cy="362.4" r="0.9" fill="#380a5d"/>
<circle cx="590.3" cy="355.9" r="0.9" fill="#380a5e"/>
<circle cx="632.2" cy="353.2" r="0.9" fill="#3a0a5f"/>
<circle cx="646.5" cy="356.8" r="0.9" fill="#3a0a60"/>
<circle cx="622.4" cy="340.4" r="0.9" fill="#3a0a60"/>
<circle cx="642.0" cy="350.3" r="0.9" fill="#3b0a60"/>
<circle cx="613.6" cy="348.8" r="0.9" fill="#3b0a61"/>
<circle cx="642.1" cy="402.2" r="0.9" fill="#3c0a62"/>
<circle cx="637.9" cy="354.0" r="0.9" fill="#3c0a62"/>
<circle cx="610.3" cy="343.9" r="0.9" fill="#3c0a62"/>
<circle cx="602.4" cy="354.7" r="0.9" fill="#3d0a63"/>
<circle cx="586.8" cy="365.1" r="0.9" fill="#3d0a63"/>
<circle cx="631.6" cy="355.6" r="0.9" fill="#3e0a63"/>
<circle cx="644.8" cy="348.0" r="0.9" fill="#3e0a63"/>
<circle cx="606.1" cy="350.6" r="0.9" fill="#3f0a65"/>
<circle cx="644.2" cy="356.3" r="0.9" fill="#400a66"/>
<circle cx="589.5" cy="360.7" r="0.9" fill="#410a67"/>
<circle cx="613.6" cy="342.0" r="0.9" fill="#420a68"/>
<circle cx="593.3" cy="359.7" r="0.9" fill="#420a68"/>
<circle cx="593.1" cy="368.6" r="0.9" fill="#420a68"/>
<circle cx="649.3" cy="358.2" r="0.9" fill="#420a68"/>
<circle cx="599.8" cy="345.7" r="0.9" fill="#430a68"/>
<circle cx="641.4" cy="409.4" r="0.9" fill="#430a68"/>
<circle cx="599.4" cy="350.0" r="0.9" fill="#430a68"/>
<circle cx="647.2" cy="366.9" r="0.9" fill="#450b69"/>
<circle cx="642.1" cy="357.5" r="0.9" fill="#460b69"/>
<circle cx="637.7" cy="403.3" r="0.9" fill="#460b69"/>
<circle cx="582.6" cy="366.0" r="0.9" fill="#470b69"/>
<circle cx="640.4" cy="347.6" r="0.9" fill="#470c69"/>
<circle cx="645.1" cy="353.3" r="0.9" fill="#480c69"/>
<circle cx="629.0" cy="392.2" r="0.9" fill="#490c69"/>
<circle cx="604.3" cy="344.5" r="0.9" fill="#4a0d69"/>
<circle cx="614.8" cy="345.0" r="0.9" fill="#4a0d69"/>
<circle cx="647.8" cy="361.2" r="0.9" fill="#4a0d69"/>
<circle cx="611.2" cy="340.9" r="0.9" fill="#4a0d69"/>
<circle cx="628.0" cy="347.2" r="0.9" fill="#4a0d69"/>
<circle cx="598.7" cy="368.5" r="0.9" fill="#4b0d69"/>
<circle cx="617.1" cy="340.1" r="0.9" fill="#4b0d69"/>
<circle cx="628.3" cy="349.3" r="0.9" fill="#4b0d69"/>
<circle cx="617.9" cy="348.5" r="0.9" fill="#4b0d69"/>
<circle cx="637.6" cy="360.6" r="0.9" fill="#4c0d69"/>
<circle cx="642.8" cy="354.2" r="0.9" fill="#4c0d69"/>
<circle cx="647.3" cy="348.3" r="0.9" fill="#4c0d6a"/>
<circle cx="650.3" cy="361.8" r="0.9" fill="#4c0d6a"/>
<circle cx="609.0" cy="341.3" r="0.9" fill="#4d0e6a"/>
<circle cx="638.1" cy="344.8" r="0.9" fill="#4d0e6a"/>
<circle cx="644.5" cy="400.2" r="0.9" fill="#4e0e6a"/>
<circle cx="643.3" cy="346.1" r="0.9" fill="#4e0e6a"/>
<circle cx="635.7" cy="361.9" r="0.9" fill="#4e0e6a"/>
<circle cx="602.9" cy="348.8" r="0.9" fill="#4f0e6a"/>
<circle cx="584.9" cy="366.3" r="0.9" fill="#4f0e6a"/>
<circle cx="612.4" cy="344.7" r="0.9" fill="#4f0e6a"/>
<circle cx="629.8" cy="357.5" r="0.9" fill="#500f6a"/>
<circle cx="614.1" cy="351.5" r="0.9" fill="#500f6a"/>
<circle cx="634.5" cy="357.1" r="0.9" fill="#500f6a"/>
<circle cx="586.2" cy="379.1" r="0.9" fill="#500f6a"/>
<circle cx="611.3" cy="347.3" r="0.9" fill="#510f6a"/>
<circle cx="588.1" cy="367.0" r="0.9" fill="#510f6a"/>
<circle cx="636.5" cy="356.0" r="0.9" fill="#520f6a"/>
<circle cx="636.3" cy="413.7" r="0.9" fill="#520f6a"/>
<circle cx="635.3" cy="345.9" r="0.9" fill="#520f6a"/>
<circle cx="614.9" cy="340.2" r="0.9" fill="#530f6a"/>
<circle cx="592.3" cy="372.0" r="0.9" fill="#53106b"/>
<circle cx="587.4" cy="371.8" r="0.9" fill="#53106b"/>
<circle cx="600.6" cy="352.4" r="0.9" fill="#54106b"/>
<circle cx="581.9" cy="360.2" r="0.9" fill="#54106b"/>
<circle cx="599.6" cy="357.8" r="0.9" fill="#55106b"/>
<circle cx="618.9" cy="350.5" r="0.9" fill="#55106b"/>
<circle cx="609.0" cy="345.9" r="0.9" fill="#55106b"/>
<circle cx="590.2" cy="372.5" r="0.9" fill="#56116b"/>
<circle cx="638.6" cy="356.6" r="0.9" fill="#56116b"/>
<circle cx="639.8" cy="358.7" r="0.9" fill="#57116b"/>
<circle cx="618.2" cy="344.8" r="0.9" fill="#57116b"/>
<circle cx="643.0" cy="362.8" r="0.9" fill="#58116b"/>
<circle cx="640.7" cy="344.7" r="0.9" fill="#58116b"/>
<circle cx="646.9" cy="363.9" r="0.9" fill="#58116b"/>
<circle cx="630.0" cy="346.4" r="0.9" fill="#59116b"/>
<circle cx="622.6" cy="407.5" r="0.9" fill="#59116b"/>
<circle cx="619.9" cy="352.6" r="0.9" fill="#59116b"/>
<circle cx="583.2" cy="380.1" r="0.9" fill="#59126b"/>
<circle cx="596.2" cy="366.2" r="0.9" fill="#59126b"/>
<circle cx="586.3" cy="351.4" r="0.9" fill="#59126c"/>
<circle cx="641.8" cy="397.4" r="0.9" fill="#59126c"/>
<circle cx="632.7" cy="348.2" r="0.9" fill="#5a126c"/>
<circle cx="627.6" cy="356.8" r="0.9" fill="#5b126c"/>
<circle cx="625.5" cy="350.1" r="0.9" fill="#5c126c"/>
<circle cx="620.8" cy="348.6" r="0.9" fill="#5c126c"/>
<circle cx="637.9" cy="363.0" r="0.9" fill="#5c126c"/>
<circle cx="624.2" cy="354.8" r="0.9" fill="#5c126c"/>
<circle cx="590.5" cy="367.9" r="0.9" fill="#5c136c"/>
<circle cx="596.8" cy="347.1" r="0.9" fill="#5c136c"/>
<circle cx="598.8" cy="347.9" r="0.9" fill="#5c136c"/>
<circle cx="628.7" cy="404.9" r="0.9" fill="#5d136c"/>
<circle cx="631.8" cy="403.1" r="0.9" fill="#5d136c"/>
<circle cx="627.9" cy="342.2" r="0.9" fill="#5d136c"/>
<circle cx="595.1" cy="369.5" r="0.9" fill="#5d136c"/>
<circle cx="630.5" cy="348.7" r="0.9" fill="#5d136c"/>
<circle cx="589.6" cy="364.1" r="0.9" fill="#5d136c"/>
<circle cx="601.6" cy="356.8" r="0.9" fill="#5d136c"/>
<circle cx="619.6" cy="341.5" r="0.9" fill="#5e136c"/>
<circle cx="640.5" cy="392.8" r="0.9" fill="#5f136c"/>
<circle cx="633.7" cy="355.0" r="0.9" fill="#5f136c"/>
<circle cx="594.6" cy="371.9" r="0.9" fill="#60146d"/>
<circle cx="648.5" cy="352.6" r="0.9" fill="#61146d"/>
<circle cx="628.3" cy="344.7" r="0.9" fill="#61146d"/>
<circle cx="639.7" cy="352.8" r="0.9" fill="#62146d"/>
<circle cx="623.9" cy="348.3" r="0.9" fill="#62146d"/>
<circle cx="648.3" cy="355.4" r="0.9" fill="#62156d"/>
<circle cx="647.3" cy="359.0" r="0.9" fill="#63156d"/>
<circle cx="582.6" cy="373.9" r="0.9" fill="#63156d"/>
<circle cx="620.2" cy="343.7" r="0.9" fill="#63156d"/>
<circle cx="597.1" cy="349.4" r="0.9" fill="#63156d"/>
<circle cx="636.2" cy="401.5" r="0.9" fill="#63156d"/>
<circle cx="639.1" cy="411.2" r="0.9" fill="#64156d"/>
<circle cx="589.3" cy="351.1" r="0.9" fill="#64156d"/>
<circle cx="606.4" cy="343.8" r="0.9" fill="#64156d"/>
<circle cx="584.5" cy="371.5" r="0.9" fill="#64156d"/>
<circle cx="645.2" cy="396.6" r="0.9" fill="#64156d"/>
<circle cx="604.0" cy="352.3" r="0.9" fill="#65156d"/>
<circle cx="599.1" cy="365.6" r="0.9" fill="#66166d"/>
<circle cx="598.1" cy="351.8" r="0.9" fill="#67166d"/>
<circle cx="645.5" cy="345.8" r="0.9" fill="#67166d"/>
<circle cx="632.9" cy="342.9" r="0.9" fill="#67166e"/>
<circle cx="595.4" cy="357.7" r="0.9" fill="#68166e"/>
<circle cx="625.8" cy="353.2" r="0.9" fill="#68166e"/>
<circle cx="595.0" cy="361.2" r="0.9" fill="#68166e"/>
<circle cx="646.8" cy="350.7" r="0.9" fill="#68166e"/>
<circle cx="599.0" cy="354.0" r="0.9" fill="#68166e"/>
<circle cx="597.6" cy="357.1" r="0.9" fill="#69176e"/>
<circle cx="632.9" cy="350.9" r="0.9" fill="#69176e"/>
<circle cx="628.8" cy="354.1" r="0.9" fill="#69176e"/>
<circle cx="586.5" cy="357.6" r="0.9" fill="#69176e"/>
<circle cx="625.6" cy="413.7" r="0.9" fill="#69176e"/>
<circle cx="609.4" cy="351.5" r="0.9" fill="#6b176e"/>
<circle cx="631.5" cy="344.8" r="0.9" fill="#6b176e"/>
<circle cx="628.3" cy="351.9" r="0.9" fill="#6b176e"/>
<circle cx="624.8" cy="401.9" r="0.9" fill="#6b176e"/>
<circle cx="598.1" cy="371.4" r="0.9" fill="#6c186e"/>
<circle cx="589.2" cy="378.9" r="0.9" fill="#6c186e"/>
<circle cx="627.1" cy="406.4" r="0.9" fill="#6c186e"/>
<circle cx="641.9" cy="360.8" r="0.9" fill="#6d186e"/>
<circle cx="590.6" cy="384.4" r="0.9" fill="#6d186e"/>
<circle cx="635.4" cy="343.0" r="0.9" fill="#6d186d"/>
<circle cx="636.5" cy="351.9" r="0.9" fill="#6d186d"/>
<circle cx="591.9" cy="349.3" r="0.9" fill="#6e196d"/>
<circle cx="622.7" cy="344.8" r="0.9" fill="#6f196d"/>
<circle cx="585.6" cy="363.0" r="0.9" fill="#6f196d"/>
<circle cx="593.7" cy="364.1" r="0.9" fill="#6f196d"/>
<circle cx="630.3" cy="412.3" r="0.9" fill="#6f196d"/>
<circle cx="596.6" cy="372.9" r="0.9" fill="#70196d"/>
<circle cx="626.3" cy="403.6" r="0.9" fill="#70196d"/>
<circle cx="630.9" cy="398.8" r="0.9" fill="#711a6d"/>
<circle cx="635.3" cy="410.9" r="0.9" fill="#711a6d"/>
<circle cx="596.3" cy="364.0" r="0.9" fill="#711a6d"/>
<circle cx="592.3" cy="366.5" r="0.9" fill="#721a6d"/>
<circle cx="608.4" cy="349.0" r="0.9" fill="#721a6d"/>
<circle cx="632.3" cy="358.7" r="0.9" fill="#721a6d"/>
<circle cx="630.1" cy="414.6" r="0.9" fill="#721a6d"/>
<circle cx="598.6" cy="381.6" r="0.9" fill="#721a6d"/>
<circle cx="594.5" cy="376.9" r="0.9" fill="#741b6c"/>
<circle cx="582.8" cy="356.9" r="0.9" fill="#741b6c"/>
<circle cx="632.6" cy="389.7" r="0.9" fill="#741b6c"/>
<circle cx="584.3" cy="359.7" r="0.9" fill="#751b6c"/>
<circle cx="632.6" cy="397.0" r="0.9" fill="#761b6c"/>
<circle cx="588.5" cy="354.5" r="0.9" fill="#761b6c"/>
<circle cx="641.0" cy="364.8" r="0.9" fill="#761b6c"/>
<circle cx="645.6" cy="402.1" r="0.9" fill="#761c6c"/>
<circle cx="633.7" cy="399.6" r="0.9" fill="#771c6c"/>
<circle cx="605.8" cy="347.9" r="0.9" fill="#781c6c"/>
<circle cx="598.5" cy="377.7" r="0.9" fill="#781c6c"/>
<circle cx="633.7" cy="392.9" r="0.9" fill="#781c6c"/>
<circle cx="630.1" cy="341.5" r="0.9" fill="#781c6c"/>
<circle cx="628.6" cy="408.3" r="0.9" fill="#781c6c"/>
<circle cx="622.8" cy="412.0" r="0.9" fill="#781c6c"/>
<circle cx="621.8" cy="353.8" r="0.9" fill="#791c6b"/>
<circle cx="633.0" cy="412.4" r="0.9" fill="#791c6b"/>
<circle cx="595.3" cy="374.8" r="0.9" fill="#791c6b"/>
<circle cx="590.9" cy="353.0" r="0.9" fill="#791d6b"/>
<circle cx="634.3" cy="403.3" r="0.9" fill="#791d6b"/>
<circle cx="633.7" cy="361.1" r="0.9" fill="#7a1d6b"/>
<circle cx="596.2" cy="355.2" r="0.9" fill="#7a1d6b"/>
<circle cx="650.0" cy="368.3" r="0.9" fill="#7a1d6b"/>
<circle cx="588.2" cy="376.5" r="0.9" fill="#7b1d6b"/>
<circle cx="584.4" cy="354.7" r="0.9" fill="#7c1d6b"/>
<circle cx="627.6" cy="399.9" r="0.9" fill="#7d1e6b"/>
<circle cx="599.0" cy="373.9" r="0.9" fill="#7e1e6b"/>
<circle cx="634.3" cy="408.0" r="0.9" fill="#7e1e6b"/>
<circle cx="636.1" cy="393.1" r="0.9" fill="#7e1e6b"/>
<circle cx="625.8" cy="345.7" r="0.9" fill="#7f1f6a"/>
<circle cx="622.6" cy="351.3" r="0.9" fill="#7f1f6a"/>
<circle cx="642.3" cy="399.6" r="0.9" fill="#7f1f6a"/>
<circle cx="637.7" cy="347.0" r="0.9" fill="#801f6a"/>
<circle cx="592.7" cy="374.5" r="0.9" fill="#801f6a"/>
<circle cx="634.5" cy="395.8" r="0.9" fill="#811f6a"/>
<circle cx="626.2" cy="393.6" r="0.9" fill="#81206a"/>
<circle cx="590.6" cy="376.0" r="0.9" fill="#82206a"/>
<circle cx="637.7" cy="396.2" r="0.9" fill="#82206a"/>
<circle cx="595.9" cy="381.5" r="0.9" fill="#82206a"/>
<circle cx="622.2" cy="342.6" r="0.9" fill="#82206a"/>
<circle cx="593.2" cy="347.4" r="0.9" fill="#83206a"/>
<circle cx="631.7" cy="406.6" r="0.9" fill="#84206a"/>
<circle cx="585.0" cy="385.1" r="0.9" fill="#852169"/>
<circle cx="621.3" cy="405.7" r="0.9" fill="#862169"/>
<circle cx="589.9" cy="381.7" r="0.9" fill="#872169"/>
<circle cx="584.2" cy="382.4" r="0.9" fill="#872269"/>
<circle cx="616.7" cy="350.8" r="0.9" fill="#882269"/>
<circle cx="635.3" cy="359.2" r="0.9" fill="#892269"/>
<circle cx="640.3" cy="355.2" r="0.9" fill="#892369"/>
<circle cx="588.4" cy="374.2" r="0.9" fill="#8a2369"/>
<circle cx="597.0" cy="359.2" r="0.9" fill="#8a2368"/>
<circle cx="631.4" cy="392.0" r="0.9" fill="#8b2368"/>
<circle cx="639.6" cy="401.0" r="0.9" fill="#8b2368"/>
<circle cx="592.8" cy="354.9" r="0.9" fill="#8b2368"/>
<circle cx="589.8" cy="370.4" r="0.9" fill="#8c2368"/>
<circle cx="597.2" cy="375.8" r="0.9" fill="#8c2368"/>
<circle cx="594.3" cy="352.9" r="0.9" fill="#8c2368"/>
<circle cx="628.1" cy="395.4" r="0.9" fill="#8d2468"/>
<circle cx="635.1" cy="388.7" r="0.9" fill="#8e2468"/>
<circle cx="592.3" cy="357.5" r="0.9" fill="#8e2468"/>
<circle cx="634.1" cy="414.9" r="0.9" fill="#8e2468"/>
<circle cx="644.2" cy="350.6" r="0.9" fill="#8e2468"/>
<circle cx="598.5" cy="383.7" r="0.9" fill="#8f2568"/>
<circle cx="624.5" cy="397.2" r="0.9" fill="#902568"/>
<circle cx="636.5" cy="399.2" r="0.9" fill="#902567"/>
<circle cx="624.9" cy="399.6" r="0.9" fill="#912567"/>
<circle cx="632.0" cy="394.5" r="0.9" fill="#932667"/>
<circle cx="593.9" cy="385.9" r="0.9" fill="#942667"/>
<circle cx="624.2" cy="404.3" r="0.9" fill="#942766"/>
<circle cx="636.1" cy="390.9" r="0.9" fill="#952766"/>
<circle cx="598.1" cy="362.6" r="0.9" fill="#952766"/>
<circle cx="595.6" cy="379.3" r="0.9" fill="#962766"/>
<circle cx="639.9" cy="403.4" r="0.9" fill="#972865"/>
<circle cx="584.7" cy="373.8" r="0.9" fill="#972865"/>
<circle cx="639.1" cy="390.8" r="0.9" fill="#982865"/>
<circle cx="594.4" cy="349.9" r="0.9" fill="#992964"/>
<circle cx="631.2" cy="400.9" r="0.9" fill="#9a2964"/>
<circle cx="650.9" cy="364.0" r="0.9" fill="#9c2a63"/>
<circle cx="585.7" cy="368.4" r="0.9" fill="#9e2a62"/>
<circle cx="616.8" cy="342.5" r="0.9" fill="#9f2b62"/>
<circle cx="628.3" cy="402.2" r="0.9" fill="#a22c60"/>
<circle cx="583.9" cy="376.3" r="0.9" fill="#a22c60"/>
<circle cx="642.9" cy="394.4" r="0.9" fill="#a22c60"/>
<circle cx="595.9" cy="351.4" r="0.9" fill="#a32d60"/>
<circle cx="628.7" cy="410.5" r="0.9" fill="#a42d5f"/>
<circle cx="599.2" cy="389.1" r="0.9" fill="#a42d5f"/>
<circle cx="592.6" cy="393.8" r="0.9" fill="#a52e5f"/>
<circle cx="596.5" cy="392.1" r="0.9" fill="#a62e5e"/>
<circle cx="587.3" cy="359.6" r="0.9" fill="#a62e5e"/>
<circle cx="592.6" cy="378.8" r="0.9" fill="#a72e5e"/>
<circle cx="639.3" cy="350.3" r="0.9" fill="#a72e5e"/>
<circle cx="581.2" cy="378.9" r="0.9" fill="#a72e5e"/>
<circle cx="586.4" cy="375.3" r="0.9" fill="#a82f5d"/>
<circle cx="626.2" cy="409.9" r="0.9" fill="#aa2f5d"/>
<circle cx="637.2" cy="409.1" r="0.9" fill="#ae315b"/>
<circle cx="622.7" cy="409.8" r="0.9" fill="#ae315b"/>
<circle cx="618.5" cy="404.4" r="0.9" fill="#ae315a"/>
<circle cx="638.4" cy="413.3" r="0.9" fill="#b0325a"/>
<circle cx="624.6" cy="395.0" r="0.9" fill="#b13259"/>
<circle cx="648.9" cy="365.0" r="0.9" fill="#b23359"/>
<circle cx="591.1" cy="386.5" r="0.9" fill="#b43458"/>
<circle cx="640.7" cy="406.4" r="0.9" fill="#b43458"/>
<circle cx="592.8" cy="382.6" r="0.9" fill="#b43458"/>
<circle cx="599.1" cy="392.5" r="0.9" fill="#ba3655"/>
<circle cx="582.3" cy="369.7" r="0.9" fill="#bc3754"/>
<circle cx="631.2" cy="410.2" r="0.9" fill="#be3853"/>
<circle cx="600.4" cy="399.7" r="0.9" fill="#be3853"/>
<circle cx="601.8" cy="394.1" r="0.9" fill="#bf3952"/>
<circle cx="611.5" cy="350.0" r="0.9" fill="#c03a51"/>
<circle cx="642.8" cy="407.6" r="0.9" fill="#c23b50"/>
<circle cx="596.2" cy="386.8" r="0.9" fill="#c33d4e"/>
<circle cx="635.5" cy="406.2" r="0.9" fill="#c43d4e"/>
<circle cx="598.4" cy="396.5" r="0.9" fill="#c43e4d"/>
<circle cx="620.7" cy="410.9" r="0.9" fill="#c53e4d"/>
<circle cx="644.5" cy="404.2" r="0.9" fill="#c63f4c"/>
<circle cx="622.8" cy="402.6" r="0.9" fill="#c63f4c"/>
<circle cx="595.3" cy="404.3" r="0.9" fill="#c7404b"/>
<circle cx="589.4" cy="391.1" r="0.9" fill="#c8414a"/>
<circle cx="586.5" cy="388.0" r="0.9" fill="#ca4249"/>
<circle cx="639.3" cy="394.7" r="0.9" fill="#ca4249"/>
<circle cx="596.0" cy="394.4" r="0.9" fill="#cb4348"/>
<circle cx="592.5" cy="389.0" r="0.9" fill="#cc4348"/>
<circle cx="598.5" cy="386.0" r="0.9" fill="#cd4447"/>
<circle cx="592.1" cy="398.3" r="0.9" fill="#cd4546"/>
<circle cx="581.7" cy="376.5" r="0.9" fill="#d04744"/>
<circle cx="603.4" cy="413.4" r="0.9" fill="#d14843"/>
<circle cx="597.3" cy="411.5" r="0.9" fill="#d64b40"/>
<circle cx="595.6" cy="384.5" r="0.9" fill="#d64c3f"/>
<circle cx="627.9" cy="414.1" r="0.9" fill="#d74c3f"/>
<circle cx="603.0" cy="404.8" r="0.9" fill="#d74c3f"/>
<circle cx="596.6" cy="389.4" r="0.9" fill="#d84d3e"/>
<circle cx="615.6" cy="410.8" r="0.9" fill="#d94e3d"/>
<circle cx="593.4" cy="406.0" r="0.9" fill="#d94e3d"/>
<circle cx="597.6" cy="407.4" r="0.9" fill="#dc503b"/>
<circle cx="639.4" cy="397.9" r="0.9" fill="#dc503b"/>
<circle cx="588.8" cy="385.6" r="0.9" fill="#dc503b"/>
<circle cx="593.2" cy="391.5" r="0.9" fill="#df5536"/>
<circle cx="637.8" cy="405.8" r="0.9" fill="#e05636"/>
<circle cx="599.5" cy="411.3" r="0.9" fill="#e15834"/>
<circle cx="609.2" cy="414.9" r="0.9" fill="#e15934"/>
<circle cx="594.9" cy="408.4" r="0.9" fill="#e25933"/>
<circle cx="610.9" cy="402.5" r="0.9" fill="#e25933"/>
<circle cx="605.0" cy="400.7" r="0.9" fill="#e35c31"/>
<circle cx="597.7" cy="402.8" r="0.9" fill="#e45d30"/>
<circle cx="601.8" cy="396.6" r="0.9" fill="#e45e2f"/>
<circle cx="590.5" cy="393.2" r="0.9" fill="#e45e2f"/>
<circle cx="619.5" cy="402.3" r="0.9" fill="#e55f2f"/>
<circle cx="597.8" cy="399.7" r="0.9" fill="#e55f2e"/>
<circle cx="620.3" cy="408.4" r="0.9" fill="#e6612d"/>
<circle cx="607.4" cy="413.3" r="0.9" fill="#e6612c"/>
<circle cx="587.3" cy="382.5" r="0.9" fill="#e7622c"/>
<circle cx="589.7" cy="388.8" r="0.9" fill="#e7622b"/>
<circle cx="596.0" cy="396.6" r="0.9" fill="#e8642a"/>
<circle cx="602.5" cy="411.4" r="0.9" fill="#e96727"/>
<circle cx="607.9" cy="404.7" r="0.9" fill="#ea6826"/>
<circle cx="593.1" cy="400.5" r="0.9" fill="#ec6b24"/>
<circle cx="601.7" cy="406.9" r="0.9" fill="#ed6e21"/>
<circle cx="603.7" cy="397.9" r="0.9" fill="#ef711f"/>
<circle cx="598.8" cy="413.4" r="0.9" fill="#ef711f"/>
<circle cx="601.2" cy="414.1" r="0.9" fill="#f0721e"/>
<circle cx="615.9" cy="403.8" r="0.9" fill="#f1741c"/>
<circle cx="605.6" cy="403.4" r="0.9" fill="#f1741c"/>
<circle cx="592.2" cy="396.0" r="0.9" fill="#f2761b"/>
<circle cx="628.7" cy="397.7" r="0.9" fill="#f2761b"/>
<circle cx="624.9" cy="406.8" r="0.9" fill="#f2761b"/>
<circle cx="612.4" cy="407.6" r="0.9" fill="#f47b18"/>
<circle cx="613.2" cy="403.9" r="0.9" fill="#f47c18"/>
<circle cx="596.6" cy="413.6" r="0.9" fill="#f47d17"/>
<circle cx="595.3" cy="401.5" r="0.9" fill="#f47f17"/>
<circle cx="611.7" cy="414.4" r="0.9" fill="#f47f17"/>
<circle cx="603.1" cy="401.9" r="0.9" fill="#f58016"/>
<circle cx="617.1" cy="408.5" r="0.9" fill="#f58315"/>
<circle cx="614.4" cy="406.7" r="0.9" fill="#f68614"/>
<circle cx="618.4" cy="411.7" r="0.9" fill="#f68714"/>
<circle cx="617.0" cy="406.1" r="0.9" fill="#f78b13"/>
<circle cx="600.7" cy="409.2" r="0.9" fill="#f78e12"/>
<circle cx="605.4" cy="414.5" r="0.9" fill="#f89011"/>
<circle cx="608.1" cy="402.1" r="0.9" fill="#f89111"/>
<circle cx="611.3" cy="409.5" r="0.9" fill="#f99410"/>
<circle cx="616.4" cy="413.6" r="0.9" fill="#f9950f"/>
<circle cx="602.9" cy="409.2" r="0.9" fill="#f9970f"/>
<circle cx="613.8" cy="414.8" r="0.9" fill="#fa9b0d"/>
<circle cx="593.3" cy="403.2" r="0.9" fill="#fb9f0c"/>
<circle cx="610.3" cy="406.5" r="0.9" fill="#fca60b"/>
<circle cx="594.7" cy="398.4" r="0.9" fill="#fbaa10"/>
<circle cx="598.4" cy="404.9" r="0.9" fill="#fbaf16"/>
<circle cx="610.2" cy="412.9" r="0.9" fill="#fbb018"/>
<circle cx="607.4" cy="407.9" r="0.9" fill="#fab219"/>
<circle cx="604.3" cy="407.3" r="0.9" fill="#fab21a"/>
<circle cx="614.0" cy="409.1" r="0.9" fill="#fab51d"/>
<circle cx="606.0" cy="405.7" r="0.9" fill="#fab51e"/>
<circle cx="613.9" cy="412.3" r="0.9" fill="#fab922"/>
<circle cx="600.8" cy="402.5" r="0.9" fill="#f7d03d"/>
<circle cx="609.0" cy="410.7" r="0.9" fill="#f7df5a"/>
<circle cx="605.7" cy="410.2" r="0.9" fill="#fcffa4"/>
<path d="M583.5,359.8 L586.5,358.5 L588.5,360.5 L591,359.5 L593.5,361 L596,360.2 L596.5,363.2 L594,364.8 L591,363.8 L588.5,365.5 L586,363.5 L583.5,362.3 Z" fill="#d3d3d3"/>
<defs><linearGradient id="ginf" x1="0" x2="0" y1="1" y2="0"><stop offset="0.0" stop-color="#000004"/><stop offset="0.1" stop-color="#160b39"/><stop offset="0.2" stop-color="#420a68"/><stop offset="0.3" stop-color="#6a176e"/><stop offset="0.4" stop-color="#932667"/><stop offset="0.5" stop-color="#bc3754"/><stop offset="0.6" stop-color="#dd513a"/><stop offset="0.7" stop-color="#f37819"/><stop offset="0.8" stop-color="#fca50a"/><stop offset="0.9" stop-color="#f6d746"/><stop offset="1.0" stop-color="#fcffa4"/></linearGradient></defs>
<rect x="664.4" y="388.1" width="4.2" height="29.3" fill="url(#ginf)" stroke="#000" stroke-width="0.4"/>
<text x="670.30" y="392.60" textLength="4.50" lengthAdjust="spacingAndGlyphs" >1</text>
<text x="670.30" y="419.40" textLength="4.80" lengthAdjust="spacingAndGlyphs" >0</text>
</svg></body></html>
